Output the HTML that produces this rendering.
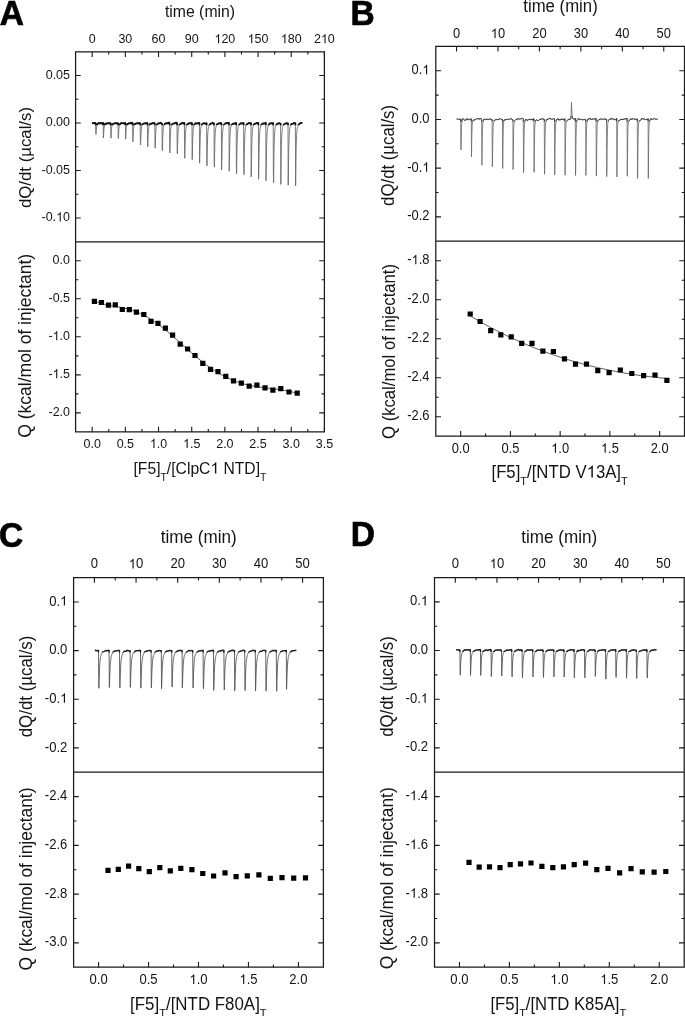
<!DOCTYPE html>
<html><head><meta charset="utf-8"><style>
html,body{margin:0;padding:0;background:#fff;}
svg{display:block;will-change:transform;}
text{font-family:"Liberation Sans", sans-serif;fill:#141414;font-kerning:none;}
</style></head><body>
<svg width="685" height="1016" viewBox="0 0 685 1016">
<rect width="685" height="1016" fill="#fff"/>
<path d="M92.19 51.80v5.20 M125.36 51.80v5.20 M158.53 51.80v5.20 M191.71 51.80v5.20 M224.88 51.80v5.20 M258.05 51.80v5.20 M291.23 51.80v5.20 M324.40 51.80v5.20 M108.77 51.80v2.80 M141.95 51.80v2.80 M175.12 51.80v2.80 M208.29 51.80v2.80 M241.47 51.80v2.80 M274.64 51.80v2.80 M307.81 51.80v2.80" stroke="#1a1a1a" stroke-width="1.1" fill="none"/>
<text transform="translate(92.19,43.20) scale(0.9346,1)" font-size="13.38" text-anchor="middle" style="" >0</text>
<text transform="translate(125.36,43.20) scale(0.9346,1)" font-size="13.38" text-anchor="middle" style="" >30</text>
<text transform="translate(158.53,43.20) scale(0.9346,1)" font-size="13.38" text-anchor="middle" style="" >60</text>
<text transform="translate(191.71,43.20) scale(0.9346,1)" font-size="13.38" text-anchor="middle" style="" >90</text>
<g transform="translate(224.88,43.20) scale(0.9346,1)"><text style="" ><tspan font-size="13.38" x="-11.16"> 20</tspan></text><polygon transform="translate(0,0.00)" points="-6.17,0.00 -7.35,0.00 -7.35,-7.20 -7.63,-6.95 -8.04,-6.65 -8.55,-6.34 -9.07,-6.07 -9.64,-5.81 -9.64,-6.90 -9.00,-7.21 -8.41,-7.57 -7.89,-7.98 -7.44,-8.41 -7.11,-8.82 -6.90,-9.20 -6.17,-9.20" style="fill:#141414"/></g>
<g transform="translate(258.05,43.20) scale(0.9346,1)"><text style="" ><tspan font-size="13.38" x="-11.16"> 50</tspan></text><polygon transform="translate(0,0.00)" points="-6.17,0.00 -7.35,0.00 -7.35,-7.20 -7.63,-6.95 -8.04,-6.65 -8.55,-6.34 -9.07,-6.07 -9.64,-5.81 -9.64,-6.90 -9.00,-7.21 -8.41,-7.57 -7.89,-7.98 -7.44,-8.41 -7.11,-8.82 -6.90,-9.20 -6.17,-9.20" style="fill:#141414"/></g>
<g transform="translate(291.23,43.20) scale(0.9346,1)"><text style="" ><tspan font-size="13.38" x="-11.16"> 80</tspan></text><polygon transform="translate(0,0.00)" points="-6.17,0.00 -7.35,0.00 -7.35,-7.20 -7.63,-6.95 -8.04,-6.65 -8.55,-6.34 -9.07,-6.07 -9.64,-5.81 -9.64,-6.90 -9.00,-7.21 -8.41,-7.57 -7.89,-7.98 -7.44,-8.41 -7.11,-8.82 -6.90,-9.20 -6.17,-9.20" style="fill:#141414"/></g>
<g transform="translate(324.40,43.20) scale(0.9346,1)"><text style="" ><tspan font-size="13.38" x="-11.16">2 0</tspan></text><polygon transform="translate(0,0.00)" points="1.26,0.00 0.09,0.00 0.09,-7.20 -0.19,-6.95 -0.60,-6.65 -1.11,-6.34 -1.63,-6.07 -2.20,-5.81 -2.20,-6.90 -1.56,-7.21 -0.98,-7.57 -0.45,-7.98 0.00,-8.41 0.33,-8.82 0.54,-9.20 1.26,-9.20" style="fill:#141414"/></g>
<path d="M75.60 218.01h5.20 M75.60 170.52h5.20 M75.60 123.03h5.20 M75.60 75.54h5.20 M75.60 194.26h2.80 M75.60 146.78h2.80 M75.60 99.29h2.80" stroke="#1a1a1a" stroke-width="1.1" fill="none"/>
<g transform="translate(70.00,221.41) scale(0.9346,1)"><text style="" ><tspan font-size="13.38" x="-30.49">-0. 0</tspan></text><polygon transform="translate(0,0.00)" points="-9.89,0.00 -11.07,0.00 -11.07,-7.20 -11.35,-6.95 -11.76,-6.65 -12.26,-6.34 -12.79,-6.07 -13.36,-5.81 -13.36,-6.90 -12.72,-7.21 -12.13,-7.57 -11.61,-7.98 -11.15,-8.41 -10.83,-8.82 -10.62,-9.20 -9.89,-9.20" style="fill:#141414"/></g>
<text transform="translate(70.00,173.92) scale(0.9346,1)" font-size="13.38" text-anchor="end" style="" >-0.05</text>
<text transform="translate(70.00,126.43) scale(0.9346,1)" font-size="13.38" text-anchor="end" style="" >0.00</text>
<text transform="translate(70.00,78.94) scale(0.9346,1)" font-size="13.38" text-anchor="end" style="" >0.05</text>
<path d="M324.40 218.01h-5.20 M324.40 170.52h-5.20 M324.40 123.03h-5.20 M324.40 75.54h-5.20 M324.40 194.26h-2.80 M324.40 146.78h-2.80 M324.40 99.29h-2.80" stroke="#1a1a1a" stroke-width="1.1" fill="none"/>
<path d="M75.60 412.88h5.20 M75.60 374.85h5.20 M75.60 336.82h5.20 M75.60 298.79h5.20 M75.60 260.76h5.20 M75.60 393.87h2.80 M75.60 355.84h2.80 M75.60 317.81h2.80 M75.60 279.78h2.80" stroke="#1a1a1a" stroke-width="1.1" fill="none"/>
<text transform="translate(70.00,416.28) scale(0.9346,1)" font-size="13.38" text-anchor="end" style="" >-2.0</text>
<g transform="translate(70.00,378.25) scale(0.9346,1)"><text style="" ><tspan font-size="13.38" x="-23.05">- .5</tspan></text><polygon transform="translate(0,0.00)" points="-13.61,0.00 -14.79,0.00 -14.79,-7.20 -15.07,-6.95 -15.47,-6.65 -15.98,-6.34 -16.50,-6.07 -17.07,-5.81 -17.07,-6.90 -16.44,-7.21 -15.85,-7.57 -15.33,-7.98 -14.87,-8.41 -14.54,-8.82 -14.34,-9.20 -13.61,-9.20" style="fill:#141414"/></g>
<g transform="translate(70.00,340.22) scale(0.9346,1)"><text style="" ><tspan font-size="13.38" x="-23.05">- .0</tspan></text><polygon transform="translate(0,0.00)" points="-13.61,0.00 -14.79,0.00 -14.79,-7.20 -15.07,-6.95 -15.47,-6.65 -15.98,-6.34 -16.50,-6.07 -17.07,-5.81 -17.07,-6.90 -16.44,-7.21 -15.85,-7.57 -15.33,-7.98 -14.87,-8.41 -14.54,-8.82 -14.34,-9.20 -13.61,-9.20" style="fill:#141414"/></g>
<text transform="translate(70.00,302.19) scale(0.9346,1)" font-size="13.38" text-anchor="end" style="" >-0.5</text>
<text transform="translate(70.00,264.16) scale(0.9346,1)" font-size="13.38" text-anchor="end" style="" >0.0</text>
<path d="M324.40 412.88h-5.20 M324.40 374.85h-5.20 M324.40 336.82h-5.20 M324.40 298.79h-5.20 M324.40 260.76h-5.20 M324.40 393.87h-2.80 M324.40 355.84h-2.80 M324.40 317.81h-2.80 M324.40 279.78h-2.80" stroke="#1a1a1a" stroke-width="1.1" fill="none"/>
<path d="M92.19 431.90v-5.20 M125.36 431.90v-5.20 M158.53 431.90v-5.20 M191.71 431.90v-5.20 M224.88 431.90v-5.20 M258.05 431.90v-5.20 M291.23 431.90v-5.20 M324.40 431.90v-5.20 M108.77 431.90v-2.80 M141.95 431.90v-2.80 M175.12 431.90v-2.80 M208.29 431.90v-2.80 M241.47 431.90v-2.80 M274.64 431.90v-2.80 M307.81 431.90v-2.80" stroke="#1a1a1a" stroke-width="1.1" fill="none"/>
<text transform="translate(92.19,447.90) scale(0.9346,1)" font-size="13.38" text-anchor="middle" style="" >0.0</text>
<text transform="translate(125.36,447.90) scale(0.9346,1)" font-size="13.38" text-anchor="middle" style="" >0.5</text>
<g transform="translate(158.53,447.90) scale(0.9346,1)"><text style="" ><tspan font-size="13.38" x="-9.30"> .0</tspan></text><polygon transform="translate(0,0.00)" points="-4.31,0.00 -5.49,0.00 -5.49,-7.20 -5.77,-6.95 -6.17,-6.65 -6.68,-6.34 -7.21,-6.07 -7.77,-5.81 -7.77,-6.90 -7.14,-7.21 -6.55,-7.57 -6.03,-7.98 -5.57,-8.41 -5.25,-8.82 -5.04,-9.20 -4.31,-9.20" style="fill:#141414"/></g>
<g transform="translate(191.71,447.90) scale(0.9346,1)"><text style="" ><tspan font-size="13.38" x="-9.30"> .5</tspan></text><polygon transform="translate(0,0.00)" points="-4.31,0.00 -5.49,0.00 -5.49,-7.20 -5.77,-6.95 -6.17,-6.65 -6.68,-6.34 -7.21,-6.07 -7.77,-5.81 -7.77,-6.90 -7.14,-7.21 -6.55,-7.57 -6.03,-7.98 -5.57,-8.41 -5.25,-8.82 -5.04,-9.20 -4.31,-9.20" style="fill:#141414"/></g>
<text transform="translate(224.88,447.90) scale(0.9346,1)" font-size="13.38" text-anchor="middle" style="" >2.0</text>
<text transform="translate(258.05,447.90) scale(0.9346,1)" font-size="13.38" text-anchor="middle" style="" >2.5</text>
<text transform="translate(291.23,447.90) scale(0.9346,1)" font-size="13.38" text-anchor="middle" style="" >3.0</text>
<text transform="translate(324.40,447.90) scale(0.9346,1)" font-size="13.38" text-anchor="middle" style="" >3.5</text>
<path d="M75.6 51.8H324.4V431.9H75.6Z M75.6 241.75H324.4" fill="none" stroke="#1a1a1a" stroke-width="1.25"/>
<g transform="translate(0,0.07)">
<clipPath id="cA"><rect x="0" y="120.03" width="685" height="5.2"/></clipPath>
<polyline points="92.00,123.14 92.20,123.18 92.40,123.11 92.60,122.96 92.80,123.00 93.00,122.84 93.20,122.89 93.40,123.02 93.60,122.96 93.80,122.95 94.00,123.15 94.20,123.04 94.40,122.96 94.60,122.89 94.80,122.95 95.00,122.92 95.20,122.96 95.40,122.85 95.60,123.13 95.80,133.09 96.00,134.45 96.20,131.51 96.40,129.04 96.60,126.99 96.80,125.79 97.00,124.86 97.20,124.26 97.40,123.88 97.60,123.69 97.80,123.65 98.00,123.57 98.20,123.42 98.40,123.19 98.60,123.13 98.80,122.87 99.00,123.11 99.20,123.18 99.40,123.31 99.60,123.41 99.80,123.48 100.00,123.38 100.20,123.14 100.40,123.00 100.60,122.75 100.80,122.79 101.00,122.94 101.20,123.02 101.40,123.12 101.60,123.45 101.80,123.43 102.00,123.24 102.20,123.23 102.40,123.26 102.60,123.06 102.80,122.91 103.00,122.94 103.20,122.91 103.40,137.93 103.60,135.20 103.80,131.46 104.00,128.74 104.20,127.14 104.40,125.85 104.60,125.04 104.80,124.58 105.00,124.14 105.20,123.70 105.40,123.43 105.60,123.50 105.80,123.47 106.00,123.49 106.20,123.57 106.40,123.75 106.60,123.55 106.80,123.56 107.00,123.58 107.20,123.40 107.40,123.08 107.60,123.14 107.80,123.17 108.00,123.13 108.20,123.05 108.40,123.18 108.60,123.06 108.80,122.94 109.00,123.01 109.20,123.23 109.40,123.30 109.60,123.40 109.80,123.48 110.00,123.36 110.20,123.21 110.40,123.09 110.60,123.03 110.80,136.24 111.00,138.15 111.20,134.08 111.40,130.69 111.60,128.31 111.80,126.63 112.00,125.59 112.20,124.83 112.40,124.46 112.60,124.16 112.80,124.02 113.00,123.82 113.20,123.97 113.40,123.78 113.60,123.72 113.80,123.55 114.00,123.57 114.20,123.42 114.40,123.31 114.60,123.31 114.80,123.26 115.00,123.10 115.20,122.97 115.40,123.22 115.60,123.15 115.80,123.06 116.00,123.15 116.20,123.21 116.40,123.03 116.60,123.13 116.80,123.25 117.00,123.21 117.20,123.29 117.40,123.31 117.60,123.18 117.80,123.11 118.00,123.02 118.20,136.55 118.40,138.33 118.60,134.01 118.80,130.51 119.00,128.03 119.20,126.26 119.40,125.36 119.60,124.77 119.80,124.33 120.00,124.07 120.20,123.90 120.40,123.57 120.60,123.45 120.80,123.27 121.00,123.15 121.20,123.15 121.40,123.06 121.60,123.06 121.80,122.88 122.00,122.90 122.20,122.96 122.40,123.17 122.60,123.30 122.80,123.30 123.00,123.37 123.20,123.40 123.40,123.38 123.60,123.13 123.80,123.30 124.00,123.39 124.20,123.14 124.40,123.09 124.60,123.27 124.80,123.17 125.00,123.05 125.20,123.09 125.40,122.97 125.60,139.09 125.80,136.20 126.00,132.09 126.20,129.35 126.40,127.41 126.60,126.22 126.80,125.45 127.00,124.94 127.20,124.34 127.40,124.20 127.60,123.96 127.80,123.75 128.00,123.60 128.20,123.73 128.40,123.60 128.60,123.41 128.80,123.20 129.00,123.19 129.20,123.02 129.40,123.08 129.60,123.24 129.80,123.28 130.00,123.29 130.20,123.22 130.40,122.92 130.60,123.07 130.80,122.95 131.00,122.90 131.20,123.05 131.40,123.24 131.60,122.90 131.80,123.16 132.00,122.97 132.20,122.76 132.40,122.71 132.60,122.93 132.80,141.76 133.00,138.51 133.20,133.90 133.40,130.54 133.60,128.13 133.80,126.61 134.00,125.62 134.20,124.98 134.40,124.58 134.60,124.30 134.80,124.03 135.00,123.80 135.20,123.67 135.40,123.56 135.60,123.54 135.80,123.67 136.00,123.58 136.20,123.53 136.40,123.33 136.60,123.28 136.80,123.15 137.00,123.08 137.20,123.07 137.40,123.21 137.60,123.18 137.80,123.06 138.00,123.20 138.20,123.20 138.40,123.16 138.60,123.27 138.80,123.41 139.00,123.29 139.20,123.23 139.40,123.21 139.60,123.09 139.80,122.81 140.00,122.96 140.20,123.00 140.40,142.25 140.60,144.85 140.80,139.19 141.00,134.01 141.20,130.61 141.40,128.20 141.60,126.83 141.80,125.71 142.00,125.08 142.20,124.65 142.40,124.44 142.60,124.28 142.80,124.06 143.00,123.83 143.20,123.66 143.40,123.61 143.60,123.55 143.80,123.59 144.00,123.46 144.20,123.45 144.40,123.48 144.60,123.34 144.80,123.18 145.00,123.34 145.20,123.24 145.40,123.15 145.60,123.12 145.80,123.28 146.00,123.29 146.20,123.26 146.40,123.24 146.60,123.32 146.80,123.14 147.00,123.05 147.20,122.90 147.40,122.93 147.60,143.84 147.80,146.64 148.00,140.00 148.20,134.70 148.40,130.97 148.60,128.58 148.80,127.21 149.00,126.20 149.20,125.37 149.40,124.86 149.60,124.53 149.80,124.20 150.00,124.20 150.20,124.06 150.40,123.80 150.60,123.74 150.80,123.81 151.00,123.62 151.20,123.79 151.40,123.72 151.60,123.60 151.80,123.38 152.00,123.21 152.20,123.05 152.40,123.16 152.60,123.10 152.80,123.09 153.00,123.34 153.20,123.19 153.40,122.96 153.60,122.90 153.80,122.79 154.00,122.78 154.20,122.92 154.40,122.97 154.60,122.97 154.80,123.33 155.00,145.17 155.20,148.15 155.40,141.44 155.60,135.81 155.80,131.68 156.00,129.11 156.20,127.40 156.40,126.31 156.60,125.48 156.80,124.76 157.00,124.56 157.20,124.43 157.40,124.13 157.60,123.93 157.80,123.95 158.00,123.67 158.20,123.38 158.40,123.35 158.60,123.17 158.80,123.13 159.00,123.01 159.20,123.08 159.40,123.00 159.60,123.26 159.80,123.10 160.00,123.08 160.20,123.01 160.40,122.91 160.60,122.68 160.80,122.80 161.00,122.99 161.20,123.19 161.40,123.21 161.60,123.50 161.80,123.63 162.00,123.54 162.20,147.30 162.40,150.74 162.60,143.04 162.80,136.36 163.00,132.12 163.20,129.53 163.40,127.63 163.60,126.45 163.80,125.90 164.00,125.26 164.20,124.86 164.40,124.55 164.60,124.17 164.80,123.89 165.00,123.82 165.20,123.62 165.40,123.37 165.60,123.40 165.80,123.18 166.00,123.08 166.20,123.23 166.40,123.39 166.60,123.19 166.80,123.16 167.00,123.23 167.20,123.04 167.40,123.07 167.60,123.24 167.80,123.36 168.00,123.21 168.20,123.11 168.40,122.78 168.60,122.55 168.80,122.54 169.00,122.55 169.20,122.66 169.40,122.92 169.60,123.07 169.80,152.95 170.00,147.44 170.20,139.99 170.40,134.51 170.60,131.07 170.80,128.69 171.00,127.29 171.20,126.42 171.40,125.94 171.60,125.33 171.80,125.01 172.00,124.55 172.20,124.22 172.40,123.96 172.60,123.67 172.80,123.60 173.00,123.57 173.20,123.50 173.40,123.38 173.60,123.56 173.80,123.50 174.00,123.45 174.20,123.21 174.40,123.21 174.60,123.17 174.80,122.99 175.00,122.99 175.20,123.15 175.40,122.90 175.60,122.75 175.80,122.65 176.00,122.72 176.20,122.61 176.40,122.75 176.60,122.77 176.80,122.76 177.00,122.73 177.20,149.92 177.40,153.79 177.60,145.34 177.80,138.46 178.00,133.65 178.20,130.62 178.40,128.63 178.60,127.24 178.80,126.25 179.00,125.62 179.20,125.12 179.40,124.67 179.60,124.42 179.80,124.22 180.00,124.20 180.20,123.95 180.40,123.92 180.60,123.82 180.80,123.73 181.00,123.51 181.20,123.61 181.40,123.26 181.60,123.20 181.80,123.00 182.00,122.92 182.20,122.73 182.40,122.90 182.60,122.99 182.80,123.24 183.00,122.98 183.20,123.00 183.40,123.08 183.60,123.01 183.80,122.80 184.00,122.92 184.20,122.86 184.40,122.89 184.60,153.95 184.80,158.32 185.00,148.78 185.20,140.80 185.40,135.24 185.60,131.62 185.80,129.27 186.00,127.71 186.20,126.63 186.40,125.78 186.60,125.25 186.80,124.93 187.00,124.56 187.20,124.32 187.40,124.14 187.60,123.99 187.80,123.83 188.00,123.80 188.20,123.75 188.40,123.72 188.60,123.50 188.80,123.31 189.00,123.26 189.20,123.10 189.40,123.12 189.60,123.09 189.80,123.18 190.00,123.26 190.20,123.23 190.40,123.07 190.60,123.17 190.80,123.19 191.00,123.08 191.20,123.00 191.40,123.14 191.60,123.21 191.80,122.93 192.00,122.98 192.20,159.56 192.40,152.80 192.60,143.65 192.80,137.17 193.00,132.83 193.20,130.16 193.40,128.38 193.60,126.99 193.80,126.06 194.00,125.28 194.20,124.53 194.40,124.30 194.60,124.08 194.80,123.93 195.00,123.75 195.20,123.67 195.40,123.37 195.60,123.17 195.80,123.33 196.00,123.31 196.20,123.27 196.40,123.28 196.60,123.48 196.80,123.40 197.00,123.39 197.20,123.46 197.40,123.42 197.60,123.32 197.80,123.20 198.00,123.15 198.20,123.00 198.40,122.99 198.60,122.82 198.80,122.92 199.00,123.00 199.20,123.01 199.40,122.96 199.60,163.12 199.80,155.67 200.00,145.80 200.20,138.57 200.40,133.70 200.60,130.67 200.80,128.61 201.00,127.15 201.20,126.35 201.40,125.80 201.60,125.33 201.80,124.87 202.00,124.56 202.20,124.20 202.40,123.92 202.60,123.74 202.80,123.74 203.00,123.44 203.20,123.32 203.40,123.37 203.60,123.34 203.80,123.17 204.00,123.28 204.20,123.21 204.40,123.37 204.60,123.29 204.80,123.40 205.00,123.45 205.20,123.64 205.40,123.45 205.60,123.37 205.80,123.34 206.00,123.28 206.20,123.30 206.40,123.17 206.60,123.15 206.80,160.50 207.00,165.84 207.20,154.17 207.40,144.42 207.60,137.86 207.80,133.44 208.00,130.65 208.20,128.82 208.40,127.69 208.60,126.80 208.80,126.13 209.00,125.56 209.20,125.24 209.40,124.87 209.60,124.59 209.80,124.54 210.00,124.23 210.20,124.01 210.40,123.78 210.60,123.60 210.80,123.46 211.00,123.46 211.20,123.50 211.40,123.48 211.60,123.53 211.80,123.34 212.00,123.11 212.20,122.75 212.40,122.79 212.60,122.66 212.80,122.85 213.00,123.13 213.20,123.25 213.40,123.35 213.60,123.46 213.80,123.45 214.00,123.30 214.20,161.83 214.40,166.97 214.60,155.11 214.80,144.95 215.00,138.17 215.20,133.70 215.40,130.88 215.60,128.86 215.80,127.62 216.00,126.76 216.20,125.88 216.40,125.40 216.60,125.07 216.80,124.62 217.00,124.33 217.20,124.13 217.40,124.03 217.60,123.81 217.80,123.75 218.00,123.72 218.20,123.74 218.40,123.59 218.60,123.45 218.80,123.36 219.00,123.08 219.20,123.03 219.40,123.04 219.60,123.12 219.80,123.23 220.00,123.24 220.20,123.16 220.40,123.01 220.60,123.03 220.80,122.97 221.00,123.05 221.20,123.18 221.40,123.20 221.60,169.94 221.80,161.49 222.00,149.82 222.20,141.39 222.40,136.02 222.60,132.41 222.80,129.96 223.00,128.33 223.20,127.36 223.40,126.20 223.60,125.48 223.80,124.87 224.00,124.71 224.20,124.28 224.40,124.23 224.60,124.03 224.80,124.00 225.00,123.73 225.20,123.53 225.40,123.32 225.60,123.26 225.80,123.17 226.00,123.13 226.20,123.15 226.40,123.23 226.60,123.13 226.80,123.09 227.00,122.94 227.20,122.91 227.40,122.95 227.60,123.03 227.80,122.92 228.00,123.09 228.20,123.11 228.40,123.00 228.60,122.78 228.80,122.86 229.00,122.82 229.20,171.09 229.40,162.29 229.60,150.54 229.80,141.87 230.00,136.19 230.20,132.26 230.40,129.84 230.60,128.14 230.80,127.03 231.00,125.98 231.20,125.50 231.40,125.00 231.60,124.69 231.80,124.43 232.00,124.43 232.20,124.05 232.40,124.02 232.60,123.96 232.80,123.77 233.00,123.69 233.20,123.78 233.40,123.74 233.60,123.57 233.80,123.47 234.00,123.41 234.20,123.55 234.40,123.46 234.60,123.56 234.80,123.57 235.00,123.32 235.20,123.09 235.40,123.15 235.60,122.89 235.80,122.88 236.00,122.82 236.20,122.84 236.40,167.34 236.60,173.63 236.80,159.84 237.00,148.51 237.20,140.62 237.40,135.28 237.60,131.89 237.80,129.48 238.00,127.87 238.20,126.71 238.40,126.11 238.60,125.71 238.80,125.37 239.00,124.88 239.20,124.73 239.40,124.40 239.60,124.15 239.80,123.90 240.00,123.88 240.20,123.62 240.40,123.30 240.60,123.13 240.80,123.25 241.00,123.29 241.20,123.28 241.40,123.32 241.60,123.53 241.80,123.47 242.00,123.23 242.20,123.14 242.40,123.15 242.60,123.08 242.80,123.02 243.00,122.98 243.20,123.02 243.40,123.25 243.60,123.05 243.80,168.21 244.00,174.59 244.20,160.70 244.40,148.72 244.60,140.87 244.80,135.75 245.00,132.29 245.20,129.89 245.40,128.28 245.60,127.12 245.80,126.14 246.00,125.53 246.20,125.14 246.40,124.76 246.60,124.51 246.80,124.32 247.00,124.12 247.20,123.97 247.40,124.04 247.60,123.86 247.80,123.66 248.00,123.68 248.20,123.55 248.40,123.34 248.60,123.14 248.80,123.17 249.00,122.93 249.20,122.89 249.40,122.97 249.60,123.08 249.80,123.15 250.00,123.26 250.20,123.25 250.40,123.17 250.60,123.11 250.80,123.06 251.00,123.03 251.20,176.82 251.40,167.11 251.60,153.81 251.80,144.07 252.00,137.58 252.20,133.49 252.40,130.68 252.60,128.81 252.80,127.50 253.00,126.63 253.20,125.88 253.40,125.35 253.60,124.93 253.80,124.63 254.00,124.40 254.20,124.23 254.40,124.05 254.60,123.84 254.80,123.79 255.00,123.80 255.20,123.75 255.40,123.63 255.60,123.62 255.80,123.39 256.00,123.33 256.20,123.03 256.40,122.97 256.60,122.92 256.80,123.08 257.00,122.99 257.20,123.07 257.40,122.96 257.60,122.91 257.80,122.83 258.00,122.83 258.20,122.89 258.40,122.95 258.60,179.09 258.80,168.93 259.00,154.90 259.20,144.87 259.40,138.45 259.60,134.18 259.80,131.18 260.00,129.38 260.20,127.95 260.40,126.84 260.60,126.20 260.80,125.87 261.00,125.23 261.20,125.02 261.40,124.92 261.60,124.50 261.80,124.17 262.00,124.30 262.20,124.05 262.40,123.81 262.60,123.75 262.80,123.47 263.00,123.30 263.20,123.27 263.40,123.26 263.60,123.41 263.80,123.61 264.00,123.51 264.20,123.54 264.40,123.45 264.60,123.33 264.80,123.12 265.00,123.04 265.20,122.80 265.40,122.83 265.60,122.72 265.80,122.79 266.00,180.72 266.20,170.29 266.40,155.78 266.60,145.38 266.80,138.55 267.00,134.26 267.20,131.37 267.40,129.37 267.60,127.95 267.80,127.09 268.00,126.26 268.20,125.70 268.40,125.39 268.60,125.24 268.80,124.74 269.00,124.39 269.20,124.02 269.40,123.83 269.60,123.52 269.80,123.45 270.00,123.35 270.20,123.48 270.40,123.35 270.60,123.27 270.80,123.40 271.00,123.32 271.20,123.11 271.40,123.32 271.60,123.31 271.80,123.12 272.00,123.13 272.20,123.21 272.40,123.03 272.60,123.12 272.80,123.21 273.00,123.24 273.20,123.11 273.40,175.34 273.60,182.72 273.80,166.59 274.00,152.96 274.20,143.93 274.40,137.83 274.60,133.72 274.80,130.85 275.00,129.01 275.20,127.66 275.40,126.73 275.60,126.10 275.80,125.84 276.00,125.56 276.20,125.18 276.40,124.84 276.60,124.48 276.80,124.03 277.00,123.75 277.20,123.67 277.40,123.64 277.60,123.61 277.80,123.63 278.00,123.54 278.20,123.38 278.40,123.46 278.60,123.49 278.80,123.36 279.00,123.25 279.20,123.24 279.40,123.06 279.60,123.06 279.80,123.21 280.00,123.38 280.20,123.51 280.40,123.60 280.60,123.54 280.80,184.28 281.00,173.08 281.20,157.74 281.40,146.73 281.60,139.64 281.80,134.85 282.00,131.69 282.20,129.82 282.40,128.37 282.60,127.11 282.80,126.51 283.00,126.03 283.20,125.55 283.40,125.12 283.60,124.91 283.80,124.55 284.00,124.36 284.20,124.23 284.40,124.23 284.60,124.08 284.80,124.00 285.00,123.74 285.20,123.62 285.40,123.52 285.60,123.41 285.80,123.23 286.00,123.29 286.20,123.08 286.40,123.02 286.60,123.06 286.80,123.02 287.00,123.01 287.20,123.20 287.40,123.25 287.60,123.30 287.80,123.37 288.00,123.32 288.20,185.08 288.40,173.75 288.60,158.50 288.80,147.56 289.00,140.41 289.20,135.78 289.40,132.41 289.60,130.03 289.80,128.36 290.00,127.26 290.20,126.49 290.40,125.98 290.60,125.53 290.80,125.24 291.00,124.78 291.20,124.32 291.40,124.11 291.60,124.01 291.80,123.73 292.00,123.75 292.20,123.71 292.40,123.75 292.60,123.73 292.80,123.68 293.00,123.45 293.20,123.43 293.40,123.23 293.60,122.99 293.80,123.01 294.00,123.07 294.20,122.90 294.40,122.94 294.60,123.04 294.80,123.16 295.00,122.95 295.20,123.17 295.40,123.28 295.60,185.92 295.80,174.21 296.00,158.84 296.20,147.43 296.40,139.94 296.60,135.26 296.80,132.14 297.00,129.93 297.20,128.49 297.40,127.47 297.60,126.74 297.80,126.32 298.00,125.85 298.20,125.40 298.40,125.22 298.60,124.87 298.80,124.54 299.00,124.25 299.20,124.19 299.40,123.78 299.60,123.57 299.80,123.32 300.00,123.29 300.20,123.16 300.40,123.04 300.60,122.95 300.80,123.02 301.00,122.92 301.20,122.77 301.40,122.80 301.60,122.74 301.80,122.78 302.00,122.79 302.20,122.88 302.40,122.95" fill="none" stroke="#666" stroke-width="0.85" stroke-linejoin="round"/>
<polyline clip-path="url(#cA)" points="92.00,123.14 92.20,123.18 92.40,123.11 92.60,122.96 92.80,123.00 93.00,122.84 93.20,122.89 93.40,123.02 93.60,122.96 93.80,122.95 94.00,123.15 94.20,123.04 94.40,122.96 94.60,122.89 94.80,122.95 95.00,122.92 95.20,122.96 95.40,122.85 95.60,123.13 95.80,133.09 96.00,134.45 96.20,131.51 96.40,129.04 96.60,126.99 96.80,125.79 97.00,124.86 97.20,124.26 97.40,123.88 97.60,123.69 97.80,123.65 98.00,123.57 98.20,123.42 98.40,123.19 98.60,123.13 98.80,122.87 99.00,123.11 99.20,123.18 99.40,123.31 99.60,123.41 99.80,123.48 100.00,123.38 100.20,123.14 100.40,123.00 100.60,122.75 100.80,122.79 101.00,122.94 101.20,123.02 101.40,123.12 101.60,123.45 101.80,123.43 102.00,123.24 102.20,123.23 102.40,123.26 102.60,123.06 102.80,122.91 103.00,122.94 103.20,122.91 103.40,137.93 103.60,135.20 103.80,131.46 104.00,128.74 104.20,127.14 104.40,125.85 104.60,125.04 104.80,124.58 105.00,124.14 105.20,123.70 105.40,123.43 105.60,123.50 105.80,123.47 106.00,123.49 106.20,123.57 106.40,123.75 106.60,123.55 106.80,123.56 107.00,123.58 107.20,123.40 107.40,123.08 107.60,123.14 107.80,123.17 108.00,123.13 108.20,123.05 108.40,123.18 108.60,123.06 108.80,122.94 109.00,123.01 109.20,123.23 109.40,123.30 109.60,123.40 109.80,123.48 110.00,123.36 110.20,123.21 110.40,123.09 110.60,123.03 110.80,136.24 111.00,138.15 111.20,134.08 111.40,130.69 111.60,128.31 111.80,126.63 112.00,125.59 112.20,124.83 112.40,124.46 112.60,124.16 112.80,124.02 113.00,123.82 113.20,123.97 113.40,123.78 113.60,123.72 113.80,123.55 114.00,123.57 114.20,123.42 114.40,123.31 114.60,123.31 114.80,123.26 115.00,123.10 115.20,122.97 115.40,123.22 115.60,123.15 115.80,123.06 116.00,123.15 116.20,123.21 116.40,123.03 116.60,123.13 116.80,123.25 117.00,123.21 117.20,123.29 117.40,123.31 117.60,123.18 117.80,123.11 118.00,123.02 118.20,136.55 118.40,138.33 118.60,134.01 118.80,130.51 119.00,128.03 119.20,126.26 119.40,125.36 119.60,124.77 119.80,124.33 120.00,124.07 120.20,123.90 120.40,123.57 120.60,123.45 120.80,123.27 121.00,123.15 121.20,123.15 121.40,123.06 121.60,123.06 121.80,122.88 122.00,122.90 122.20,122.96 122.40,123.17 122.60,123.30 122.80,123.30 123.00,123.37 123.20,123.40 123.40,123.38 123.60,123.13 123.80,123.30 124.00,123.39 124.20,123.14 124.40,123.09 124.60,123.27 124.80,123.17 125.00,123.05 125.20,123.09 125.40,122.97 125.60,139.09 125.80,136.20 126.00,132.09 126.20,129.35 126.40,127.41 126.60,126.22 126.80,125.45 127.00,124.94 127.20,124.34 127.40,124.20 127.60,123.96 127.80,123.75 128.00,123.60 128.20,123.73 128.40,123.60 128.60,123.41 128.80,123.20 129.00,123.19 129.20,123.02 129.40,123.08 129.60,123.24 129.80,123.28 130.00,123.29 130.20,123.22 130.40,122.92 130.60,123.07 130.80,122.95 131.00,122.90 131.20,123.05 131.40,123.24 131.60,122.90 131.80,123.16 132.00,122.97 132.20,122.76 132.40,122.71 132.60,122.93 132.80,141.76 133.00,138.51 133.20,133.90 133.40,130.54 133.60,128.13 133.80,126.61 134.00,125.62 134.20,124.98 134.40,124.58 134.60,124.30 134.80,124.03 135.00,123.80 135.20,123.67 135.40,123.56 135.60,123.54 135.80,123.67 136.00,123.58 136.20,123.53 136.40,123.33 136.60,123.28 136.80,123.15 137.00,123.08 137.20,123.07 137.40,123.21 137.60,123.18 137.80,123.06 138.00,123.20 138.20,123.20 138.40,123.16 138.60,123.27 138.80,123.41 139.00,123.29 139.20,123.23 139.40,123.21 139.60,123.09 139.80,122.81 140.00,122.96 140.20,123.00 140.40,142.25 140.60,144.85 140.80,139.19 141.00,134.01 141.20,130.61 141.40,128.20 141.60,126.83 141.80,125.71 142.00,125.08 142.20,124.65 142.40,124.44 142.60,124.28 142.80,124.06 143.00,123.83 143.20,123.66 143.40,123.61 143.60,123.55 143.80,123.59 144.00,123.46 144.20,123.45 144.40,123.48 144.60,123.34 144.80,123.18 145.00,123.34 145.20,123.24 145.40,123.15 145.60,123.12 145.80,123.28 146.00,123.29 146.20,123.26 146.40,123.24 146.60,123.32 146.80,123.14 147.00,123.05 147.20,122.90 147.40,122.93 147.60,143.84 147.80,146.64 148.00,140.00 148.20,134.70 148.40,130.97 148.60,128.58 148.80,127.21 149.00,126.20 149.20,125.37 149.40,124.86 149.60,124.53 149.80,124.20 150.00,124.20 150.20,124.06 150.40,123.80 150.60,123.74 150.80,123.81 151.00,123.62 151.20,123.79 151.40,123.72 151.60,123.60 151.80,123.38 152.00,123.21 152.20,123.05 152.40,123.16 152.60,123.10 152.80,123.09 153.00,123.34 153.20,123.19 153.40,122.96 153.60,122.90 153.80,122.79 154.00,122.78 154.20,122.92 154.40,122.97 154.60,122.97 154.80,123.33 155.00,145.17 155.20,148.15 155.40,141.44 155.60,135.81 155.80,131.68 156.00,129.11 156.20,127.40 156.40,126.31 156.60,125.48 156.80,124.76 157.00,124.56 157.20,124.43 157.40,124.13 157.60,123.93 157.80,123.95 158.00,123.67 158.20,123.38 158.40,123.35 158.60,123.17 158.80,123.13 159.00,123.01 159.20,123.08 159.40,123.00 159.60,123.26 159.80,123.10 160.00,123.08 160.20,123.01 160.40,122.91 160.60,122.68 160.80,122.80 161.00,122.99 161.20,123.19 161.40,123.21 161.60,123.50 161.80,123.63 162.00,123.54 162.20,147.30 162.40,150.74 162.60,143.04 162.80,136.36 163.00,132.12 163.20,129.53 163.40,127.63 163.60,126.45 163.80,125.90 164.00,125.26 164.20,124.86 164.40,124.55 164.60,124.17 164.80,123.89 165.00,123.82 165.20,123.62 165.40,123.37 165.60,123.40 165.80,123.18 166.00,123.08 166.20,123.23 166.40,123.39 166.60,123.19 166.80,123.16 167.00,123.23 167.20,123.04 167.40,123.07 167.60,123.24 167.80,123.36 168.00,123.21 168.20,123.11 168.40,122.78 168.60,122.55 168.80,122.54 169.00,122.55 169.20,122.66 169.40,122.92 169.60,123.07 169.80,152.95 170.00,147.44 170.20,139.99 170.40,134.51 170.60,131.07 170.80,128.69 171.00,127.29 171.20,126.42 171.40,125.94 171.60,125.33 171.80,125.01 172.00,124.55 172.20,124.22 172.40,123.96 172.60,123.67 172.80,123.60 173.00,123.57 173.20,123.50 173.40,123.38 173.60,123.56 173.80,123.50 174.00,123.45 174.20,123.21 174.40,123.21 174.60,123.17 174.80,122.99 175.00,122.99 175.20,123.15 175.40,122.90 175.60,122.75 175.80,122.65 176.00,122.72 176.20,122.61 176.40,122.75 176.60,122.77 176.80,122.76 177.00,122.73 177.20,149.92 177.40,153.79 177.60,145.34 177.80,138.46 178.00,133.65 178.20,130.62 178.40,128.63 178.60,127.24 178.80,126.25 179.00,125.62 179.20,125.12 179.40,124.67 179.60,124.42 179.80,124.22 180.00,124.20 180.20,123.95 180.40,123.92 180.60,123.82 180.80,123.73 181.00,123.51 181.20,123.61 181.40,123.26 181.60,123.20 181.80,123.00 182.00,122.92 182.20,122.73 182.40,122.90 182.60,122.99 182.80,123.24 183.00,122.98 183.20,123.00 183.40,123.08 183.60,123.01 183.80,122.80 184.00,122.92 184.20,122.86 184.40,122.89 184.60,153.95 184.80,158.32 185.00,148.78 185.20,140.80 185.40,135.24 185.60,131.62 185.80,129.27 186.00,127.71 186.20,126.63 186.40,125.78 186.60,125.25 186.80,124.93 187.00,124.56 187.20,124.32 187.40,124.14 187.60,123.99 187.80,123.83 188.00,123.80 188.20,123.75 188.40,123.72 188.60,123.50 188.80,123.31 189.00,123.26 189.20,123.10 189.40,123.12 189.60,123.09 189.80,123.18 190.00,123.26 190.20,123.23 190.40,123.07 190.60,123.17 190.80,123.19 191.00,123.08 191.20,123.00 191.40,123.14 191.60,123.21 191.80,122.93 192.00,122.98 192.20,159.56 192.40,152.80 192.60,143.65 192.80,137.17 193.00,132.83 193.20,130.16 193.40,128.38 193.60,126.99 193.80,126.06 194.00,125.28 194.20,124.53 194.40,124.30 194.60,124.08 194.80,123.93 195.00,123.75 195.20,123.67 195.40,123.37 195.60,123.17 195.80,123.33 196.00,123.31 196.20,123.27 196.40,123.28 196.60,123.48 196.80,123.40 197.00,123.39 197.20,123.46 197.40,123.42 197.60,123.32 197.80,123.20 198.00,123.15 198.20,123.00 198.40,122.99 198.60,122.82 198.80,122.92 199.00,123.00 199.20,123.01 199.40,122.96 199.60,163.12 199.80,155.67 200.00,145.80 200.20,138.57 200.40,133.70 200.60,130.67 200.80,128.61 201.00,127.15 201.20,126.35 201.40,125.80 201.60,125.33 201.80,124.87 202.00,124.56 202.20,124.20 202.40,123.92 202.60,123.74 202.80,123.74 203.00,123.44 203.20,123.32 203.40,123.37 203.60,123.34 203.80,123.17 204.00,123.28 204.20,123.21 204.40,123.37 204.60,123.29 204.80,123.40 205.00,123.45 205.20,123.64 205.40,123.45 205.60,123.37 205.80,123.34 206.00,123.28 206.20,123.30 206.40,123.17 206.60,123.15 206.80,160.50 207.00,165.84 207.20,154.17 207.40,144.42 207.60,137.86 207.80,133.44 208.00,130.65 208.20,128.82 208.40,127.69 208.60,126.80 208.80,126.13 209.00,125.56 209.20,125.24 209.40,124.87 209.60,124.59 209.80,124.54 210.00,124.23 210.20,124.01 210.40,123.78 210.60,123.60 210.80,123.46 211.00,123.46 211.20,123.50 211.40,123.48 211.60,123.53 211.80,123.34 212.00,123.11 212.20,122.75 212.40,122.79 212.60,122.66 212.80,122.85 213.00,123.13 213.20,123.25 213.40,123.35 213.60,123.46 213.80,123.45 214.00,123.30 214.20,161.83 214.40,166.97 214.60,155.11 214.80,144.95 215.00,138.17 215.20,133.70 215.40,130.88 215.60,128.86 215.80,127.62 216.00,126.76 216.20,125.88 216.40,125.40 216.60,125.07 216.80,124.62 217.00,124.33 217.20,124.13 217.40,124.03 217.60,123.81 217.80,123.75 218.00,123.72 218.20,123.74 218.40,123.59 218.60,123.45 218.80,123.36 219.00,123.08 219.20,123.03 219.40,123.04 219.60,123.12 219.80,123.23 220.00,123.24 220.20,123.16 220.40,123.01 220.60,123.03 220.80,122.97 221.00,123.05 221.20,123.18 221.40,123.20 221.60,169.94 221.80,161.49 222.00,149.82 222.20,141.39 222.40,136.02 222.60,132.41 222.80,129.96 223.00,128.33 223.20,127.36 223.40,126.20 223.60,125.48 223.80,124.87 224.00,124.71 224.20,124.28 224.40,124.23 224.60,124.03 224.80,124.00 225.00,123.73 225.20,123.53 225.40,123.32 225.60,123.26 225.80,123.17 226.00,123.13 226.20,123.15 226.40,123.23 226.60,123.13 226.80,123.09 227.00,122.94 227.20,122.91 227.40,122.95 227.60,123.03 227.80,122.92 228.00,123.09 228.20,123.11 228.40,123.00 228.60,122.78 228.80,122.86 229.00,122.82 229.20,171.09 229.40,162.29 229.60,150.54 229.80,141.87 230.00,136.19 230.20,132.26 230.40,129.84 230.60,128.14 230.80,127.03 231.00,125.98 231.20,125.50 231.40,125.00 231.60,124.69 231.80,124.43 232.00,124.43 232.20,124.05 232.40,124.02 232.60,123.96 232.80,123.77 233.00,123.69 233.20,123.78 233.40,123.74 233.60,123.57 233.80,123.47 234.00,123.41 234.20,123.55 234.40,123.46 234.60,123.56 234.80,123.57 235.00,123.32 235.20,123.09 235.40,123.15 235.60,122.89 235.80,122.88 236.00,122.82 236.20,122.84 236.40,167.34 236.60,173.63 236.80,159.84 237.00,148.51 237.20,140.62 237.40,135.28 237.60,131.89 237.80,129.48 238.00,127.87 238.20,126.71 238.40,126.11 238.60,125.71 238.80,125.37 239.00,124.88 239.20,124.73 239.40,124.40 239.60,124.15 239.80,123.90 240.00,123.88 240.20,123.62 240.40,123.30 240.60,123.13 240.80,123.25 241.00,123.29 241.20,123.28 241.40,123.32 241.60,123.53 241.80,123.47 242.00,123.23 242.20,123.14 242.40,123.15 242.60,123.08 242.80,123.02 243.00,122.98 243.20,123.02 243.40,123.25 243.60,123.05 243.80,168.21 244.00,174.59 244.20,160.70 244.40,148.72 244.60,140.87 244.80,135.75 245.00,132.29 245.20,129.89 245.40,128.28 245.60,127.12 245.80,126.14 246.00,125.53 246.20,125.14 246.40,124.76 246.60,124.51 246.80,124.32 247.00,124.12 247.20,123.97 247.40,124.04 247.60,123.86 247.80,123.66 248.00,123.68 248.20,123.55 248.40,123.34 248.60,123.14 248.80,123.17 249.00,122.93 249.20,122.89 249.40,122.97 249.60,123.08 249.80,123.15 250.00,123.26 250.20,123.25 250.40,123.17 250.60,123.11 250.80,123.06 251.00,123.03 251.20,176.82 251.40,167.11 251.60,153.81 251.80,144.07 252.00,137.58 252.20,133.49 252.40,130.68 252.60,128.81 252.80,127.50 253.00,126.63 253.20,125.88 253.40,125.35 253.60,124.93 253.80,124.63 254.00,124.40 254.20,124.23 254.40,124.05 254.60,123.84 254.80,123.79 255.00,123.80 255.20,123.75 255.40,123.63 255.60,123.62 255.80,123.39 256.00,123.33 256.20,123.03 256.40,122.97 256.60,122.92 256.80,123.08 257.00,122.99 257.20,123.07 257.40,122.96 257.60,122.91 257.80,122.83 258.00,122.83 258.20,122.89 258.40,122.95 258.60,179.09 258.80,168.93 259.00,154.90 259.20,144.87 259.40,138.45 259.60,134.18 259.80,131.18 260.00,129.38 260.20,127.95 260.40,126.84 260.60,126.20 260.80,125.87 261.00,125.23 261.20,125.02 261.40,124.92 261.60,124.50 261.80,124.17 262.00,124.30 262.20,124.05 262.40,123.81 262.60,123.75 262.80,123.47 263.00,123.30 263.20,123.27 263.40,123.26 263.60,123.41 263.80,123.61 264.00,123.51 264.20,123.54 264.40,123.45 264.60,123.33 264.80,123.12 265.00,123.04 265.20,122.80 265.40,122.83 265.60,122.72 265.80,122.79 266.00,180.72 266.20,170.29 266.40,155.78 266.60,145.38 266.80,138.55 267.00,134.26 267.20,131.37 267.40,129.37 267.60,127.95 267.80,127.09 268.00,126.26 268.20,125.70 268.40,125.39 268.60,125.24 268.80,124.74 269.00,124.39 269.20,124.02 269.40,123.83 269.60,123.52 269.80,123.45 270.00,123.35 270.20,123.48 270.40,123.35 270.60,123.27 270.80,123.40 271.00,123.32 271.20,123.11 271.40,123.32 271.60,123.31 271.80,123.12 272.00,123.13 272.20,123.21 272.40,123.03 272.60,123.12 272.80,123.21 273.00,123.24 273.20,123.11 273.40,175.34 273.60,182.72 273.80,166.59 274.00,152.96 274.20,143.93 274.40,137.83 274.60,133.72 274.80,130.85 275.00,129.01 275.20,127.66 275.40,126.73 275.60,126.10 275.80,125.84 276.00,125.56 276.20,125.18 276.40,124.84 276.60,124.48 276.80,124.03 277.00,123.75 277.20,123.67 277.40,123.64 277.60,123.61 277.80,123.63 278.00,123.54 278.20,123.38 278.40,123.46 278.60,123.49 278.80,123.36 279.00,123.25 279.20,123.24 279.40,123.06 279.60,123.06 279.80,123.21 280.00,123.38 280.20,123.51 280.40,123.60 280.60,123.54 280.80,184.28 281.00,173.08 281.20,157.74 281.40,146.73 281.60,139.64 281.80,134.85 282.00,131.69 282.20,129.82 282.40,128.37 282.60,127.11 282.80,126.51 283.00,126.03 283.20,125.55 283.40,125.12 283.60,124.91 283.80,124.55 284.00,124.36 284.20,124.23 284.40,124.23 284.60,124.08 284.80,124.00 285.00,123.74 285.20,123.62 285.40,123.52 285.60,123.41 285.80,123.23 286.00,123.29 286.20,123.08 286.40,123.02 286.60,123.06 286.80,123.02 287.00,123.01 287.20,123.20 287.40,123.25 287.60,123.30 287.80,123.37 288.00,123.32 288.20,185.08 288.40,173.75 288.60,158.50 288.80,147.56 289.00,140.41 289.20,135.78 289.40,132.41 289.60,130.03 289.80,128.36 290.00,127.26 290.20,126.49 290.40,125.98 290.60,125.53 290.80,125.24 291.00,124.78 291.20,124.32 291.40,124.11 291.60,124.01 291.80,123.73 292.00,123.75 292.20,123.71 292.40,123.75 292.60,123.73 292.80,123.68 293.00,123.45 293.20,123.43 293.40,123.23 293.60,122.99 293.80,123.01 294.00,123.07 294.20,122.90 294.40,122.94 294.60,123.04 294.80,123.16 295.00,122.95 295.20,123.17 295.40,123.28 295.60,185.92 295.80,174.21 296.00,158.84 296.20,147.43 296.40,139.94 296.60,135.26 296.80,132.14 297.00,129.93 297.20,128.49 297.40,127.47 297.60,126.74 297.80,126.32 298.00,125.85 298.20,125.40 298.40,125.22 298.60,124.87 298.80,124.54 299.00,124.25 299.20,124.19 299.40,123.78 299.60,123.57 299.80,123.32 300.00,123.29 300.20,123.16 300.40,123.04 300.60,122.95 300.80,123.02 301.00,122.92 301.20,122.77 301.40,122.80 301.60,122.74 301.80,122.78 302.00,122.79 302.20,122.88 302.40,122.95" fill="none" stroke="#111" stroke-width="1.8" stroke-linejoin="round"/>
</g>
<polyline points="94.40,300.65 96.10,301.50 97.81,302.24 99.51,302.89 101.22,303.45 102.92,303.94 104.63,304.37 106.33,304.76 108.03,305.10 109.74,305.42 111.44,305.71 113.15,306.00 114.85,306.28 116.55,306.57 118.26,306.86 119.96,307.18 121.67,307.51 123.37,307.87 125.08,308.26 126.78,308.68 128.48,309.14 130.19,309.63 131.89,310.17 133.60,310.76 135.30,311.39 137.01,312.06 138.71,312.79 140.41,313.56 142.12,314.38 143.82,315.25 145.53,316.17 147.23,317.13 148.93,318.14 150.64,319.20 152.34,320.30 154.05,321.44 155.75,322.62 157.46,323.84 159.16,325.10 160.86,326.40 162.57,327.72 164.27,329.08 165.98,330.47 167.68,331.88 169.38,333.31 171.09,334.76 172.79,336.23 174.50,337.72 176.20,339.22 177.91,340.73 179.61,342.24 181.31,343.76 183.02,345.28 184.72,346.80 186.43,348.31 188.13,349.82 189.84,351.31 191.54,352.80 193.24,354.27 194.95,355.72 196.65,357.16 198.36,358.57 200.06,359.97 201.76,361.33 203.47,362.67 205.17,363.98 206.88,365.26 208.58,366.51 210.29,367.73 211.99,368.91 213.69,370.05 215.40,371.16 217.10,372.23 218.81,373.27 220.51,374.26 222.22,375.22 223.92,376.13 225.62,377.01 227.33,377.84 229.03,378.64 230.74,379.39 232.44,380.11 234.14,380.79 235.85,381.43 237.55,382.03 239.26,382.60 240.96,383.13 242.67,383.63 244.37,384.09 246.07,384.53 247.78,384.93 249.48,385.31 251.19,385.66 252.89,385.99 254.59,386.29 256.30,386.57 258.00,386.84 259.71,387.09 261.41,387.32 263.12,387.55 264.82,387.76 266.52,387.97 268.23,388.18 269.93,388.38 271.64,388.58 273.34,388.79 275.05,389.00 276.75,389.22 278.45,389.46 280.16,389.70 281.86,389.96 283.57,390.24 285.27,390.54 286.97,390.87 288.68,391.21 290.38,391.59 292.09,391.99 293.79,392.42 295.50,392.89 297.20,393.39" fill="none" stroke="#444" stroke-width="0.9"/>
<path d="M91.80 298.80h5.2v5.2h-5.2z M98.80 299.90h5.2v5.2h-5.2z M105.90 302.60h5.2v5.2h-5.2z M112.70 302.20h5.2v5.2h-5.2z M119.70 306.90h5.2v5.2h-5.2z M126.70 307.10h5.2v5.2h-5.2z M133.80 309.60h5.2v5.2h-5.2z M141.20 311.90h5.2v5.2h-5.2z M148.40 318.70h5.2v5.2h-5.2z M155.40 320.80h5.2v5.2h-5.2z M162.80 325.50h5.2v5.2h-5.2z M170.00 332.60h5.2v5.2h-5.2z M177.60 341.50h5.2v5.2h-5.2z M185.00 346.40h5.2v5.2h-5.2z M192.40 352.90h5.2v5.2h-5.2z M200.20 360.75h5.2v5.2h-5.2z M207.90 366.70h5.2v5.2h-5.2z M215.40 369.10h5.2v5.2h-5.2z M223.20 373.70h5.2v5.2h-5.2z M230.90 378.20h5.2v5.2h-5.2z M238.70 380.50h5.2v5.2h-5.2z M246.60 383.50h5.2v5.2h-5.2z M254.30 382.60h5.2v5.2h-5.2z M262.40 385.20h5.2v5.2h-5.2z M270.30 387.50h5.2v5.2h-5.2z M278.20 386.10h5.2v5.2h-5.2z M286.40 389.40h5.2v5.2h-5.2z M294.60 390.50h5.2v5.2h-5.2z" fill="#000"/>
<text transform="translate(200.00,17.20) scale(0.9346,1)" font-size="16.91" text-anchor="middle">time (min)</text>
<g transform="translate(133.50,473.60) scale(0.9458,1)"><text style="" ><tspan font-size="16.59" x="0.00">[F5]</tspan><tspan font-size="11.02" dy="7.60">T</tspan><tspan font-size="16.59" dy="-7.60">/[ClpC  NTD]</tspan><tspan font-size="11.02" dy="7.60">T</tspan></text><polygon transform="translate(0,0.00)" points="87.56,0.00 86.10,0.00 86.10,-8.93 85.75,-8.62 85.25,-8.24 84.62,-7.86 83.97,-7.53 83.27,-7.20 83.27,-8.55 84.05,-8.94 84.78,-9.39 85.43,-9.90 86.00,-10.43 86.40,-10.94 86.66,-11.41 87.56,-11.41" style="fill:#141414"/></g>
<text transform="translate(31.00,157.50) rotate(-90)" x="0" y="0" font-size="17.4" text-anchor="middle" textLength="101" lengthAdjust="spacingAndGlyphs">dQ/dt (µcal/s)</text>
<text transform="translate(31.00,345.80) rotate(-90)" x="0" y="0" font-size="17.9" text-anchor="middle" textLength="184" lengthAdjust="spacingAndGlyphs">Q (kcal/mol of injectant)</text>
<text transform="translate(-0.30,24.90) scale(0.9709,1)" font-size="34.51" text-anchor="start" style="font-weight:bold;fill:#000;" stroke="#000" stroke-width="0.7">A</text>
<path d="M456.53 46.40v5.20 M497.98 46.40v5.20 M539.42 46.40v5.20 M580.88 46.40v5.20 M622.33 46.40v5.20 M663.77 46.40v5.20 M477.25 46.40v2.80 M518.70 46.40v2.80 M560.15 46.40v2.80 M601.60 46.40v2.80 M643.05 46.40v2.80" stroke="#1a1a1a" stroke-width="1.1" fill="none"/>
<text transform="translate(456.53,37.90) scale(0.9346,1)" font-size="13.80" text-anchor="middle" style="" >0</text>
<g transform="translate(497.98,37.90) scale(0.9346,1)"><text style="" ><tspan font-size="13.80" x="-7.68"> 0</tspan></text><polygon transform="translate(0,0.00)" points="-2.53,0.00 -3.75,0.00 -3.75,-7.43 -4.04,-7.17 -4.45,-6.86 -4.98,-6.54 -5.52,-6.26 -6.11,-5.99 -6.11,-7.12 -5.45,-7.44 -4.85,-7.81 -4.31,-8.24 -3.83,-8.68 -3.50,-9.10 -3.28,-9.50 -2.53,-9.50" style="fill:#141414"/></g>
<text transform="translate(539.42,37.90) scale(0.9346,1)" font-size="13.80" text-anchor="middle" style="" >20</text>
<text transform="translate(580.88,37.90) scale(0.9346,1)" font-size="13.80" text-anchor="middle" style="" >30</text>
<text transform="translate(622.33,37.90) scale(0.9346,1)" font-size="13.80" text-anchor="middle" style="" >40</text>
<text transform="translate(663.77,37.90) scale(0.9346,1)" font-size="13.80" text-anchor="middle" style="" >50</text>
<path d="M435.80 216.85h5.20 M435.80 168.15h5.20 M435.80 119.45h5.20 M435.80 70.75h5.20 M435.80 192.50h2.80 M435.80 143.80h2.80 M435.80 95.10h2.80" stroke="#1a1a1a" stroke-width="1.1" fill="none"/>
<text transform="translate(429.50,220.40) scale(0.9346,1)" font-size="13.80" text-anchor="end" style="" >-0.2</text>
<g transform="translate(429.50,171.70) scale(0.9346,1)"><text style="" ><tspan font-size="13.80" x="-23.78">-0. </tspan></text><polygon transform="translate(0,0.00)" points="-2.53,0.00 -3.75,0.00 -3.75,-7.43 -4.04,-7.17 -4.45,-6.86 -4.98,-6.54 -5.52,-6.26 -6.11,-5.99 -6.11,-7.12 -5.45,-7.44 -4.85,-7.81 -4.31,-8.24 -3.83,-8.68 -3.50,-9.10 -3.28,-9.50 -2.53,-9.50" style="fill:#141414"/></g>
<text transform="translate(429.50,123.00) scale(0.9346,1)" font-size="13.80" text-anchor="end" style="" >0.0</text>
<g transform="translate(429.50,74.30) scale(0.9346,1)"><text style="" ><tspan font-size="13.80" x="-19.19">0. </tspan></text><polygon transform="translate(0,0.00)" points="-2.53,0.00 -3.75,0.00 -3.75,-7.43 -4.04,-7.17 -4.45,-6.86 -4.98,-6.54 -5.52,-6.26 -6.11,-5.99 -6.11,-7.12 -5.45,-7.44 -4.85,-7.81 -4.31,-8.24 -3.83,-8.68 -3.50,-9.10 -3.28,-9.50 -2.53,-9.50" style="fill:#141414"/></g>
<path d="M684.50 216.85h-5.20 M684.50 168.15h-5.20 M684.50 119.45h-5.20 M684.50 70.75h-5.20 M684.50 192.50h-2.80 M684.50 143.80h-2.80 M684.50 95.10h-2.80" stroke="#1a1a1a" stroke-width="1.1" fill="none"/>
<path d="M435.80 416.70h5.20 M435.80 377.70h5.20 M435.80 338.70h5.20 M435.80 299.70h5.20 M435.80 260.70h5.20 M435.80 397.20h2.80 M435.80 358.20h2.80 M435.80 319.20h2.80 M435.80 280.20h2.80" stroke="#1a1a1a" stroke-width="1.1" fill="none"/>
<text transform="translate(429.50,420.25) scale(0.9346,1)" font-size="13.80" text-anchor="end" style="" >-2.6</text>
<text transform="translate(429.50,381.25) scale(0.9346,1)" font-size="13.80" text-anchor="end" style="" >-2.4</text>
<text transform="translate(429.50,342.25) scale(0.9346,1)" font-size="13.80" text-anchor="end" style="" >-2.2</text>
<text transform="translate(429.50,303.25) scale(0.9346,1)" font-size="13.80" text-anchor="end" style="" >-2.0</text>
<g transform="translate(429.50,264.25) scale(0.9346,1)"><text style="" ><tspan font-size="13.80" x="-23.78">- .8</tspan></text><polygon transform="translate(0,0.00)" points="-14.05,0.00 -15.26,0.00 -15.26,-7.43 -15.55,-7.17 -15.97,-6.86 -16.49,-6.54 -17.03,-6.26 -17.62,-5.99 -17.62,-7.12 -16.96,-7.44 -16.36,-7.81 -15.82,-8.24 -15.35,-8.68 -15.01,-9.10 -14.79,-9.50 -14.05,-9.50" style="fill:#141414"/></g>
<path d="M684.50 416.70h-5.20 M684.50 377.70h-5.20 M684.50 338.70h-5.20 M684.50 299.70h-5.20 M684.50 260.70h-5.20 M684.50 397.20h-2.80 M684.50 358.20h-2.80 M684.50 319.20h-2.80 M684.50 280.20h-2.80" stroke="#1a1a1a" stroke-width="1.1" fill="none"/>
<path d="M460.67 436.20v-5.20 M510.41 436.20v-5.20 M560.15 436.20v-5.20 M609.89 436.20v-5.20 M659.63 436.20v-5.20 M485.54 436.20v-2.80 M535.28 436.20v-2.80 M585.02 436.20v-2.80 M634.76 436.20v-2.80" stroke="#1a1a1a" stroke-width="1.1" fill="none"/>
<text transform="translate(460.67,452.80) scale(0.9346,1)" font-size="13.80" text-anchor="middle" style="" >0.0</text>
<text transform="translate(510.41,452.80) scale(0.9346,1)" font-size="13.80" text-anchor="middle" style="" >0.5</text>
<g transform="translate(560.15,452.80) scale(0.9346,1)"><text style="" ><tspan font-size="13.80" x="-9.59"> .0</tspan></text><polygon transform="translate(0,0.00)" points="-4.45,0.00 -5.66,0.00 -5.66,-7.43 -5.95,-7.17 -6.37,-6.86 -6.90,-6.54 -7.44,-6.26 -8.02,-5.99 -8.02,-7.12 -7.37,-7.44 -6.76,-7.81 -6.22,-8.24 -5.75,-8.68 -5.42,-9.10 -5.20,-9.50 -4.45,-9.50" style="fill:#141414"/></g>
<g transform="translate(609.89,452.80) scale(0.9346,1)"><text style="" ><tspan font-size="13.80" x="-9.59"> .5</tspan></text><polygon transform="translate(0,0.00)" points="-4.45,0.00 -5.66,0.00 -5.66,-7.43 -5.95,-7.17 -6.37,-6.86 -6.90,-6.54 -7.44,-6.26 -8.02,-5.99 -8.02,-7.12 -7.37,-7.44 -6.76,-7.81 -6.22,-8.24 -5.75,-8.68 -5.42,-9.10 -5.20,-9.50 -4.45,-9.50" style="fill:#141414"/></g>
<text transform="translate(659.63,452.80) scale(0.9346,1)" font-size="13.80" text-anchor="middle" style="" >2.0</text>
<path d="M435.8 46.4H684.5V436.2H435.8Z M435.8 241.2H684.5" fill="none" stroke="#1a1a1a" stroke-width="1.25"/>
<g transform="translate(0,-0.25)">
<clipPath id="cB"><rect x="0" y="116.45" width="685" height="5.2"/></clipPath>
<polyline points="456.70,119.46 456.90,119.30 457.10,119.25 457.30,119.21 457.50,119.31 457.70,119.35 457.90,119.06 458.10,119.17 458.30,119.24 458.50,119.48 458.70,119.29 458.90,119.53 459.10,119.54 459.30,119.66 459.50,119.45 459.70,119.49 459.90,119.55 460.10,119.64 460.30,119.48 460.50,119.49 460.70,119.40 460.90,150.20 461.10,147.63 461.30,135.72 461.50,128.00 461.70,123.66 461.90,121.15 462.10,119.87 462.30,119.56 462.50,119.05 462.70,118.85 462.90,118.83 463.10,119.04 463.30,119.37 463.50,119.52 463.70,119.71 463.90,119.90 464.10,120.07 464.30,120.34 464.50,120.48 464.70,120.45 464.90,120.51 465.10,120.58 465.30,120.77 465.50,120.33 465.70,120.16 465.90,119.49 466.10,119.34 466.30,119.39 466.50,119.43 466.70,119.19 466.90,119.15 467.10,118.88 467.30,119.37 467.50,119.48 467.70,120.00 467.90,119.95 468.10,119.96 468.30,119.79 468.50,119.92 468.70,119.83 468.90,119.85 469.10,119.80 469.30,119.85 469.50,119.62 469.70,119.53 469.90,119.45 470.10,119.47 470.30,119.42 470.50,119.19 470.70,119.15 470.90,119.08 471.10,119.00 471.30,119.23 471.50,157.07 471.70,144.47 471.90,133.75 472.10,127.28 472.30,124.12 472.50,122.56 472.70,121.74 472.90,121.06 473.10,120.67 473.30,120.34 473.50,120.27 473.70,120.29 473.90,120.26 474.10,120.34 474.30,120.28 474.50,120.13 474.70,120.08 474.90,120.07 475.10,119.89 475.30,119.92 475.50,119.75 475.70,119.84 475.90,119.66 476.10,119.70 476.30,119.33 476.50,119.24 476.70,119.03 476.90,118.91 477.10,118.61 477.30,118.70 477.50,118.74 477.70,118.67 477.90,118.37 478.10,118.68 478.30,118.90 478.50,119.17 478.70,119.16 478.90,119.51 479.10,119.21 479.30,119.38 479.50,118.97 479.70,118.98 479.90,118.78 480.10,118.87 480.30,118.61 480.50,118.98 480.70,118.66 480.90,119.16 481.10,119.05 481.30,119.49 481.50,119.64 481.70,120.13 481.90,165.55 482.10,150.19 482.30,136.92 482.50,129.61 482.70,125.03 482.90,122.91 483.10,121.57 483.30,120.88 483.50,120.23 483.70,119.77 483.90,120.04 484.10,119.61 484.30,119.53 484.50,119.62 484.70,119.44 484.90,119.85 485.10,119.80 485.30,119.58 485.50,119.63 485.70,119.40 485.90,119.53 486.10,119.51 486.30,119.58 486.50,119.61 486.70,119.24 486.90,119.28 487.10,119.58 487.30,119.50 487.50,119.59 487.70,119.59 487.90,119.74 488.10,119.88 488.30,119.76 488.50,119.85 488.70,119.56 488.90,119.27 489.10,119.36 489.30,119.45 489.50,119.58 489.70,119.35 489.90,119.00 490.10,119.16 490.30,119.13 490.50,119.40 490.70,119.56 490.90,119.66 491.10,119.67 491.30,119.65 491.50,119.63 491.70,119.97 491.90,119.84 492.10,119.87 492.30,166.88 492.50,163.59 492.70,145.49 492.90,134.17 493.10,127.93 493.30,124.83 493.50,122.93 493.70,122.08 493.90,121.48 494.10,120.79 494.30,120.75 494.50,120.72 494.70,120.34 494.90,120.05 495.10,120.09 495.30,120.14 495.50,119.99 495.70,119.98 495.90,120.12 496.10,120.00 496.30,119.79 496.50,119.97 496.70,119.99 496.90,119.60 497.10,119.40 497.30,119.56 497.50,119.81 497.70,119.75 497.90,119.69 498.10,119.80 498.30,119.73 498.50,119.88 498.70,119.76 498.90,119.73 499.10,119.73 499.30,119.22 499.50,119.14 499.70,119.14 499.90,119.02 500.10,118.89 500.30,118.77 500.50,119.11 500.70,119.00 500.90,119.05 501.10,119.34 501.30,119.57 501.50,119.65 501.70,119.94 501.90,120.07 502.10,119.81 502.30,119.49 502.50,119.53 502.70,168.72 502.90,152.21 503.10,137.45 503.30,129.00 503.50,124.34 503.70,121.69 503.90,120.89 504.10,120.39 504.30,120.37 504.50,120.34 504.70,119.91 504.90,119.78 505.10,120.04 505.30,120.11 505.50,120.11 505.70,119.95 505.90,119.92 506.10,119.55 506.30,119.30 506.50,119.43 506.70,119.69 506.90,119.48 507.10,119.47 507.30,119.57 507.50,119.54 507.70,119.56 507.90,119.80 508.10,119.81 508.30,119.76 508.50,119.58 508.70,119.68 508.90,119.52 509.10,119.60 509.30,119.38 509.50,119.38 509.70,119.33 509.90,119.12 510.10,119.10 510.30,119.02 510.50,119.00 510.70,119.14 510.90,118.88 511.10,118.90 511.30,119.04 511.50,119.15 511.70,119.57 511.90,119.49 512.10,119.72 512.30,119.75 512.50,119.71 512.70,119.89 512.90,119.85 513.10,169.79 513.30,152.86 513.50,138.17 513.70,129.96 513.90,125.57 514.10,123.09 514.30,122.12 514.50,121.45 514.70,121.12 514.90,120.89 515.10,120.70 515.30,120.42 515.50,120.05 515.70,119.86 515.90,119.66 516.10,119.52 516.30,119.62 516.50,119.53 516.70,119.53 516.90,119.30 517.10,119.18 517.30,119.36 517.50,119.45 517.70,119.44 517.90,119.07 518.10,118.74 518.30,119.02 518.50,118.98 518.70,119.13 518.90,119.39 519.10,119.35 519.30,119.13 519.50,119.15 519.70,119.26 519.90,119.40 520.10,119.22 520.30,119.27 520.50,119.12 520.70,118.99 520.90,118.85 521.10,118.97 521.30,118.84 521.50,118.71 521.70,118.68 521.90,118.62 522.10,118.64 522.30,118.37 522.50,118.53 522.70,118.81 522.90,118.93 523.10,119.07 523.30,119.15 523.50,173.01 523.70,169.10 523.90,149.02 524.10,136.09 524.30,128.87 524.50,124.72 524.70,122.40 524.90,121.16 525.10,120.81 525.30,120.49 525.50,120.43 525.70,119.69 525.90,119.81 526.10,119.49 526.30,119.87 526.50,120.25 526.70,120.40 526.90,120.40 527.10,120.10 527.30,120.40 527.50,120.67 527.70,120.62 527.90,120.61 528.10,120.35 528.30,119.89 528.50,119.72 528.70,119.57 528.90,119.78 529.10,119.60 529.30,119.63 529.50,119.51 529.70,119.63 529.90,119.93 530.10,120.01 530.30,120.21 530.50,119.92 530.70,119.75 530.90,119.61 531.10,119.51 531.30,119.91 531.50,120.28 531.70,119.76 531.90,119.69 532.10,119.50 532.30,120.03 532.50,120.32 532.70,120.31 532.90,120.13 533.10,119.57 533.30,118.81 533.50,118.81 533.70,119.02 533.90,119.16 534.10,172.52 534.30,154.30 534.50,138.87 534.70,130.13 534.90,125.40 535.10,123.32 535.30,122.23 535.50,121.42 535.70,120.78 535.90,120.64 536.10,120.46 536.30,120.02 536.50,120.10 536.70,120.20 536.90,120.20 537.10,120.37 537.30,120.54 537.50,120.79 537.70,120.87 537.90,120.80 538.10,121.19 538.30,120.88 538.50,120.64 538.70,120.34 538.90,120.07 539.10,119.89 539.30,119.82 539.50,119.72 539.70,119.49 539.90,119.20 540.10,119.43 540.30,119.52 540.50,119.62 540.70,119.67 540.90,119.81 541.10,119.65 541.30,119.47 541.50,119.64 541.70,119.56 541.90,119.16 542.10,119.27 542.30,119.17 542.50,119.16 542.70,118.98 542.90,118.95 543.10,119.39 543.30,119.39 543.50,119.31 543.70,119.61 543.90,119.62 544.10,119.73 544.30,119.52 544.50,174.59 544.70,170.82 544.90,149.94 545.10,136.54 545.30,129.31 545.50,125.27 545.70,122.83 545.90,121.70 546.10,121.32 546.30,120.68 546.50,120.26 546.70,119.62 546.90,119.73 547.10,119.51 547.30,119.61 547.50,119.63 547.70,119.58 547.90,119.32 548.10,119.09 548.30,119.17 548.50,119.38 548.70,118.86 548.90,118.91 549.10,118.74 549.30,118.69 549.50,118.63 549.70,118.43 549.90,118.79 550.10,118.94 550.30,118.68 550.50,118.96 550.70,119.18 550.90,119.26 551.10,119.33 551.30,119.23 551.50,119.54 551.70,119.48 551.90,119.39 552.10,119.35 552.30,119.52 552.50,119.25 552.70,119.32 552.90,119.29 553.10,119.24 553.30,119.13 553.50,119.01 553.70,118.86 553.90,119.17 554.10,119.17 554.30,119.26 554.50,119.09 554.70,175.23 554.90,161.40 555.10,143.73 555.30,133.06 555.50,127.28 555.70,123.99 555.90,122.20 556.10,121.39 556.30,120.53 556.50,120.32 556.70,119.95 556.90,119.31 557.10,119.30 557.30,119.22 557.50,119.32 557.70,119.04 557.90,119.16 558.10,119.56 558.30,119.44 558.50,119.71 558.70,120.11 558.90,120.16 559.10,120.32 559.30,119.95 559.50,120.38 559.70,120.00 559.90,120.02 560.10,120.19 560.30,119.86 560.50,119.80 560.70,119.79 560.90,119.61 561.10,119.97 561.30,119.49 561.50,119.37 561.70,119.16 561.90,119.07 562.10,119.71 562.30,119.70 562.50,119.57 562.70,119.57 562.90,119.63 563.10,119.97 563.30,119.97 563.50,120.29 563.70,120.23 563.90,119.80 564.10,119.48 564.30,119.27 564.50,119.37 564.70,118.97 564.90,118.92 565.10,175.53 565.30,156.46 565.50,140.15 565.70,130.67 565.90,125.98 566.10,123.46 566.30,121.92 566.50,121.80 566.70,121.44 566.90,121.20 567.10,121.05 567.30,120.76 567.50,120.66 567.70,120.48 567.90,120.61 568.10,120.43 568.30,119.62 568.50,119.34 568.70,119.32 568.90,119.58 569.10,119.81 569.30,119.62 569.50,119.60 569.70,119.31 569.90,119.40 570.10,119.60 570.30,119.43 570.50,119.38 570.70,118.96 570.90,117.97 571.10,114.45 571.30,107.11 571.50,102.52 571.70,108.59 571.90,112.75 572.10,115.25 572.30,116.90 572.50,117.79 572.70,118.36 572.90,118.75 573.10,118.96 573.30,119.01 573.50,119.31 573.70,119.31 573.90,119.40 574.10,119.45 574.30,119.46 574.50,119.37 574.70,119.25 574.90,118.91 575.10,119.11 575.30,118.86 575.50,175.73 575.70,171.94 575.90,150.11 576.10,136.25 576.30,128.90 576.50,124.69 576.70,122.32 576.90,120.92 577.10,120.45 577.30,119.86 577.50,119.59 577.70,119.49 577.90,119.17 578.10,119.00 578.30,118.96 578.50,119.33 578.70,119.40 578.90,119.25 579.10,119.24 579.30,119.25 579.50,119.29 579.70,119.63 579.90,119.56 580.10,119.61 580.30,119.52 580.50,119.71 580.70,119.86 580.90,119.76 581.10,119.79 581.30,119.68 581.50,119.68 581.70,119.67 581.90,119.88 582.10,120.11 582.30,120.01 582.50,120.08 582.70,119.99 582.90,119.80 583.10,119.86 583.30,119.88 583.50,119.94 583.70,120.06 583.90,119.69 584.10,119.77 584.30,119.70 584.50,119.64 584.70,119.83 584.90,119.80 585.10,119.87 585.30,119.82 585.50,119.72 585.70,119.87 585.90,175.68 586.10,156.32 586.30,140.13 586.50,130.63 586.70,125.77 586.90,122.97 587.10,121.41 587.30,120.61 587.50,119.96 587.70,120.04 587.90,120.05 588.10,119.95 588.30,119.67 588.50,119.28 588.70,118.87 588.90,119.31 589.10,119.07 589.30,119.01 589.50,118.85 589.70,118.80 589.90,118.66 590.10,118.93 590.30,119.10 590.50,119.45 590.70,119.04 590.90,119.16 591.10,119.45 591.30,119.60 591.50,119.73 591.70,119.49 591.90,119.47 592.10,119.48 592.30,119.61 592.50,119.29 592.70,119.30 592.90,119.11 593.10,119.12 593.30,118.98 593.50,119.30 593.70,119.32 593.90,119.29 594.10,119.05 594.30,119.42 594.50,119.35 594.70,119.38 594.90,119.26 595.10,119.06 595.30,119.22 595.50,118.87 595.70,118.84 595.90,118.69 596.10,118.68 596.30,176.39 596.50,172.28 596.70,150.25 596.90,136.22 597.10,128.33 597.30,124.66 597.50,122.52 597.70,121.52 597.90,120.73 598.10,120.45 598.30,120.26 598.50,120.12 598.70,120.31 598.90,120.16 599.10,119.94 599.30,119.75 599.50,119.61 599.70,119.75 599.90,119.77 600.10,119.72 600.30,119.64 600.50,119.37 600.70,119.35 600.90,119.01 601.10,119.21 601.30,119.31 601.50,119.27 601.70,119.10 601.90,119.16 602.10,119.26 602.30,119.63 602.50,119.68 602.70,119.72 602.90,119.67 603.10,119.55 603.30,119.46 603.50,119.52 603.70,119.38 603.90,119.46 604.10,119.29 604.30,119.29 604.50,119.40 604.70,119.10 604.90,119.06 605.10,119.18 605.30,119.34 605.50,119.62 605.70,119.39 605.90,119.29 606.10,119.19 606.30,119.23 606.50,119.45 606.70,176.83 606.90,172.67 607.10,150.63 607.30,136.42 607.50,129.10 607.70,125.24 607.90,123.01 608.10,121.72 608.30,120.99 608.50,120.51 608.70,120.44 608.90,120.24 609.10,120.07 609.30,119.63 609.50,119.27 609.70,119.31 609.90,119.62 610.10,119.52 610.30,119.65 610.50,119.17 610.70,119.08 610.90,118.92 611.10,119.02 611.30,119.11 611.50,119.16 611.70,118.69 611.90,118.85 612.10,118.63 612.30,119.18 612.50,119.39 612.70,119.52 612.90,119.56 613.10,119.49 613.30,119.39 613.50,119.52 613.70,119.55 613.90,119.74 614.10,119.58 614.30,119.53 614.50,119.60 614.70,119.51 614.90,120.03 615.10,119.93 615.30,119.96 615.50,119.99 615.70,120.13 615.90,119.90 616.10,119.67 616.30,119.37 616.50,119.34 616.70,118.71 616.90,177.29 617.10,157.85 617.30,140.89 617.50,130.87 617.70,125.83 617.90,123.42 618.10,122.32 618.30,121.60 618.50,121.13 618.70,120.96 618.90,120.84 619.10,120.47 619.30,120.74 619.50,120.83 619.70,120.60 619.90,120.12 620.10,120.01 620.30,120.02 620.50,119.95 620.70,119.46 620.90,119.86 621.10,119.90 621.30,119.52 621.50,119.27 621.70,119.46 621.90,119.59 622.10,119.83 622.30,119.84 622.50,120.05 622.70,119.40 622.90,119.13 623.10,119.35 623.30,119.57 623.50,119.63 623.70,119.59 623.90,119.36 624.10,119.09 624.30,119.16 624.50,119.24 624.70,119.36 624.90,119.11 625.10,119.22 625.30,119.08 625.50,119.10 625.70,119.10 625.90,119.35 626.10,119.18 626.30,119.15 626.50,118.91 626.70,118.99 626.90,118.70 627.10,118.70 627.30,176.50 627.50,157.04 627.70,140.04 627.90,130.47 628.10,125.89 628.30,123.19 628.50,121.80 628.70,121.28 628.90,120.88 629.10,120.74 629.30,120.66 629.50,120.73 629.70,120.21 629.90,119.73 630.10,119.59 630.30,119.40 630.50,119.44 630.70,119.35 630.90,119.52 631.10,119.28 631.30,119.05 631.50,119.55 631.70,119.45 631.90,119.46 632.10,119.36 632.30,119.04 632.50,119.21 632.70,119.16 632.90,119.07 633.10,118.95 633.30,119.20 633.50,119.21 633.70,119.10 633.90,119.33 634.10,119.34 634.30,119.18 634.50,119.22 634.70,119.53 634.90,119.67 635.10,119.49 635.30,119.56 635.50,119.65 635.70,119.57 635.90,119.64 636.10,119.77 636.30,119.68 636.50,119.42 636.70,119.48 636.90,119.20 637.10,119.14 637.30,119.15 637.50,178.80 637.70,174.66 637.90,152.11 638.10,137.75 638.30,129.90 638.50,125.54 638.70,123.24 638.90,122.12 639.10,121.57 639.30,121.23 639.50,120.74 639.70,120.51 639.90,120.31 640.10,120.57 640.30,120.61 640.50,120.65 640.70,120.33 640.90,120.05 641.10,119.62 641.30,119.63 641.50,119.33 641.70,118.93 641.90,118.54 642.10,118.55 642.30,118.65 642.50,118.84 642.70,119.09 642.90,119.39 643.10,119.31 643.30,119.39 643.50,119.42 643.70,119.29 643.90,119.25 644.10,119.12 644.30,119.34 644.50,119.48 644.70,119.38 644.90,119.57 645.10,119.59 645.30,119.77 645.50,119.99 645.70,119.85 645.90,119.96 646.10,119.71 646.30,119.57 646.50,119.70 646.70,119.98 646.90,119.98 647.10,119.78 647.30,119.46 647.50,119.52 647.70,119.23 647.90,119.03 648.10,118.83 648.30,178.69 648.50,158.32 648.70,141.15 648.90,131.28 649.10,126.19 649.30,123.14 649.50,121.82 649.70,121.10 649.90,120.50 650.10,120.07 650.30,120.00 650.50,119.35 650.70,119.10 650.90,118.98 651.10,119.18 651.30,119.14 651.50,119.21 651.70,119.20 651.90,119.54 652.10,119.31 652.30,119.31 652.50,119.69 652.70,119.62 652.90,119.70 653.10,119.43 653.30,119.23 653.50,119.26 653.70,119.04 653.90,119.15 654.10,119.12 654.30,118.91 654.50,118.80 654.70,118.74 654.90,118.97 655.10,119.06 655.30,119.46 655.50,119.55 655.70,119.56 655.90,119.60 656.10,119.56 656.30,119.72 656.50,119.66 656.70,119.58 656.90,119.54 657.10,119.22 657.30,119.23 657.50,119.08 657.70,119.28" fill="none" stroke="#666" stroke-width="0.8" stroke-linejoin="round"/>
<polyline clip-path="url(#cB)" points="456.70,119.46 456.90,119.30 457.10,119.25 457.30,119.21 457.50,119.31 457.70,119.35 457.90,119.06 458.10,119.17 458.30,119.24 458.50,119.48 458.70,119.29 458.90,119.53 459.10,119.54 459.30,119.66 459.50,119.45 459.70,119.49 459.90,119.55 460.10,119.64 460.30,119.48 460.50,119.49 460.70,119.40 460.90,150.20 461.10,147.63 461.30,135.72 461.50,128.00 461.70,123.66 461.90,121.15 462.10,119.87 462.30,119.56 462.50,119.05 462.70,118.85 462.90,118.83 463.10,119.04 463.30,119.37 463.50,119.52 463.70,119.71 463.90,119.90 464.10,120.07 464.30,120.34 464.50,120.48 464.70,120.45 464.90,120.51 465.10,120.58 465.30,120.77 465.50,120.33 465.70,120.16 465.90,119.49 466.10,119.34 466.30,119.39 466.50,119.43 466.70,119.19 466.90,119.15 467.10,118.88 467.30,119.37 467.50,119.48 467.70,120.00 467.90,119.95 468.10,119.96 468.30,119.79 468.50,119.92 468.70,119.83 468.90,119.85 469.10,119.80 469.30,119.85 469.50,119.62 469.70,119.53 469.90,119.45 470.10,119.47 470.30,119.42 470.50,119.19 470.70,119.15 470.90,119.08 471.10,119.00 471.30,119.23 471.50,157.07 471.70,144.47 471.90,133.75 472.10,127.28 472.30,124.12 472.50,122.56 472.70,121.74 472.90,121.06 473.10,120.67 473.30,120.34 473.50,120.27 473.70,120.29 473.90,120.26 474.10,120.34 474.30,120.28 474.50,120.13 474.70,120.08 474.90,120.07 475.10,119.89 475.30,119.92 475.50,119.75 475.70,119.84 475.90,119.66 476.10,119.70 476.30,119.33 476.50,119.24 476.70,119.03 476.90,118.91 477.10,118.61 477.30,118.70 477.50,118.74 477.70,118.67 477.90,118.37 478.10,118.68 478.30,118.90 478.50,119.17 478.70,119.16 478.90,119.51 479.10,119.21 479.30,119.38 479.50,118.97 479.70,118.98 479.90,118.78 480.10,118.87 480.30,118.61 480.50,118.98 480.70,118.66 480.90,119.16 481.10,119.05 481.30,119.49 481.50,119.64 481.70,120.13 481.90,165.55 482.10,150.19 482.30,136.92 482.50,129.61 482.70,125.03 482.90,122.91 483.10,121.57 483.30,120.88 483.50,120.23 483.70,119.77 483.90,120.04 484.10,119.61 484.30,119.53 484.50,119.62 484.70,119.44 484.90,119.85 485.10,119.80 485.30,119.58 485.50,119.63 485.70,119.40 485.90,119.53 486.10,119.51 486.30,119.58 486.50,119.61 486.70,119.24 486.90,119.28 487.10,119.58 487.30,119.50 487.50,119.59 487.70,119.59 487.90,119.74 488.10,119.88 488.30,119.76 488.50,119.85 488.70,119.56 488.90,119.27 489.10,119.36 489.30,119.45 489.50,119.58 489.70,119.35 489.90,119.00 490.10,119.16 490.30,119.13 490.50,119.40 490.70,119.56 490.90,119.66 491.10,119.67 491.30,119.65 491.50,119.63 491.70,119.97 491.90,119.84 492.10,119.87 492.30,166.88 492.50,163.59 492.70,145.49 492.90,134.17 493.10,127.93 493.30,124.83 493.50,122.93 493.70,122.08 493.90,121.48 494.10,120.79 494.30,120.75 494.50,120.72 494.70,120.34 494.90,120.05 495.10,120.09 495.30,120.14 495.50,119.99 495.70,119.98 495.90,120.12 496.10,120.00 496.30,119.79 496.50,119.97 496.70,119.99 496.90,119.60 497.10,119.40 497.30,119.56 497.50,119.81 497.70,119.75 497.90,119.69 498.10,119.80 498.30,119.73 498.50,119.88 498.70,119.76 498.90,119.73 499.10,119.73 499.30,119.22 499.50,119.14 499.70,119.14 499.90,119.02 500.10,118.89 500.30,118.77 500.50,119.11 500.70,119.00 500.90,119.05 501.10,119.34 501.30,119.57 501.50,119.65 501.70,119.94 501.90,120.07 502.10,119.81 502.30,119.49 502.50,119.53 502.70,168.72 502.90,152.21 503.10,137.45 503.30,129.00 503.50,124.34 503.70,121.69 503.90,120.89 504.10,120.39 504.30,120.37 504.50,120.34 504.70,119.91 504.90,119.78 505.10,120.04 505.30,120.11 505.50,120.11 505.70,119.95 505.90,119.92 506.10,119.55 506.30,119.30 506.50,119.43 506.70,119.69 506.90,119.48 507.10,119.47 507.30,119.57 507.50,119.54 507.70,119.56 507.90,119.80 508.10,119.81 508.30,119.76 508.50,119.58 508.70,119.68 508.90,119.52 509.10,119.60 509.30,119.38 509.50,119.38 509.70,119.33 509.90,119.12 510.10,119.10 510.30,119.02 510.50,119.00 510.70,119.14 510.90,118.88 511.10,118.90 511.30,119.04 511.50,119.15 511.70,119.57 511.90,119.49 512.10,119.72 512.30,119.75 512.50,119.71 512.70,119.89 512.90,119.85 513.10,169.79 513.30,152.86 513.50,138.17 513.70,129.96 513.90,125.57 514.10,123.09 514.30,122.12 514.50,121.45 514.70,121.12 514.90,120.89 515.10,120.70 515.30,120.42 515.50,120.05 515.70,119.86 515.90,119.66 516.10,119.52 516.30,119.62 516.50,119.53 516.70,119.53 516.90,119.30 517.10,119.18 517.30,119.36 517.50,119.45 517.70,119.44 517.90,119.07 518.10,118.74 518.30,119.02 518.50,118.98 518.70,119.13 518.90,119.39 519.10,119.35 519.30,119.13 519.50,119.15 519.70,119.26 519.90,119.40 520.10,119.22 520.30,119.27 520.50,119.12 520.70,118.99 520.90,118.85 521.10,118.97 521.30,118.84 521.50,118.71 521.70,118.68 521.90,118.62 522.10,118.64 522.30,118.37 522.50,118.53 522.70,118.81 522.90,118.93 523.10,119.07 523.30,119.15 523.50,173.01 523.70,169.10 523.90,149.02 524.10,136.09 524.30,128.87 524.50,124.72 524.70,122.40 524.90,121.16 525.10,120.81 525.30,120.49 525.50,120.43 525.70,119.69 525.90,119.81 526.10,119.49 526.30,119.87 526.50,120.25 526.70,120.40 526.90,120.40 527.10,120.10 527.30,120.40 527.50,120.67 527.70,120.62 527.90,120.61 528.10,120.35 528.30,119.89 528.50,119.72 528.70,119.57 528.90,119.78 529.10,119.60 529.30,119.63 529.50,119.51 529.70,119.63 529.90,119.93 530.10,120.01 530.30,120.21 530.50,119.92 530.70,119.75 530.90,119.61 531.10,119.51 531.30,119.91 531.50,120.28 531.70,119.76 531.90,119.69 532.10,119.50 532.30,120.03 532.50,120.32 532.70,120.31 532.90,120.13 533.10,119.57 533.30,118.81 533.50,118.81 533.70,119.02 533.90,119.16 534.10,172.52 534.30,154.30 534.50,138.87 534.70,130.13 534.90,125.40 535.10,123.32 535.30,122.23 535.50,121.42 535.70,120.78 535.90,120.64 536.10,120.46 536.30,120.02 536.50,120.10 536.70,120.20 536.90,120.20 537.10,120.37 537.30,120.54 537.50,120.79 537.70,120.87 537.90,120.80 538.10,121.19 538.30,120.88 538.50,120.64 538.70,120.34 538.90,120.07 539.10,119.89 539.30,119.82 539.50,119.72 539.70,119.49 539.90,119.20 540.10,119.43 540.30,119.52 540.50,119.62 540.70,119.67 540.90,119.81 541.10,119.65 541.30,119.47 541.50,119.64 541.70,119.56 541.90,119.16 542.10,119.27 542.30,119.17 542.50,119.16 542.70,118.98 542.90,118.95 543.10,119.39 543.30,119.39 543.50,119.31 543.70,119.61 543.90,119.62 544.10,119.73 544.30,119.52 544.50,174.59 544.70,170.82 544.90,149.94 545.10,136.54 545.30,129.31 545.50,125.27 545.70,122.83 545.90,121.70 546.10,121.32 546.30,120.68 546.50,120.26 546.70,119.62 546.90,119.73 547.10,119.51 547.30,119.61 547.50,119.63 547.70,119.58 547.90,119.32 548.10,119.09 548.30,119.17 548.50,119.38 548.70,118.86 548.90,118.91 549.10,118.74 549.30,118.69 549.50,118.63 549.70,118.43 549.90,118.79 550.10,118.94 550.30,118.68 550.50,118.96 550.70,119.18 550.90,119.26 551.10,119.33 551.30,119.23 551.50,119.54 551.70,119.48 551.90,119.39 552.10,119.35 552.30,119.52 552.50,119.25 552.70,119.32 552.90,119.29 553.10,119.24 553.30,119.13 553.50,119.01 553.70,118.86 553.90,119.17 554.10,119.17 554.30,119.26 554.50,119.09 554.70,175.23 554.90,161.40 555.10,143.73 555.30,133.06 555.50,127.28 555.70,123.99 555.90,122.20 556.10,121.39 556.30,120.53 556.50,120.32 556.70,119.95 556.90,119.31 557.10,119.30 557.30,119.22 557.50,119.32 557.70,119.04 557.90,119.16 558.10,119.56 558.30,119.44 558.50,119.71 558.70,120.11 558.90,120.16 559.10,120.32 559.30,119.95 559.50,120.38 559.70,120.00 559.90,120.02 560.10,120.19 560.30,119.86 560.50,119.80 560.70,119.79 560.90,119.61 561.10,119.97 561.30,119.49 561.50,119.37 561.70,119.16 561.90,119.07 562.10,119.71 562.30,119.70 562.50,119.57 562.70,119.57 562.90,119.63 563.10,119.97 563.30,119.97 563.50,120.29 563.70,120.23 563.90,119.80 564.10,119.48 564.30,119.27 564.50,119.37 564.70,118.97 564.90,118.92 565.10,175.53 565.30,156.46 565.50,140.15 565.70,130.67 565.90,125.98 566.10,123.46 566.30,121.92 566.50,121.80 566.70,121.44 566.90,121.20 567.10,121.05 567.30,120.76 567.50,120.66 567.70,120.48 567.90,120.61 568.10,120.43 568.30,119.62 568.50,119.34 568.70,119.32 568.90,119.58 569.10,119.81 569.30,119.62 569.50,119.60 569.70,119.31 569.90,119.40 570.10,119.60 570.30,119.43 570.50,119.38 570.70,118.96 570.90,117.97 571.10,114.45 571.30,107.11 571.50,102.52 571.70,108.59 571.90,112.75 572.10,115.25 572.30,116.90 572.50,117.79 572.70,118.36 572.90,118.75 573.10,118.96 573.30,119.01 573.50,119.31 573.70,119.31 573.90,119.40 574.10,119.45 574.30,119.46 574.50,119.37 574.70,119.25 574.90,118.91 575.10,119.11 575.30,118.86 575.50,175.73 575.70,171.94 575.90,150.11 576.10,136.25 576.30,128.90 576.50,124.69 576.70,122.32 576.90,120.92 577.10,120.45 577.30,119.86 577.50,119.59 577.70,119.49 577.90,119.17 578.10,119.00 578.30,118.96 578.50,119.33 578.70,119.40 578.90,119.25 579.10,119.24 579.30,119.25 579.50,119.29 579.70,119.63 579.90,119.56 580.10,119.61 580.30,119.52 580.50,119.71 580.70,119.86 580.90,119.76 581.10,119.79 581.30,119.68 581.50,119.68 581.70,119.67 581.90,119.88 582.10,120.11 582.30,120.01 582.50,120.08 582.70,119.99 582.90,119.80 583.10,119.86 583.30,119.88 583.50,119.94 583.70,120.06 583.90,119.69 584.10,119.77 584.30,119.70 584.50,119.64 584.70,119.83 584.90,119.80 585.10,119.87 585.30,119.82 585.50,119.72 585.70,119.87 585.90,175.68 586.10,156.32 586.30,140.13 586.50,130.63 586.70,125.77 586.90,122.97 587.10,121.41 587.30,120.61 587.50,119.96 587.70,120.04 587.90,120.05 588.10,119.95 588.30,119.67 588.50,119.28 588.70,118.87 588.90,119.31 589.10,119.07 589.30,119.01 589.50,118.85 589.70,118.80 589.90,118.66 590.10,118.93 590.30,119.10 590.50,119.45 590.70,119.04 590.90,119.16 591.10,119.45 591.30,119.60 591.50,119.73 591.70,119.49 591.90,119.47 592.10,119.48 592.30,119.61 592.50,119.29 592.70,119.30 592.90,119.11 593.10,119.12 593.30,118.98 593.50,119.30 593.70,119.32 593.90,119.29 594.10,119.05 594.30,119.42 594.50,119.35 594.70,119.38 594.90,119.26 595.10,119.06 595.30,119.22 595.50,118.87 595.70,118.84 595.90,118.69 596.10,118.68 596.30,176.39 596.50,172.28 596.70,150.25 596.90,136.22 597.10,128.33 597.30,124.66 597.50,122.52 597.70,121.52 597.90,120.73 598.10,120.45 598.30,120.26 598.50,120.12 598.70,120.31 598.90,120.16 599.10,119.94 599.30,119.75 599.50,119.61 599.70,119.75 599.90,119.77 600.10,119.72 600.30,119.64 600.50,119.37 600.70,119.35 600.90,119.01 601.10,119.21 601.30,119.31 601.50,119.27 601.70,119.10 601.90,119.16 602.10,119.26 602.30,119.63 602.50,119.68 602.70,119.72 602.90,119.67 603.10,119.55 603.30,119.46 603.50,119.52 603.70,119.38 603.90,119.46 604.10,119.29 604.30,119.29 604.50,119.40 604.70,119.10 604.90,119.06 605.10,119.18 605.30,119.34 605.50,119.62 605.70,119.39 605.90,119.29 606.10,119.19 606.30,119.23 606.50,119.45 606.70,176.83 606.90,172.67 607.10,150.63 607.30,136.42 607.50,129.10 607.70,125.24 607.90,123.01 608.10,121.72 608.30,120.99 608.50,120.51 608.70,120.44 608.90,120.24 609.10,120.07 609.30,119.63 609.50,119.27 609.70,119.31 609.90,119.62 610.10,119.52 610.30,119.65 610.50,119.17 610.70,119.08 610.90,118.92 611.10,119.02 611.30,119.11 611.50,119.16 611.70,118.69 611.90,118.85 612.10,118.63 612.30,119.18 612.50,119.39 612.70,119.52 612.90,119.56 613.10,119.49 613.30,119.39 613.50,119.52 613.70,119.55 613.90,119.74 614.10,119.58 614.30,119.53 614.50,119.60 614.70,119.51 614.90,120.03 615.10,119.93 615.30,119.96 615.50,119.99 615.70,120.13 615.90,119.90 616.10,119.67 616.30,119.37 616.50,119.34 616.70,118.71 616.90,177.29 617.10,157.85 617.30,140.89 617.50,130.87 617.70,125.83 617.90,123.42 618.10,122.32 618.30,121.60 618.50,121.13 618.70,120.96 618.90,120.84 619.10,120.47 619.30,120.74 619.50,120.83 619.70,120.60 619.90,120.12 620.10,120.01 620.30,120.02 620.50,119.95 620.70,119.46 620.90,119.86 621.10,119.90 621.30,119.52 621.50,119.27 621.70,119.46 621.90,119.59 622.10,119.83 622.30,119.84 622.50,120.05 622.70,119.40 622.90,119.13 623.10,119.35 623.30,119.57 623.50,119.63 623.70,119.59 623.90,119.36 624.10,119.09 624.30,119.16 624.50,119.24 624.70,119.36 624.90,119.11 625.10,119.22 625.30,119.08 625.50,119.10 625.70,119.10 625.90,119.35 626.10,119.18 626.30,119.15 626.50,118.91 626.70,118.99 626.90,118.70 627.10,118.70 627.30,176.50 627.50,157.04 627.70,140.04 627.90,130.47 628.10,125.89 628.30,123.19 628.50,121.80 628.70,121.28 628.90,120.88 629.10,120.74 629.30,120.66 629.50,120.73 629.70,120.21 629.90,119.73 630.10,119.59 630.30,119.40 630.50,119.44 630.70,119.35 630.90,119.52 631.10,119.28 631.30,119.05 631.50,119.55 631.70,119.45 631.90,119.46 632.10,119.36 632.30,119.04 632.50,119.21 632.70,119.16 632.90,119.07 633.10,118.95 633.30,119.20 633.50,119.21 633.70,119.10 633.90,119.33 634.10,119.34 634.30,119.18 634.50,119.22 634.70,119.53 634.90,119.67 635.10,119.49 635.30,119.56 635.50,119.65 635.70,119.57 635.90,119.64 636.10,119.77 636.30,119.68 636.50,119.42 636.70,119.48 636.90,119.20 637.10,119.14 637.30,119.15 637.50,178.80 637.70,174.66 637.90,152.11 638.10,137.75 638.30,129.90 638.50,125.54 638.70,123.24 638.90,122.12 639.10,121.57 639.30,121.23 639.50,120.74 639.70,120.51 639.90,120.31 640.10,120.57 640.30,120.61 640.50,120.65 640.70,120.33 640.90,120.05 641.10,119.62 641.30,119.63 641.50,119.33 641.70,118.93 641.90,118.54 642.10,118.55 642.30,118.65 642.50,118.84 642.70,119.09 642.90,119.39 643.10,119.31 643.30,119.39 643.50,119.42 643.70,119.29 643.90,119.25 644.10,119.12 644.30,119.34 644.50,119.48 644.70,119.38 644.90,119.57 645.10,119.59 645.30,119.77 645.50,119.99 645.70,119.85 645.90,119.96 646.10,119.71 646.30,119.57 646.50,119.70 646.70,119.98 646.90,119.98 647.10,119.78 647.30,119.46 647.50,119.52 647.70,119.23 647.90,119.03 648.10,118.83 648.30,178.69 648.50,158.32 648.70,141.15 648.90,131.28 649.10,126.19 649.30,123.14 649.50,121.82 649.70,121.10 649.90,120.50 650.10,120.07 650.30,120.00 650.50,119.35 650.70,119.10 650.90,118.98 651.10,119.18 651.30,119.14 651.50,119.21 651.70,119.20 651.90,119.54 652.10,119.31 652.30,119.31 652.50,119.69 652.70,119.62 652.90,119.70 653.10,119.43 653.30,119.23 653.50,119.26 653.70,119.04 653.90,119.15 654.10,119.12 654.30,118.91 654.50,118.80 654.70,118.74 654.90,118.97 655.10,119.06 655.30,119.46 655.50,119.55 655.70,119.56 655.90,119.60 656.10,119.56 656.30,119.72 656.50,119.66 656.70,119.58 656.90,119.54 657.10,119.22 657.30,119.23 657.50,119.08 657.70,119.28" fill="none" stroke="#333" stroke-width="1.0" stroke-linejoin="round"/>
</g>
<polyline points="470.20,315.90 471.85,316.89 473.51,317.87 475.16,318.84 476.81,319.80 478.46,320.76 480.12,321.70 481.77,322.63 483.42,323.56 485.08,324.47 486.73,325.38 488.38,326.28 490.04,327.17 491.69,328.05 493.34,328.92 494.99,329.78 496.65,330.64 498.30,331.48 499.95,332.32 501.61,333.14 503.26,333.96 504.91,334.77 506.56,335.58 508.22,336.37 509.87,337.15 511.52,337.93 513.18,338.70 514.83,339.46 516.48,340.21 518.14,340.95 519.79,341.69 521.44,342.41 523.09,343.13 524.75,343.84 526.40,344.55 528.05,345.24 529.71,345.93 531.36,346.60 533.01,347.27 534.66,347.94 536.32,348.59 537.97,349.24 539.62,349.88 541.28,350.51 542.93,351.13 544.58,351.75 546.24,352.35 547.89,352.95 549.54,353.55 551.19,354.13 552.85,354.71 554.50,355.28 556.15,355.84 557.81,356.40 559.46,356.94 561.11,357.48 562.76,358.02 564.42,358.54 566.07,359.06 567.72,359.57 569.38,360.08 571.03,360.57 572.68,361.06 574.34,361.55 575.99,362.02 577.64,362.49 579.29,362.95 580.95,363.41 582.60,363.86 584.25,364.30 585.91,364.73 587.56,365.16 589.21,365.58 590.86,365.99 592.52,366.40 594.17,366.80 595.82,367.20 597.48,367.58 599.13,367.97 600.78,368.34 602.44,368.71 604.09,369.07 605.74,369.43 607.39,369.78 609.05,370.12 610.70,370.46 612.35,370.79 614.01,371.11 615.66,371.43 617.31,371.74 618.96,372.05 620.62,372.35 622.27,372.64 623.92,372.93 625.58,373.21 627.23,373.49 628.88,373.76 630.54,374.02 632.19,374.28 633.84,374.53 635.49,374.78 637.15,375.02 638.80,375.26 640.45,375.49 642.11,375.71 643.76,375.93 645.41,376.14 647.06,376.35 648.72,376.55 650.37,376.75 652.02,376.94 653.68,377.13 655.33,377.31 656.98,377.49 658.64,377.66 660.29,377.82 661.94,377.98 663.59,378.14 665.25,378.29 666.90,378.44" fill="none" stroke="#444" stroke-width="0.9"/>
<path d="M467.60 311.40h5.2v5.2h-5.2z M477.50 318.90h5.2v5.2h-5.2z M488.10 328.10h5.2v5.2h-5.2z M498.20 332.30h5.2v5.2h-5.2z M508.60 334.20h5.2v5.2h-5.2z M519.10 340.80h5.2v5.2h-5.2z M529.40 340.80h5.2v5.2h-5.2z M540.30 348.60h5.2v5.2h-5.2z M550.80 348.90h5.2v5.2h-5.2z M561.90 356.20h5.2v5.2h-5.2z M572.90 361.50h5.2v5.2h-5.2z M583.90 361.60h5.2v5.2h-5.2z M595.20 368.10h5.2v5.2h-5.2z M606.50 370.00h5.2v5.2h-5.2z M617.70 367.40h5.2v5.2h-5.2z M629.20 370.90h5.2v5.2h-5.2z M641.00 373.10h5.2v5.2h-5.2z M652.40 372.40h5.2v5.2h-5.2z M664.30 377.70h5.2v5.2h-5.2z" fill="#000"/>
<text transform="translate(560.50,11.90) scale(0.9439,1)" font-size="17.76" text-anchor="middle">time (min)</text>
<g transform="translate(491.50,477.50) scale(0.9542,1)"><text style="" ><tspan font-size="17.55" x="0.00">[F5]</tspan><tspan font-size="11.56" dy="7.00">T</tspan><tspan font-size="17.55" dy="-7.00">/[NTD V 3A]</tspan><tspan font-size="11.56" dy="7.00">T</tspan></text><polygon transform="translate(0,0.00)" points="106.22,0.00 104.68,0.00 104.68,-9.45 104.31,-9.12 103.78,-8.72 103.11,-8.32 102.42,-7.96 101.68,-7.62 101.68,-9.05 102.51,-9.45 103.28,-9.93 103.97,-10.48 104.57,-11.04 105.00,-11.57 105.27,-12.07 106.22,-12.07" style="fill:#141414"/></g>
<text transform="translate(394.00,155.40) rotate(-90)" x="0" y="0" font-size="18.0" text-anchor="middle" textLength="101" lengthAdjust="spacingAndGlyphs">dQ/dt (µcal/s)</text>
<text transform="translate(394.80,351.50) rotate(-90)" x="0" y="0" font-size="18.4" text-anchor="middle" textLength="174.9" lengthAdjust="spacingAndGlyphs">Q (kcal/mol of injectant)</text>
<text transform="translate(350.50,24.70) scale(0.9709,1)" font-size="34.51" text-anchor="start" style="font-weight:bold;fill:#000;" stroke="#000" stroke-width="0.7">B</text>
<path d="M94.42 577.60v5.20 M136.05 577.60v5.20 M177.68 577.60v5.20 M219.32 577.60v5.20 M260.95 577.60v5.20 M302.58 577.60v5.20 M115.23 577.60v2.80 M156.87 577.60v2.80 M198.50 577.60v2.80 M240.13 577.60v2.80 M281.77 577.60v2.80" stroke="#1a1a1a" stroke-width="1.1" fill="none"/>
<text transform="translate(94.42,568.40) scale(0.9346,1)" font-size="14.02" text-anchor="middle" style="" >0</text>
<g transform="translate(136.05,568.40) scale(0.9346,1)"><text style="" ><tspan font-size="14.02" x="-7.80"> 0</tspan></text><polygon transform="translate(0,0.00)" points="-2.57,0.00 -3.81,0.00 -3.81,-7.55 -4.10,-7.28 -4.52,-6.97 -5.06,-6.64 -5.61,-6.36 -6.20,-6.08 -6.20,-7.23 -5.54,-7.55 -4.92,-7.93 -4.37,-8.37 -3.89,-8.81 -3.55,-9.24 -3.33,-9.64 -2.57,-9.64" style="fill:#141414"/></g>
<text transform="translate(177.68,568.40) scale(0.9346,1)" font-size="14.02" text-anchor="middle" style="" >20</text>
<text transform="translate(219.32,568.40) scale(0.9346,1)" font-size="14.02" text-anchor="middle" style="" >30</text>
<text transform="translate(260.95,568.40) scale(0.9346,1)" font-size="14.02" text-anchor="middle" style="" >40</text>
<text transform="translate(302.58,568.40) scale(0.9346,1)" font-size="14.02" text-anchor="middle" style="" >50</text>
<path d="M73.60 747.88h5.20 M73.60 699.23h5.20 M73.60 650.58h5.20 M73.60 601.93h5.20 M73.60 723.55h2.80 M73.60 674.90h2.80 M73.60 626.25h2.80" stroke="#1a1a1a" stroke-width="1.1" fill="none"/>
<text transform="translate(67.40,751.50) scale(0.9346,1)" font-size="14.02" text-anchor="end" style="" >-0.2</text>
<g transform="translate(67.40,702.85) scale(0.9346,1)"><text style="" ><tspan font-size="14.02" x="-24.15">-0. </tspan></text><polygon transform="translate(0,0.00)" points="-2.57,0.00 -3.81,0.00 -3.81,-7.55 -4.10,-7.28 -4.52,-6.97 -5.06,-6.64 -5.61,-6.36 -6.20,-6.08 -6.20,-7.23 -5.54,-7.55 -4.92,-7.93 -4.37,-8.37 -3.89,-8.81 -3.55,-9.24 -3.33,-9.64 -2.57,-9.64" style="fill:#141414"/></g>
<text transform="translate(67.40,654.20) scale(0.9346,1)" font-size="14.02" text-anchor="end" style="" >0.0</text>
<g transform="translate(67.40,605.55) scale(0.9346,1)"><text style="" ><tspan font-size="14.02" x="-19.49">0. </tspan></text><polygon transform="translate(0,0.00)" points="-2.57,0.00 -3.81,0.00 -3.81,-7.55 -4.10,-7.28 -4.52,-6.97 -5.06,-6.64 -5.61,-6.36 -6.20,-6.08 -6.20,-7.23 -5.54,-7.55 -4.92,-7.93 -4.37,-8.37 -3.89,-8.81 -3.55,-9.24 -3.33,-9.64 -2.57,-9.64" style="fill:#141414"/></g>
<path d="M323.40 747.88h-5.20 M323.40 699.23h-5.20 M323.40 650.58h-5.20 M323.40 601.93h-5.20 M323.40 723.55h-2.80 M323.40 674.90h-2.80 M323.40 626.25h-2.80" stroke="#1a1a1a" stroke-width="1.1" fill="none"/>
<path d="M73.60 942.83h5.20 M73.60 894.08h5.20 M73.60 845.33h5.20 M73.60 796.58h5.20 M73.60 918.45h2.80 M73.60 869.70h2.80 M73.60 820.95h2.80" stroke="#1a1a1a" stroke-width="1.1" fill="none"/>
<text transform="translate(67.40,946.45) scale(0.9346,1)" font-size="14.02" text-anchor="end" style="" >-3.0</text>
<text transform="translate(67.40,897.70) scale(0.9346,1)" font-size="14.02" text-anchor="end" style="" >-2.8</text>
<text transform="translate(67.40,848.95) scale(0.9346,1)" font-size="14.02" text-anchor="end" style="" >-2.6</text>
<text transform="translate(67.40,800.20) scale(0.9346,1)" font-size="14.02" text-anchor="end" style="" >-2.4</text>
<path d="M323.40 942.83h-5.20 M323.40 894.08h-5.20 M323.40 845.33h-5.20 M323.40 796.58h-5.20 M323.40 918.45h-2.80 M323.40 869.70h-2.80 M323.40 820.95h-2.80" stroke="#1a1a1a" stroke-width="1.1" fill="none"/>
<path d="M98.58 967.20v-5.20 M148.54 967.20v-5.20 M198.50 967.20v-5.20 M248.46 967.20v-5.20 M298.42 967.20v-5.20 M123.56 967.20v-2.80 M173.52 967.20v-2.80 M223.48 967.20v-2.80 M273.44 967.20v-2.80" stroke="#1a1a1a" stroke-width="1.1" fill="none"/>
<text transform="translate(98.58,983.90) scale(0.9346,1)" font-size="14.02" text-anchor="middle" style="" >0.0</text>
<text transform="translate(148.54,983.90) scale(0.9346,1)" font-size="14.02" text-anchor="middle" style="" >0.5</text>
<g transform="translate(198.50,983.90) scale(0.9346,1)"><text style="" ><tspan font-size="14.02" x="-9.74"> .0</tspan></text><polygon transform="translate(0,0.00)" points="-4.52,0.00 -5.75,0.00 -5.75,-7.55 -6.05,-7.28 -6.47,-6.97 -7.01,-6.64 -7.55,-6.36 -8.15,-6.08 -8.15,-7.23 -7.48,-7.55 -6.87,-7.93 -6.32,-8.37 -5.84,-8.81 -5.50,-9.24 -5.28,-9.64 -4.52,-9.64" style="fill:#141414"/></g>
<g transform="translate(248.46,983.90) scale(0.9346,1)"><text style="" ><tspan font-size="14.02" x="-9.74"> .5</tspan></text><polygon transform="translate(0,0.00)" points="-4.52,0.00 -5.75,0.00 -5.75,-7.55 -6.05,-7.28 -6.47,-6.97 -7.01,-6.64 -7.55,-6.36 -8.15,-6.08 -8.15,-7.23 -7.48,-7.55 -6.87,-7.93 -6.32,-8.37 -5.84,-8.81 -5.50,-9.24 -5.28,-9.64 -4.52,-9.64" style="fill:#141414"/></g>
<text transform="translate(298.42,983.90) scale(0.9346,1)" font-size="14.02" text-anchor="middle" style="" >2.0</text>
<path d="M73.6 577.6H323.4V967.2H73.6Z M73.6 772.2H323.4" fill="none" stroke="#1a1a1a" stroke-width="1.25"/>
<g transform="translate(0,-0.18)">
<clipPath id="cC"><rect x="0" y="647.58" width="685" height="5.2"/></clipPath>
<polyline points="94.90,650.25 95.10,650.23 95.30,650.29 95.50,650.66 95.70,650.73 95.90,650.87 96.10,650.93 96.30,650.92 96.50,650.81 96.70,650.75 96.90,650.66 97.10,650.64 97.30,650.72 97.50,650.73 97.70,650.86 97.90,650.79 98.10,650.79 98.30,650.69 98.50,650.67 98.70,679.65 98.90,688.43 99.10,681.90 99.30,674.96 99.50,669.72 99.70,665.86 99.90,662.98 100.10,660.96 100.30,659.29 100.50,657.83 100.70,656.75 100.90,655.91 101.10,655.16 101.30,654.65 101.50,654.16 101.70,653.86 101.90,653.51 102.10,653.30 102.30,652.97 102.50,652.72 102.70,652.50 102.90,652.37 103.10,652.14 103.30,652.03 103.50,651.93 103.70,651.77 103.90,651.76 104.10,651.69 104.30,651.52 104.50,651.57 104.70,651.44 104.90,651.32 105.10,651.17 105.30,651.00 105.50,650.73 105.70,650.70 105.90,650.67 106.10,650.70 106.30,650.88 106.50,650.97 106.70,651.02 106.90,650.96 107.10,650.94 107.30,650.86 107.50,650.71 107.70,650.73 107.90,650.63 108.10,650.61 108.30,650.63 108.50,650.53 108.70,650.48 108.90,650.54 109.10,650.55 109.30,687.71 109.50,685.30 109.70,678.15 109.90,672.10 110.10,667.59 110.30,664.28 110.50,661.78 110.70,659.95 110.90,658.55 111.10,657.39 111.30,656.47 111.50,655.79 111.70,655.12 111.90,654.51 112.10,654.21 112.30,653.77 112.50,653.40 112.70,653.05 112.90,652.91 113.10,652.44 113.30,652.08 113.50,652.08 113.70,651.96 113.90,651.69 114.10,651.65 114.30,651.64 114.50,651.35 114.70,651.30 114.90,651.22 115.10,651.13 115.30,651.13 115.50,651.22 115.70,651.10 115.90,650.95 116.10,650.92 116.30,650.85 116.50,650.82 116.70,650.79 116.90,651.00 117.10,650.91 117.30,650.78 117.50,650.67 117.70,650.68 117.90,650.54 118.10,650.52 118.30,650.76 118.50,650.76 118.70,650.78 118.90,650.81 119.10,650.73 119.30,650.56 119.50,650.54 119.70,679.43 119.90,688.11 120.10,681.80 120.30,674.96 120.50,669.61 120.70,665.59 120.90,662.69 121.10,660.74 121.30,659.17 121.50,657.86 121.70,656.89 121.90,656.21 122.10,655.43 122.30,654.83 122.50,654.30 122.70,653.76 122.90,653.26 123.10,652.89 123.30,652.51 123.50,652.26 123.70,652.16 123.90,651.83 124.10,651.55 124.30,651.50 124.50,651.50 124.70,651.40 124.90,651.52 125.10,651.65 125.30,651.63 125.50,651.50 125.70,651.55 125.90,651.54 126.10,651.44 126.30,651.27 126.50,651.27 126.70,650.94 126.90,650.76 127.10,650.49 127.30,650.49 127.50,650.51 127.70,650.63 127.90,650.75 128.10,650.90 128.30,650.92 128.50,650.82 128.70,650.84 128.90,650.71 129.10,650.79 129.30,650.88 129.50,650.92 129.70,650.80 129.90,650.83 130.10,650.84 130.30,687.57 130.50,685.14 130.70,678.25 130.90,672.29 131.10,667.49 131.30,664.23 131.50,661.79 131.70,659.89 131.90,658.32 132.10,657.39 132.30,656.42 132.50,655.52 132.70,654.92 132.90,654.44 133.10,654.08 133.30,653.70 133.50,653.46 133.70,653.12 133.90,652.90 134.10,652.58 134.30,652.37 134.50,652.15 134.70,651.90 134.90,651.67 135.10,651.43 135.30,651.23 135.50,651.20 135.70,651.08 135.90,650.95 136.10,651.03 136.30,650.99 136.50,650.90 136.70,650.88 136.90,650.84 137.10,650.73 137.30,650.84 137.50,650.84 137.70,650.78 137.90,650.86 138.10,650.92 138.30,650.84 138.50,650.70 138.70,650.80 138.90,650.90 139.10,650.75 139.30,650.72 139.50,650.74 139.70,650.64 139.90,650.46 140.10,650.59 140.30,650.64 140.50,650.62 140.70,679.63 140.90,688.34 141.10,681.80 141.30,674.93 141.50,669.77 141.70,665.97 141.90,663.09 142.10,661.15 142.30,659.52 142.50,658.09 142.70,656.96 142.90,656.13 143.10,655.37 143.30,654.84 143.50,654.31 143.70,653.81 143.90,653.53 144.10,653.20 144.30,652.66 144.50,652.41 144.70,652.22 144.90,651.92 145.10,651.76 145.30,651.81 145.50,651.74 145.70,651.68 145.90,651.56 146.10,651.52 146.30,651.45 146.50,651.37 146.70,651.24 146.90,651.37 147.10,651.31 147.30,651.10 147.50,650.96 147.70,650.95 147.90,650.85 148.10,650.72 148.30,650.74 148.50,650.79 148.70,650.84 148.90,650.83 149.10,650.76 149.30,650.74 149.50,650.75 149.70,650.65 149.90,650.45 150.10,650.59 150.30,650.61 150.50,650.67 150.70,650.81 150.90,650.86 151.10,650.84 151.30,687.99 151.50,685.49 151.70,678.29 151.90,672.22 152.10,667.52 152.30,664.29 152.50,661.81 152.70,659.82 152.90,658.22 153.10,657.18 153.30,656.20 153.50,655.51 153.70,655.04 153.90,654.65 154.10,654.24 154.30,653.70 154.50,653.30 154.70,652.99 154.90,652.71 155.10,652.43 155.30,652.34 155.50,652.15 155.70,652.03 155.90,651.86 156.10,651.83 156.30,651.62 156.50,651.46 156.70,651.21 156.90,651.20 157.10,651.00 157.30,651.05 157.50,651.04 157.70,651.20 157.90,651.19 158.10,651.16 158.30,651.12 158.50,651.12 158.70,650.93 158.90,650.79 159.10,650.73 159.30,650.70 159.50,650.69 159.70,650.72 159.90,650.78 160.10,650.86 160.30,650.80 160.50,650.75 160.70,650.81 160.90,650.88 161.10,650.93 161.30,650.93 161.50,688.92 161.70,686.25 161.90,678.97 162.10,672.63 162.30,667.90 162.50,664.42 162.70,661.96 162.90,659.81 163.10,658.25 163.30,657.25 163.50,656.35 163.70,655.56 163.90,654.96 164.10,654.63 164.30,654.18 164.50,653.82 164.70,653.40 164.90,653.25 165.10,652.95 165.30,652.62 165.50,652.35 165.70,652.21 165.90,652.04 166.10,651.80 166.30,651.67 166.50,651.47 166.70,651.28 166.90,651.21 167.10,651.25 167.30,651.26 167.50,651.39 167.70,651.41 167.90,651.29 168.10,651.16 168.30,651.04 168.50,651.02 168.70,650.93 168.90,650.86 169.10,650.78 169.30,650.72 169.50,650.64 169.70,650.58 169.90,650.68 170.10,650.75 170.30,650.81 170.50,650.83 170.70,651.13 170.90,651.05 171.10,651.03 171.30,651.03 171.50,650.96 171.70,650.75 171.90,678.79 172.10,687.27 172.30,681.08 172.50,674.47 172.70,669.39 172.90,665.58 173.10,662.74 173.30,660.67 173.50,658.98 173.70,657.74 173.90,656.78 174.10,655.96 174.30,655.15 174.50,654.64 174.70,653.99 174.90,653.55 175.10,653.29 175.30,653.24 175.50,652.90 175.70,652.68 175.90,652.52 176.10,652.19 176.30,651.92 176.50,651.71 176.70,651.74 176.90,651.70 177.10,651.52 177.30,651.35 177.50,651.31 177.70,651.21 177.90,650.90 178.10,650.95 178.30,650.94 178.50,650.88 178.70,650.84 178.90,650.80 179.10,650.65 179.30,650.58 179.50,650.66 179.70,650.56 179.90,650.62 180.10,650.73 180.30,650.73 180.50,650.62 180.70,650.61 180.90,650.68 181.10,650.82 181.30,650.77 181.50,650.83 181.70,650.83 181.90,650.78 182.10,650.69 182.30,688.02 182.50,685.60 182.70,678.46 182.90,672.34 183.10,667.69 183.30,664.25 183.50,661.67 183.70,659.86 183.90,658.38 184.10,657.17 184.30,656.32 184.50,655.61 184.70,654.98 184.90,654.48 185.10,654.13 185.30,653.64 185.50,653.40 185.70,653.11 185.90,652.94 186.10,652.77 186.30,652.64 186.50,652.32 186.70,652.21 186.90,652.06 187.10,651.91 187.30,651.78 187.50,651.80 187.70,651.54 187.90,651.35 188.10,651.09 188.30,651.07 188.50,650.79 188.70,650.68 188.90,650.62 189.10,650.69 189.30,650.63 189.50,650.68 189.70,650.83 189.90,650.92 190.10,650.97 190.30,650.98 190.50,650.97 190.70,650.91 190.90,650.87 191.10,650.80 191.30,650.74 191.50,650.77 191.70,650.80 191.90,650.81 192.10,650.82 192.30,650.80 192.50,650.78 192.70,650.79 192.90,679.42 193.10,688.08 193.30,681.89 193.50,675.14 193.70,669.83 193.90,665.89 194.10,662.81 194.30,660.54 194.50,659.02 194.70,657.72 194.90,656.50 195.10,655.79 195.30,655.20 195.50,654.44 195.70,654.12 195.90,653.98 196.10,653.69 196.30,653.35 196.50,653.19 196.70,652.85 196.90,652.59 197.10,652.29 197.30,652.15 197.50,651.97 197.70,651.80 197.90,651.57 198.10,651.53 198.30,651.42 198.50,651.34 198.70,651.26 198.90,651.16 199.10,651.14 199.30,651.14 199.50,650.98 199.70,650.91 199.90,650.91 200.10,650.79 200.30,650.77 200.50,650.87 200.70,650.99 200.90,651.04 201.10,650.97 201.30,650.89 201.50,650.66 201.70,650.63 201.90,650.63 202.10,650.73 202.30,650.72 202.50,650.82 202.70,650.68 202.90,650.60 203.10,650.52 203.30,687.05 203.50,688.90 203.70,681.70 203.90,674.85 204.10,669.74 204.30,665.83 204.50,662.99 204.70,660.76 204.90,659.21 205.10,657.85 205.30,656.87 205.50,656.07 205.70,655.38 205.90,654.76 206.10,654.28 206.30,653.93 206.50,653.51 206.70,653.12 206.90,652.82 207.10,652.51 207.30,652.11 207.50,651.99 207.70,651.86 207.90,651.74 208.10,651.54 208.30,651.56 208.50,651.52 208.70,651.41 208.90,651.26 209.10,651.23 209.30,651.25 209.50,651.25 209.70,651.22 209.90,651.18 210.10,651.28 210.30,651.11 210.50,651.07 210.70,650.97 210.90,651.04 211.10,650.91 211.30,650.92 211.50,650.74 211.70,650.83 211.90,650.75 212.10,650.69 212.30,650.66 212.50,650.71 212.70,650.49 212.90,650.50 213.10,650.56 213.30,650.53 213.50,650.65 213.70,690.54 213.90,687.93 214.10,680.19 214.30,673.57 214.50,668.50 214.70,664.94 214.90,662.26 215.10,660.40 215.30,659.00 215.50,657.88 215.70,656.90 215.90,656.14 216.10,655.38 216.30,654.79 216.50,654.27 216.70,653.83 216.90,653.21 217.10,652.90 217.30,652.77 217.50,652.48 217.70,652.25 217.90,652.29 218.10,652.24 218.30,651.93 218.50,651.79 218.70,651.62 218.90,651.48 219.10,651.22 219.30,651.14 219.50,651.18 219.70,651.27 219.90,651.19 220.10,651.14 220.30,650.97 220.50,650.85 220.70,650.78 220.90,650.84 221.10,650.90 221.30,650.88 221.50,650.69 221.70,650.71 221.90,650.57 222.10,650.66 222.30,650.58 222.50,650.62 222.70,650.47 222.90,650.53 223.10,650.44 223.30,650.53 223.50,650.64 223.70,650.61 223.90,650.55 224.10,680.98 224.30,690.21 224.50,683.45 224.70,676.35 224.90,671.00 225.10,666.83 225.30,663.78 225.50,661.57 225.70,659.80 225.90,658.29 226.10,657.23 226.30,656.42 226.50,655.59 226.70,655.03 226.90,654.43 227.10,654.07 227.30,653.59 227.50,653.18 227.70,652.75 227.90,652.53 228.10,652.26 228.30,652.15 228.50,652.01 228.70,651.97 228.90,651.84 229.10,651.58 229.30,651.43 229.50,651.56 229.70,651.37 229.90,651.29 230.10,651.37 230.30,651.34 230.50,651.12 230.70,651.07 230.90,650.92 231.10,650.85 231.30,650.71 231.50,650.64 231.70,650.75 231.90,650.71 232.10,650.62 232.30,650.58 232.50,650.66 232.70,650.41 232.90,650.47 233.10,650.59 233.30,650.73 233.50,650.65 233.70,650.74 233.90,650.71 234.10,650.66 234.30,650.66 234.50,650.69 234.70,691.01 234.90,688.25 235.10,680.52 235.30,673.85 235.50,668.98 235.70,665.38 235.90,662.86 236.10,660.92 236.30,659.28 236.50,657.88 236.70,656.83 236.90,655.91 237.10,655.09 237.30,654.62 237.50,654.26 237.70,653.97 237.90,653.64 238.10,653.34 238.30,653.04 238.50,652.68 238.70,652.38 238.90,652.11 239.10,652.05 239.30,651.68 239.50,651.66 239.70,651.59 239.90,651.53 240.10,651.37 240.30,651.48 240.50,651.44 240.70,651.42 240.90,651.36 241.10,651.39 241.30,651.28 241.50,651.18 241.70,651.05 241.90,650.93 242.10,650.80 242.30,650.77 242.50,650.77 242.70,650.65 242.90,650.60 243.10,650.47 243.30,650.50 243.50,650.45 243.70,650.52 243.90,650.58 244.10,650.72 244.30,650.67 244.50,650.62 244.70,650.66 244.90,681.64 245.10,690.80 245.30,684.14 245.50,676.85 245.70,671.05 245.90,666.94 246.10,663.92 246.30,661.58 246.50,659.82 246.70,658.64 246.90,657.32 247.10,656.49 247.30,655.73 247.50,655.18 247.70,654.45 247.90,654.08 248.10,653.77 248.30,653.38 248.50,653.02 248.70,652.79 248.90,652.62 249.10,652.22 249.30,652.03 249.50,651.84 249.70,651.71 249.90,651.63 250.10,651.64 250.30,651.61 250.50,651.52 250.70,651.52 250.90,651.32 251.10,651.22 251.30,651.01 251.50,650.89 251.70,650.81 251.90,650.81 252.10,650.65 252.30,650.71 252.50,650.74 252.70,650.57 252.90,650.58 253.10,650.67 253.30,650.65 253.50,650.71 253.70,650.73 253.90,650.77 254.10,650.76 254.30,650.73 254.50,650.74 254.70,650.80 254.90,650.69 255.10,650.70 255.30,650.72 255.50,691.22 255.70,688.57 255.90,680.81 256.10,674.08 256.30,669.00 256.50,665.49 256.70,662.62 256.90,660.71 257.10,659.13 257.30,657.96 257.50,656.71 257.70,655.98 257.90,655.10 258.10,654.64 258.30,654.14 258.50,653.87 258.70,653.66 258.90,653.42 259.10,653.05 259.30,652.81 259.50,652.41 259.70,652.02 259.90,651.87 260.10,651.72 260.30,651.57 260.50,651.56 260.70,651.55 260.90,651.37 261.10,651.32 261.30,651.29 261.50,651.41 261.70,651.35 261.90,651.16 262.10,651.14 262.30,651.05 262.50,650.81 262.70,650.60 262.90,650.66 263.10,650.58 263.30,650.53 263.50,650.54 263.70,650.64 263.90,650.67 264.10,650.65 264.30,650.67 264.50,650.67 264.70,650.53 264.90,650.50 265.10,650.57 265.30,650.73 265.50,650.61 265.70,650.68 265.90,681.87 266.10,691.26 266.30,684.20 266.50,676.98 266.70,671.33 266.90,667.08 267.10,663.92 267.30,661.74 267.50,660.00 267.70,658.42 267.90,657.50 268.10,656.56 268.30,655.73 268.50,655.01 268.70,654.57 268.90,653.92 269.10,653.62 269.30,653.20 269.50,652.84 269.70,652.56 269.90,652.38 270.10,651.98 270.30,651.91 270.50,651.78 270.70,651.72 270.90,651.69 271.10,651.73 271.30,651.61 271.50,651.53 271.70,651.35 271.90,651.05 272.10,650.94 272.30,650.81 272.50,650.62 272.70,650.64 272.90,650.83 273.10,650.84 273.30,650.92 273.50,651.04 273.70,650.92 273.90,650.79 274.10,650.72 274.30,650.54 274.50,650.61 274.70,650.68 274.90,650.61 275.10,650.64 275.30,650.70 275.50,650.66 275.70,650.75 275.90,650.74 276.10,650.64 276.30,650.74 276.50,682.12 276.70,691.40 276.90,684.56 277.10,677.19 277.30,671.33 277.50,666.92 277.70,663.80 277.90,661.57 278.10,659.81 278.30,658.37 278.50,657.16 278.70,656.38 278.90,655.65 279.10,655.18 279.30,654.63 279.50,654.36 279.70,653.89 279.90,653.52 280.10,653.17 280.30,652.94 280.50,652.60 280.70,652.26 280.90,651.99 281.10,651.77 281.30,651.56 281.50,651.45 281.70,651.53 281.90,651.42 282.10,651.28 282.30,651.22 282.50,651.15 282.70,651.11 282.90,651.10 283.10,651.12 283.30,651.04 283.50,651.01 283.70,650.89 283.90,650.82 284.10,650.78 284.30,650.79 284.50,650.80 284.70,650.82 284.90,650.86 285.10,650.88 285.30,650.91 285.50,650.80 285.70,650.64 285.90,650.58 286.10,650.54 286.30,650.53 286.50,689.53 286.70,687.08 286.90,679.77 287.10,673.46 287.30,668.66 287.50,665.08 287.70,662.31 287.90,660.34 288.10,658.73 288.30,657.52 288.50,656.68 288.70,655.93 288.90,655.12 289.10,654.60 289.30,654.12 289.50,653.59 289.70,653.33 289.90,653.10 290.10,652.83 290.30,652.68 290.50,652.43 290.70,652.27 290.90,652.14 291.10,651.87 291.30,651.67 291.50,651.59 291.70,651.31 291.90,650.92 292.10,650.97 292.30,650.87 292.50,650.84 292.70,650.91 292.90,651.07 293.10,650.97 293.30,650.98 293.50,650.82 293.70,650.75 293.90,650.78 294.10,650.76 294.30,650.76 294.50,650.80 294.70,650.79 294.90,650.65 295.10,650.71 295.30,650.60 295.50,650.62 295.70,650.52 295.90,650.60 296.10,650.53 296.30,650.58" fill="none" stroke="#555" stroke-width="0.9" stroke-linejoin="round"/>
<polyline clip-path="url(#cC)" points="94.90,650.25 95.10,650.23 95.30,650.29 95.50,650.66 95.70,650.73 95.90,650.87 96.10,650.93 96.30,650.92 96.50,650.81 96.70,650.75 96.90,650.66 97.10,650.64 97.30,650.72 97.50,650.73 97.70,650.86 97.90,650.79 98.10,650.79 98.30,650.69 98.50,650.67 98.70,679.65 98.90,688.43 99.10,681.90 99.30,674.96 99.50,669.72 99.70,665.86 99.90,662.98 100.10,660.96 100.30,659.29 100.50,657.83 100.70,656.75 100.90,655.91 101.10,655.16 101.30,654.65 101.50,654.16 101.70,653.86 101.90,653.51 102.10,653.30 102.30,652.97 102.50,652.72 102.70,652.50 102.90,652.37 103.10,652.14 103.30,652.03 103.50,651.93 103.70,651.77 103.90,651.76 104.10,651.69 104.30,651.52 104.50,651.57 104.70,651.44 104.90,651.32 105.10,651.17 105.30,651.00 105.50,650.73 105.70,650.70 105.90,650.67 106.10,650.70 106.30,650.88 106.50,650.97 106.70,651.02 106.90,650.96 107.10,650.94 107.30,650.86 107.50,650.71 107.70,650.73 107.90,650.63 108.10,650.61 108.30,650.63 108.50,650.53 108.70,650.48 108.90,650.54 109.10,650.55 109.30,687.71 109.50,685.30 109.70,678.15 109.90,672.10 110.10,667.59 110.30,664.28 110.50,661.78 110.70,659.95 110.90,658.55 111.10,657.39 111.30,656.47 111.50,655.79 111.70,655.12 111.90,654.51 112.10,654.21 112.30,653.77 112.50,653.40 112.70,653.05 112.90,652.91 113.10,652.44 113.30,652.08 113.50,652.08 113.70,651.96 113.90,651.69 114.10,651.65 114.30,651.64 114.50,651.35 114.70,651.30 114.90,651.22 115.10,651.13 115.30,651.13 115.50,651.22 115.70,651.10 115.90,650.95 116.10,650.92 116.30,650.85 116.50,650.82 116.70,650.79 116.90,651.00 117.10,650.91 117.30,650.78 117.50,650.67 117.70,650.68 117.90,650.54 118.10,650.52 118.30,650.76 118.50,650.76 118.70,650.78 118.90,650.81 119.10,650.73 119.30,650.56 119.50,650.54 119.70,679.43 119.90,688.11 120.10,681.80 120.30,674.96 120.50,669.61 120.70,665.59 120.90,662.69 121.10,660.74 121.30,659.17 121.50,657.86 121.70,656.89 121.90,656.21 122.10,655.43 122.30,654.83 122.50,654.30 122.70,653.76 122.90,653.26 123.10,652.89 123.30,652.51 123.50,652.26 123.70,652.16 123.90,651.83 124.10,651.55 124.30,651.50 124.50,651.50 124.70,651.40 124.90,651.52 125.10,651.65 125.30,651.63 125.50,651.50 125.70,651.55 125.90,651.54 126.10,651.44 126.30,651.27 126.50,651.27 126.70,650.94 126.90,650.76 127.10,650.49 127.30,650.49 127.50,650.51 127.70,650.63 127.90,650.75 128.10,650.90 128.30,650.92 128.50,650.82 128.70,650.84 128.90,650.71 129.10,650.79 129.30,650.88 129.50,650.92 129.70,650.80 129.90,650.83 130.10,650.84 130.30,687.57 130.50,685.14 130.70,678.25 130.90,672.29 131.10,667.49 131.30,664.23 131.50,661.79 131.70,659.89 131.90,658.32 132.10,657.39 132.30,656.42 132.50,655.52 132.70,654.92 132.90,654.44 133.10,654.08 133.30,653.70 133.50,653.46 133.70,653.12 133.90,652.90 134.10,652.58 134.30,652.37 134.50,652.15 134.70,651.90 134.90,651.67 135.10,651.43 135.30,651.23 135.50,651.20 135.70,651.08 135.90,650.95 136.10,651.03 136.30,650.99 136.50,650.90 136.70,650.88 136.90,650.84 137.10,650.73 137.30,650.84 137.50,650.84 137.70,650.78 137.90,650.86 138.10,650.92 138.30,650.84 138.50,650.70 138.70,650.80 138.90,650.90 139.10,650.75 139.30,650.72 139.50,650.74 139.70,650.64 139.90,650.46 140.10,650.59 140.30,650.64 140.50,650.62 140.70,679.63 140.90,688.34 141.10,681.80 141.30,674.93 141.50,669.77 141.70,665.97 141.90,663.09 142.10,661.15 142.30,659.52 142.50,658.09 142.70,656.96 142.90,656.13 143.10,655.37 143.30,654.84 143.50,654.31 143.70,653.81 143.90,653.53 144.10,653.20 144.30,652.66 144.50,652.41 144.70,652.22 144.90,651.92 145.10,651.76 145.30,651.81 145.50,651.74 145.70,651.68 145.90,651.56 146.10,651.52 146.30,651.45 146.50,651.37 146.70,651.24 146.90,651.37 147.10,651.31 147.30,651.10 147.50,650.96 147.70,650.95 147.90,650.85 148.10,650.72 148.30,650.74 148.50,650.79 148.70,650.84 148.90,650.83 149.10,650.76 149.30,650.74 149.50,650.75 149.70,650.65 149.90,650.45 150.10,650.59 150.30,650.61 150.50,650.67 150.70,650.81 150.90,650.86 151.10,650.84 151.30,687.99 151.50,685.49 151.70,678.29 151.90,672.22 152.10,667.52 152.30,664.29 152.50,661.81 152.70,659.82 152.90,658.22 153.10,657.18 153.30,656.20 153.50,655.51 153.70,655.04 153.90,654.65 154.10,654.24 154.30,653.70 154.50,653.30 154.70,652.99 154.90,652.71 155.10,652.43 155.30,652.34 155.50,652.15 155.70,652.03 155.90,651.86 156.10,651.83 156.30,651.62 156.50,651.46 156.70,651.21 156.90,651.20 157.10,651.00 157.30,651.05 157.50,651.04 157.70,651.20 157.90,651.19 158.10,651.16 158.30,651.12 158.50,651.12 158.70,650.93 158.90,650.79 159.10,650.73 159.30,650.70 159.50,650.69 159.70,650.72 159.90,650.78 160.10,650.86 160.30,650.80 160.50,650.75 160.70,650.81 160.90,650.88 161.10,650.93 161.30,650.93 161.50,688.92 161.70,686.25 161.90,678.97 162.10,672.63 162.30,667.90 162.50,664.42 162.70,661.96 162.90,659.81 163.10,658.25 163.30,657.25 163.50,656.35 163.70,655.56 163.90,654.96 164.10,654.63 164.30,654.18 164.50,653.82 164.70,653.40 164.90,653.25 165.10,652.95 165.30,652.62 165.50,652.35 165.70,652.21 165.90,652.04 166.10,651.80 166.30,651.67 166.50,651.47 166.70,651.28 166.90,651.21 167.10,651.25 167.30,651.26 167.50,651.39 167.70,651.41 167.90,651.29 168.10,651.16 168.30,651.04 168.50,651.02 168.70,650.93 168.90,650.86 169.10,650.78 169.30,650.72 169.50,650.64 169.70,650.58 169.90,650.68 170.10,650.75 170.30,650.81 170.50,650.83 170.70,651.13 170.90,651.05 171.10,651.03 171.30,651.03 171.50,650.96 171.70,650.75 171.90,678.79 172.10,687.27 172.30,681.08 172.50,674.47 172.70,669.39 172.90,665.58 173.10,662.74 173.30,660.67 173.50,658.98 173.70,657.74 173.90,656.78 174.10,655.96 174.30,655.15 174.50,654.64 174.70,653.99 174.90,653.55 175.10,653.29 175.30,653.24 175.50,652.90 175.70,652.68 175.90,652.52 176.10,652.19 176.30,651.92 176.50,651.71 176.70,651.74 176.90,651.70 177.10,651.52 177.30,651.35 177.50,651.31 177.70,651.21 177.90,650.90 178.10,650.95 178.30,650.94 178.50,650.88 178.70,650.84 178.90,650.80 179.10,650.65 179.30,650.58 179.50,650.66 179.70,650.56 179.90,650.62 180.10,650.73 180.30,650.73 180.50,650.62 180.70,650.61 180.90,650.68 181.10,650.82 181.30,650.77 181.50,650.83 181.70,650.83 181.90,650.78 182.10,650.69 182.30,688.02 182.50,685.60 182.70,678.46 182.90,672.34 183.10,667.69 183.30,664.25 183.50,661.67 183.70,659.86 183.90,658.38 184.10,657.17 184.30,656.32 184.50,655.61 184.70,654.98 184.90,654.48 185.10,654.13 185.30,653.64 185.50,653.40 185.70,653.11 185.90,652.94 186.10,652.77 186.30,652.64 186.50,652.32 186.70,652.21 186.90,652.06 187.10,651.91 187.30,651.78 187.50,651.80 187.70,651.54 187.90,651.35 188.10,651.09 188.30,651.07 188.50,650.79 188.70,650.68 188.90,650.62 189.10,650.69 189.30,650.63 189.50,650.68 189.70,650.83 189.90,650.92 190.10,650.97 190.30,650.98 190.50,650.97 190.70,650.91 190.90,650.87 191.10,650.80 191.30,650.74 191.50,650.77 191.70,650.80 191.90,650.81 192.10,650.82 192.30,650.80 192.50,650.78 192.70,650.79 192.90,679.42 193.10,688.08 193.30,681.89 193.50,675.14 193.70,669.83 193.90,665.89 194.10,662.81 194.30,660.54 194.50,659.02 194.70,657.72 194.90,656.50 195.10,655.79 195.30,655.20 195.50,654.44 195.70,654.12 195.90,653.98 196.10,653.69 196.30,653.35 196.50,653.19 196.70,652.85 196.90,652.59 197.10,652.29 197.30,652.15 197.50,651.97 197.70,651.80 197.90,651.57 198.10,651.53 198.30,651.42 198.50,651.34 198.70,651.26 198.90,651.16 199.10,651.14 199.30,651.14 199.50,650.98 199.70,650.91 199.90,650.91 200.10,650.79 200.30,650.77 200.50,650.87 200.70,650.99 200.90,651.04 201.10,650.97 201.30,650.89 201.50,650.66 201.70,650.63 201.90,650.63 202.10,650.73 202.30,650.72 202.50,650.82 202.70,650.68 202.90,650.60 203.10,650.52 203.30,687.05 203.50,688.90 203.70,681.70 203.90,674.85 204.10,669.74 204.30,665.83 204.50,662.99 204.70,660.76 204.90,659.21 205.10,657.85 205.30,656.87 205.50,656.07 205.70,655.38 205.90,654.76 206.10,654.28 206.30,653.93 206.50,653.51 206.70,653.12 206.90,652.82 207.10,652.51 207.30,652.11 207.50,651.99 207.70,651.86 207.90,651.74 208.10,651.54 208.30,651.56 208.50,651.52 208.70,651.41 208.90,651.26 209.10,651.23 209.30,651.25 209.50,651.25 209.70,651.22 209.90,651.18 210.10,651.28 210.30,651.11 210.50,651.07 210.70,650.97 210.90,651.04 211.10,650.91 211.30,650.92 211.50,650.74 211.70,650.83 211.90,650.75 212.10,650.69 212.30,650.66 212.50,650.71 212.70,650.49 212.90,650.50 213.10,650.56 213.30,650.53 213.50,650.65 213.70,690.54 213.90,687.93 214.10,680.19 214.30,673.57 214.50,668.50 214.70,664.94 214.90,662.26 215.10,660.40 215.30,659.00 215.50,657.88 215.70,656.90 215.90,656.14 216.10,655.38 216.30,654.79 216.50,654.27 216.70,653.83 216.90,653.21 217.10,652.90 217.30,652.77 217.50,652.48 217.70,652.25 217.90,652.29 218.10,652.24 218.30,651.93 218.50,651.79 218.70,651.62 218.90,651.48 219.10,651.22 219.30,651.14 219.50,651.18 219.70,651.27 219.90,651.19 220.10,651.14 220.30,650.97 220.50,650.85 220.70,650.78 220.90,650.84 221.10,650.90 221.30,650.88 221.50,650.69 221.70,650.71 221.90,650.57 222.10,650.66 222.30,650.58 222.50,650.62 222.70,650.47 222.90,650.53 223.10,650.44 223.30,650.53 223.50,650.64 223.70,650.61 223.90,650.55 224.10,680.98 224.30,690.21 224.50,683.45 224.70,676.35 224.90,671.00 225.10,666.83 225.30,663.78 225.50,661.57 225.70,659.80 225.90,658.29 226.10,657.23 226.30,656.42 226.50,655.59 226.70,655.03 226.90,654.43 227.10,654.07 227.30,653.59 227.50,653.18 227.70,652.75 227.90,652.53 228.10,652.26 228.30,652.15 228.50,652.01 228.70,651.97 228.90,651.84 229.10,651.58 229.30,651.43 229.50,651.56 229.70,651.37 229.90,651.29 230.10,651.37 230.30,651.34 230.50,651.12 230.70,651.07 230.90,650.92 231.10,650.85 231.30,650.71 231.50,650.64 231.70,650.75 231.90,650.71 232.10,650.62 232.30,650.58 232.50,650.66 232.70,650.41 232.90,650.47 233.10,650.59 233.30,650.73 233.50,650.65 233.70,650.74 233.90,650.71 234.10,650.66 234.30,650.66 234.50,650.69 234.70,691.01 234.90,688.25 235.10,680.52 235.30,673.85 235.50,668.98 235.70,665.38 235.90,662.86 236.10,660.92 236.30,659.28 236.50,657.88 236.70,656.83 236.90,655.91 237.10,655.09 237.30,654.62 237.50,654.26 237.70,653.97 237.90,653.64 238.10,653.34 238.30,653.04 238.50,652.68 238.70,652.38 238.90,652.11 239.10,652.05 239.30,651.68 239.50,651.66 239.70,651.59 239.90,651.53 240.10,651.37 240.30,651.48 240.50,651.44 240.70,651.42 240.90,651.36 241.10,651.39 241.30,651.28 241.50,651.18 241.70,651.05 241.90,650.93 242.10,650.80 242.30,650.77 242.50,650.77 242.70,650.65 242.90,650.60 243.10,650.47 243.30,650.50 243.50,650.45 243.70,650.52 243.90,650.58 244.10,650.72 244.30,650.67 244.50,650.62 244.70,650.66 244.90,681.64 245.10,690.80 245.30,684.14 245.50,676.85 245.70,671.05 245.90,666.94 246.10,663.92 246.30,661.58 246.50,659.82 246.70,658.64 246.90,657.32 247.10,656.49 247.30,655.73 247.50,655.18 247.70,654.45 247.90,654.08 248.10,653.77 248.30,653.38 248.50,653.02 248.70,652.79 248.90,652.62 249.10,652.22 249.30,652.03 249.50,651.84 249.70,651.71 249.90,651.63 250.10,651.64 250.30,651.61 250.50,651.52 250.70,651.52 250.90,651.32 251.10,651.22 251.30,651.01 251.50,650.89 251.70,650.81 251.90,650.81 252.10,650.65 252.30,650.71 252.50,650.74 252.70,650.57 252.90,650.58 253.10,650.67 253.30,650.65 253.50,650.71 253.70,650.73 253.90,650.77 254.10,650.76 254.30,650.73 254.50,650.74 254.70,650.80 254.90,650.69 255.10,650.70 255.30,650.72 255.50,691.22 255.70,688.57 255.90,680.81 256.10,674.08 256.30,669.00 256.50,665.49 256.70,662.62 256.90,660.71 257.10,659.13 257.30,657.96 257.50,656.71 257.70,655.98 257.90,655.10 258.10,654.64 258.30,654.14 258.50,653.87 258.70,653.66 258.90,653.42 259.10,653.05 259.30,652.81 259.50,652.41 259.70,652.02 259.90,651.87 260.10,651.72 260.30,651.57 260.50,651.56 260.70,651.55 260.90,651.37 261.10,651.32 261.30,651.29 261.50,651.41 261.70,651.35 261.90,651.16 262.10,651.14 262.30,651.05 262.50,650.81 262.70,650.60 262.90,650.66 263.10,650.58 263.30,650.53 263.50,650.54 263.70,650.64 263.90,650.67 264.10,650.65 264.30,650.67 264.50,650.67 264.70,650.53 264.90,650.50 265.10,650.57 265.30,650.73 265.50,650.61 265.70,650.68 265.90,681.87 266.10,691.26 266.30,684.20 266.50,676.98 266.70,671.33 266.90,667.08 267.10,663.92 267.30,661.74 267.50,660.00 267.70,658.42 267.90,657.50 268.10,656.56 268.30,655.73 268.50,655.01 268.70,654.57 268.90,653.92 269.10,653.62 269.30,653.20 269.50,652.84 269.70,652.56 269.90,652.38 270.10,651.98 270.30,651.91 270.50,651.78 270.70,651.72 270.90,651.69 271.10,651.73 271.30,651.61 271.50,651.53 271.70,651.35 271.90,651.05 272.10,650.94 272.30,650.81 272.50,650.62 272.70,650.64 272.90,650.83 273.10,650.84 273.30,650.92 273.50,651.04 273.70,650.92 273.90,650.79 274.10,650.72 274.30,650.54 274.50,650.61 274.70,650.68 274.90,650.61 275.10,650.64 275.30,650.70 275.50,650.66 275.70,650.75 275.90,650.74 276.10,650.64 276.30,650.74 276.50,682.12 276.70,691.40 276.90,684.56 277.10,677.19 277.30,671.33 277.50,666.92 277.70,663.80 277.90,661.57 278.10,659.81 278.30,658.37 278.50,657.16 278.70,656.38 278.90,655.65 279.10,655.18 279.30,654.63 279.50,654.36 279.70,653.89 279.90,653.52 280.10,653.17 280.30,652.94 280.50,652.60 280.70,652.26 280.90,651.99 281.10,651.77 281.30,651.56 281.50,651.45 281.70,651.53 281.90,651.42 282.10,651.28 282.30,651.22 282.50,651.15 282.70,651.11 282.90,651.10 283.10,651.12 283.30,651.04 283.50,651.01 283.70,650.89 283.90,650.82 284.10,650.78 284.30,650.79 284.50,650.80 284.70,650.82 284.90,650.86 285.10,650.88 285.30,650.91 285.50,650.80 285.70,650.64 285.90,650.58 286.10,650.54 286.30,650.53 286.50,689.53 286.70,687.08 286.90,679.77 287.10,673.46 287.30,668.66 287.50,665.08 287.70,662.31 287.90,660.34 288.10,658.73 288.30,657.52 288.50,656.68 288.70,655.93 288.90,655.12 289.10,654.60 289.30,654.12 289.50,653.59 289.70,653.33 289.90,653.10 290.10,652.83 290.30,652.68 290.50,652.43 290.70,652.27 290.90,652.14 291.10,651.87 291.30,651.67 291.50,651.59 291.70,651.31 291.90,650.92 292.10,650.97 292.30,650.87 292.50,650.84 292.70,650.91 292.90,651.07 293.10,650.97 293.30,650.98 293.50,650.82 293.70,650.75 293.90,650.78 294.10,650.76 294.30,650.76 294.50,650.80 294.70,650.79 294.90,650.65 295.10,650.71 295.30,650.60 295.50,650.62 295.70,650.52 295.90,650.60 296.10,650.53 296.30,650.58" fill="none" stroke="#222" stroke-width="1.4" stroke-linejoin="round"/>
</g>
<path d="M105.40 867.70h5.2v5.2h-5.2z M115.70 866.70h5.2v5.2h-5.2z M126.00 863.50h5.2v5.2h-5.2z M136.20 866.10h5.2v5.2h-5.2z M146.70 869.10h5.2v5.2h-5.2z M157.20 865.10h5.2v5.2h-5.2z M167.70 868.20h5.2v5.2h-5.2z M178.20 865.80h5.2v5.2h-5.2z M189.30 867.00h5.2v5.2h-5.2z M200.15 870.90h5.2v5.2h-5.2z M211.00 873.40h5.2v5.2h-5.2z M222.40 870.20h5.2v5.2h-5.2z M233.50 874.00h5.2v5.2h-5.2z M244.70 873.20h5.2v5.2h-5.2z M256.30 872.30h5.2v5.2h-5.2z M267.70 875.80h5.2v5.2h-5.2z M279.40 875.10h5.2v5.2h-5.2z M291.10 875.60h5.2v5.2h-5.2z M302.90 875.30h5.2v5.2h-5.2z" fill="#000"/>
<text transform="translate(198.70,542.80) scale(0.9626,1)" font-size="17.76" text-anchor="middle">time (min)</text>
<g transform="translate(130.10,1009.50) scale(0.9626,1)"><text style="" ><tspan font-size="17.55" x="0.00">[F5]</tspan><tspan font-size="11.56" dy="7.00">T</tspan><tspan font-size="17.55" dy="-7.00">/[NTD F80A]</tspan><tspan font-size="11.56" dy="7.00">T</tspan></text></g>
<text transform="translate(31.80,686.50) rotate(-90)" x="0" y="0" font-size="18.0" text-anchor="middle" textLength="101.5" lengthAdjust="spacingAndGlyphs">dQ/dt (µcal/s)</text>
<text transform="translate(32.20,879.00) rotate(-90)" x="0" y="0" font-size="18.4" text-anchor="middle" textLength="183" lengthAdjust="spacingAndGlyphs">Q (kcal/mol of injectant)</text>
<text transform="translate(-1.00,547.00) scale(0.9709,1)" font-size="34.51" text-anchor="start" style="font-weight:bold;fill:#000;" stroke="#000" stroke-width="0.7">C</text>
<path d="M455.31 577.50v5.20 M496.93 577.50v5.20 M538.54 577.50v5.20 M580.16 577.50v5.20 M621.78 577.50v5.20 M663.39 577.50v5.20 M476.12 577.50v2.80 M517.73 577.50v2.80 M559.35 577.50v2.80 M600.97 577.50v2.80 M642.58 577.50v2.80" stroke="#1a1a1a" stroke-width="1.1" fill="none"/>
<text transform="translate(455.31,568.20) scale(0.9346,1)" font-size="14.02" text-anchor="middle" style="" >0</text>
<g transform="translate(496.93,568.20) scale(0.9346,1)"><text style="" ><tspan font-size="14.02" x="-7.80"> 0</tspan></text><polygon transform="translate(0,0.00)" points="-2.57,0.00 -3.81,0.00 -3.81,-7.55 -4.10,-7.28 -4.52,-6.97 -5.06,-6.64 -5.61,-6.36 -6.20,-6.08 -6.20,-7.23 -5.54,-7.55 -4.92,-7.93 -4.37,-8.37 -3.89,-8.81 -3.55,-9.24 -3.33,-9.64 -2.57,-9.64" style="fill:#141414"/></g>
<text transform="translate(538.54,568.20) scale(0.9346,1)" font-size="14.02" text-anchor="middle" style="" >20</text>
<text transform="translate(580.16,568.20) scale(0.9346,1)" font-size="14.02" text-anchor="middle" style="" >30</text>
<text transform="translate(621.78,568.20) scale(0.9346,1)" font-size="14.02" text-anchor="middle" style="" >40</text>
<text transform="translate(663.39,568.20) scale(0.9346,1)" font-size="14.02" text-anchor="middle" style="" >50</text>
<path d="M434.50 747.86h5.20 M434.50 699.19h5.20 M434.50 650.51h5.20 M434.50 601.84h5.20 M434.50 723.53h2.80 M434.50 674.85h2.80 M434.50 626.18h2.80" stroke="#1a1a1a" stroke-width="1.1" fill="none"/>
<text transform="translate(428.10,751.48) scale(0.9346,1)" font-size="14.02" text-anchor="end" style="" >-0.2</text>
<g transform="translate(428.10,702.81) scale(0.9346,1)"><text style="" ><tspan font-size="14.02" x="-24.15">-0. </tspan></text><polygon transform="translate(0,0.00)" points="-2.57,0.00 -3.81,0.00 -3.81,-7.55 -4.10,-7.28 -4.52,-6.97 -5.06,-6.64 -5.61,-6.36 -6.20,-6.08 -6.20,-7.23 -5.54,-7.55 -4.92,-7.93 -4.37,-8.37 -3.89,-8.81 -3.55,-9.24 -3.33,-9.64 -2.57,-9.64" style="fill:#141414"/></g>
<text transform="translate(428.10,654.13) scale(0.9346,1)" font-size="14.02" text-anchor="end" style="" >0.0</text>
<g transform="translate(428.10,605.46) scale(0.9346,1)"><text style="" ><tspan font-size="14.02" x="-19.49">0. </tspan></text><polygon transform="translate(0,0.00)" points="-2.57,0.00 -3.81,0.00 -3.81,-7.55 -4.10,-7.28 -4.52,-6.97 -5.06,-6.64 -5.61,-6.36 -6.20,-6.08 -6.20,-7.23 -5.54,-7.55 -4.92,-7.93 -4.37,-8.37 -3.89,-8.81 -3.55,-9.24 -3.33,-9.64 -2.57,-9.64" style="fill:#141414"/></g>
<path d="M684.20 747.86h-5.20 M684.20 699.19h-5.20 M684.20 650.51h-5.20 M684.20 601.84h-5.20 M684.20 723.53h-2.80 M684.20 674.85h-2.80 M684.20 626.18h-2.80" stroke="#1a1a1a" stroke-width="1.1" fill="none"/>
<path d="M434.50 942.83h5.20 M434.50 894.08h5.20 M434.50 845.33h5.20 M434.50 796.58h5.20 M434.50 918.45h2.80 M434.50 869.70h2.80 M434.50 820.95h2.80" stroke="#1a1a1a" stroke-width="1.1" fill="none"/>
<text transform="translate(428.10,946.45) scale(0.9346,1)" font-size="14.02" text-anchor="end" style="" >-2.0</text>
<g transform="translate(428.10,897.70) scale(0.9346,1)"><text style="" ><tspan font-size="14.02" x="-24.15">- .8</tspan></text><polygon transform="translate(0,0.00)" points="-14.26,0.00 -15.50,0.00 -15.50,-7.55 -15.79,-7.28 -16.21,-6.97 -16.75,-6.64 -17.30,-6.36 -17.89,-6.08 -17.89,-7.23 -17.23,-7.55 -16.61,-7.93 -16.06,-8.37 -15.58,-8.81 -15.24,-9.24 -15.02,-9.64 -14.26,-9.64" style="fill:#141414"/></g>
<g transform="translate(428.10,848.95) scale(0.9346,1)"><text style="" ><tspan font-size="14.02" x="-24.15">- .6</tspan></text><polygon transform="translate(0,0.00)" points="-14.26,0.00 -15.50,0.00 -15.50,-7.55 -15.79,-7.28 -16.21,-6.97 -16.75,-6.64 -17.30,-6.36 -17.89,-6.08 -17.89,-7.23 -17.23,-7.55 -16.61,-7.93 -16.06,-8.37 -15.58,-8.81 -15.24,-9.24 -15.02,-9.64 -14.26,-9.64" style="fill:#141414"/></g>
<g transform="translate(428.10,800.20) scale(0.9346,1)"><text style="" ><tspan font-size="14.02" x="-24.15">- .4</tspan></text><polygon transform="translate(0,0.00)" points="-14.26,0.00 -15.50,0.00 -15.50,-7.55 -15.79,-7.28 -16.21,-6.97 -16.75,-6.64 -17.30,-6.36 -17.89,-6.08 -17.89,-7.23 -17.23,-7.55 -16.61,-7.93 -16.06,-8.37 -15.58,-8.81 -15.24,-9.24 -15.02,-9.64 -14.26,-9.64" style="fill:#141414"/></g>
<path d="M684.20 942.83h-5.20 M684.20 894.08h-5.20 M684.20 845.33h-5.20 M684.20 796.58h-5.20 M684.20 918.45h-2.80 M684.20 869.70h-2.80 M684.20 820.95h-2.80" stroke="#1a1a1a" stroke-width="1.1" fill="none"/>
<path d="M459.47 967.20v-5.20 M509.41 967.20v-5.20 M559.35 967.20v-5.20 M609.29 967.20v-5.20 M659.23 967.20v-5.20 M484.44 967.20v-2.80 M534.38 967.20v-2.80 M584.32 967.20v-2.80 M634.26 967.20v-2.80" stroke="#1a1a1a" stroke-width="1.1" fill="none"/>
<text transform="translate(459.47,983.90) scale(0.9346,1)" font-size="14.02" text-anchor="middle" style="" >0.0</text>
<text transform="translate(509.41,983.90) scale(0.9346,1)" font-size="14.02" text-anchor="middle" style="" >0.5</text>
<g transform="translate(559.35,983.90) scale(0.9346,1)"><text style="" ><tspan font-size="14.02" x="-9.74"> .0</tspan></text><polygon transform="translate(0,0.00)" points="-4.52,0.00 -5.75,0.00 -5.75,-7.55 -6.05,-7.28 -6.47,-6.97 -7.01,-6.64 -7.55,-6.36 -8.15,-6.08 -8.15,-7.23 -7.48,-7.55 -6.87,-7.93 -6.32,-8.37 -5.84,-8.81 -5.50,-9.24 -5.28,-9.64 -4.52,-9.64" style="fill:#141414"/></g>
<g transform="translate(609.29,983.90) scale(0.9346,1)"><text style="" ><tspan font-size="14.02" x="-9.74"> .5</tspan></text><polygon transform="translate(0,0.00)" points="-4.52,0.00 -5.75,0.00 -5.75,-7.55 -6.05,-7.28 -6.47,-6.97 -7.01,-6.64 -7.55,-6.36 -8.15,-6.08 -8.15,-7.23 -7.48,-7.55 -6.87,-7.93 -6.32,-8.37 -5.84,-8.81 -5.50,-9.24 -5.28,-9.64 -4.52,-9.64" style="fill:#141414"/></g>
<text transform="translate(659.23,983.90) scale(0.9346,1)" font-size="14.02" text-anchor="middle" style="" >2.0</text>
<path d="M434.5 577.5H684.2V967.2H434.5Z M434.5 772.2H684.2" fill="none" stroke="#1a1a1a" stroke-width="1.25"/>
<g transform="translate(0,-0.61)">
<clipPath id="cD"><rect x="0" y="647.51" width="685" height="5.2"/></clipPath>
<polyline points="456.10,650.36 456.30,650.35 456.50,650.36 456.70,650.28 456.90,650.28 457.10,650.48 457.30,650.48 457.50,650.44 457.70,650.55 457.90,650.60 458.10,650.48 458.30,650.55 458.50,650.56 458.70,650.57 458.90,650.51 459.10,650.59 459.30,650.62 459.50,650.69 459.70,650.65 459.90,650.74 460.10,671.91 460.30,675.79 460.50,669.95 460.70,664.68 460.90,661.13 461.10,658.50 461.30,656.84 461.50,655.51 461.70,654.69 461.90,653.97 462.10,653.43 462.30,653.08 462.50,652.74 462.70,652.35 462.90,652.03 463.10,651.82 463.30,651.58 463.50,651.55 463.70,651.26 463.90,651.01 464.10,650.94 464.30,650.81 464.50,650.61 464.70,650.70 464.90,650.80 465.10,650.73 465.30,650.67 465.50,650.61 465.70,650.71 465.90,650.75 466.10,650.71 466.30,650.47 466.50,650.43 466.70,650.41 466.90,650.23 467.10,650.39 467.30,650.46 467.50,650.51 467.70,650.42 467.90,650.54 468.10,650.43 468.30,650.45 468.50,650.54 468.70,650.55 468.90,650.50 469.10,650.50 469.30,650.53 469.50,650.51 469.70,650.30 469.90,650.28 470.10,650.39 470.30,650.48 470.50,676.10 470.70,672.49 470.90,666.78 471.10,662.29 471.30,659.25 471.50,657.30 471.70,655.96 471.90,654.83 472.10,654.23 472.30,653.63 472.50,653.30 472.70,653.01 472.90,652.72 473.10,652.42 473.30,652.31 473.50,652.06 473.70,651.91 473.90,651.70 474.10,651.63 474.30,651.44 474.50,651.20 474.70,651.14 474.90,651.17 475.10,650.98 475.30,650.94 475.50,651.01 475.70,651.05 475.90,650.95 476.10,650.82 476.30,650.74 476.50,650.71 476.70,650.53 476.90,650.46 477.10,650.60 477.30,650.69 477.50,650.62 477.70,650.65 477.90,650.64 478.10,650.53 478.30,650.43 478.50,650.34 478.70,650.34 478.90,650.37 479.10,650.38 479.30,650.41 479.50,650.52 479.70,650.43 479.90,650.39 480.10,650.36 480.30,650.46 480.50,650.31 480.70,676.06 480.90,672.48 481.10,666.67 481.30,662.13 481.50,659.21 481.70,657.03 481.90,655.64 482.10,654.68 482.30,653.91 482.50,653.35 482.70,653.04 482.90,652.54 483.10,652.18 483.30,652.04 483.50,651.80 483.70,651.57 483.90,651.44 484.10,651.32 484.30,651.16 484.50,651.07 484.70,651.22 484.90,651.09 485.10,651.13 485.30,651.00 485.50,650.90 485.70,650.64 485.90,650.60 486.10,650.48 486.30,650.51 486.50,650.64 486.70,650.78 486.90,650.94 487.10,650.96 487.30,651.09 487.50,651.14 487.70,650.92 487.90,650.71 488.10,650.69 488.30,650.69 488.50,650.54 488.70,650.56 488.90,650.70 489.10,650.69 489.30,650.51 489.50,650.57 489.70,650.60 489.90,650.29 490.10,650.20 490.30,650.27 490.50,650.11 490.70,650.19 490.90,650.37 491.10,650.49 491.30,677.25 491.50,673.37 491.70,667.18 491.90,662.56 492.10,659.45 492.30,657.43 492.50,656.07 492.70,655.07 492.90,654.21 493.10,653.55 493.30,652.93 493.50,652.55 493.70,652.27 493.90,652.26 494.10,652.06 494.30,651.92 494.50,651.64 494.70,651.50 494.90,651.26 495.10,651.01 495.30,650.91 495.50,650.90 495.70,650.86 495.90,650.83 496.10,650.92 496.30,650.98 496.50,650.97 496.70,650.83 496.90,650.77 497.10,650.74 497.30,650.51 497.50,650.55 497.70,650.59 497.90,650.53 498.10,650.38 498.30,650.53 498.50,650.58 498.70,650.61 498.90,650.72 499.10,650.98 499.30,650.91 499.50,650.94 499.70,650.85 499.90,650.70 500.10,650.56 500.30,650.51 500.50,650.42 500.70,650.58 500.90,650.68 501.10,650.76 501.30,650.95 501.50,651.06 501.70,676.62 501.90,672.84 502.10,667.14 502.30,662.53 502.50,659.27 502.70,657.07 502.90,655.79 503.10,654.49 503.30,653.79 503.50,653.34 503.70,653.15 503.90,652.57 504.10,652.39 504.30,652.17 504.50,652.08 504.70,651.77 504.90,651.73 505.10,651.57 505.30,651.51 505.50,651.37 505.70,651.26 505.90,651.20 506.10,651.04 506.30,650.90 506.50,650.70 506.70,650.65 506.90,650.64 507.10,650.90 507.30,650.88 507.50,650.91 507.70,650.89 507.90,650.85 508.10,650.65 508.30,650.69 508.50,650.81 508.70,650.88 508.90,650.78 509.10,650.84 509.30,650.70 509.50,650.43 509.70,650.47 509.90,650.65 510.10,650.69 510.30,650.71 510.50,650.57 510.70,650.42 510.90,650.31 511.10,650.17 511.30,650.31 511.50,650.51 511.70,650.61 511.90,673.13 512.10,677.43 512.30,670.96 512.50,665.45 512.70,661.52 512.90,658.80 513.10,656.84 513.30,655.62 513.50,654.60 513.70,653.89 513.90,653.44 514.10,653.12 514.30,652.83 514.50,652.58 514.70,652.31 514.90,651.86 515.10,651.65 515.30,651.53 515.50,651.36 515.70,651.27 515.90,651.20 516.10,651.11 516.30,650.94 516.50,650.95 516.70,650.84 516.90,651.08 517.10,650.78 517.30,650.63 517.50,650.50 517.70,650.47 517.90,650.21 518.10,650.39 518.30,650.35 518.50,650.28 518.70,650.19 518.90,650.35 519.10,650.32 519.30,650.66 519.50,650.84 519.70,650.88 519.90,650.82 520.10,650.96 520.30,650.64 520.50,650.41 520.70,650.55 520.90,650.41 521.10,650.39 521.30,650.54 521.50,650.53 521.70,650.46 521.90,650.58 522.10,650.62 522.30,673.87 522.50,678.43 522.70,671.95 522.90,666.13 523.10,662.12 523.30,659.45 523.50,657.64 523.70,656.30 523.90,655.43 524.10,654.48 524.30,653.77 524.50,653.27 524.70,652.84 524.90,652.40 525.10,652.22 525.30,651.92 525.50,651.66 525.70,651.55 525.90,651.41 526.10,651.18 526.30,651.33 526.50,651.26 526.70,651.05 526.90,650.95 527.10,650.85 527.30,650.51 527.50,650.28 527.70,650.25 527.90,650.29 528.10,650.45 528.30,650.55 528.50,650.76 528.70,650.85 528.90,650.70 529.10,650.56 529.30,650.58 529.50,650.54 529.70,650.57 529.90,650.54 530.10,650.44 530.30,650.57 530.50,650.49 530.70,650.48 530.90,650.59 531.10,650.63 531.30,650.58 531.50,650.63 531.70,650.67 531.90,650.71 532.10,650.74 532.30,650.63 532.50,650.67 532.70,650.49 532.90,677.56 533.10,673.84 533.30,667.64 533.50,662.94 533.70,659.86 533.90,657.78 534.10,656.18 534.30,655.15 534.50,654.42 534.70,653.74 534.90,653.22 535.10,652.86 535.30,652.58 535.50,652.33 535.70,652.24 535.90,651.91 536.10,651.75 536.30,651.60 536.50,651.38 536.70,651.18 536.90,651.28 537.10,651.15 537.30,651.06 537.50,650.92 537.70,650.84 537.90,650.70 538.10,650.59 538.30,650.55 538.50,650.66 538.70,650.76 538.90,650.71 539.10,650.92 539.30,651.01 539.50,651.02 539.70,650.95 539.90,650.97 540.10,650.75 540.30,650.65 540.50,650.58 540.70,650.54 540.90,650.65 541.10,650.85 541.30,650.90 541.50,650.97 541.70,650.90 541.90,650.62 542.10,650.45 542.30,650.42 542.50,650.45 542.70,650.70 542.90,650.88 543.10,650.99 543.30,673.87 543.50,678.06 543.70,671.62 543.90,666.00 544.10,662.07 544.30,659.20 544.50,657.15 544.70,655.78 544.90,654.86 545.10,654.10 545.30,653.57 545.50,653.35 545.70,652.92 545.90,652.59 546.10,652.19 546.30,651.92 546.50,651.76 546.70,651.55 546.90,651.24 547.10,651.23 547.30,651.22 547.50,650.87 547.70,650.98 547.90,650.92 548.10,650.76 548.30,650.69 548.50,650.99 548.70,650.85 548.90,650.98 549.10,650.98 549.30,651.00 549.50,650.70 549.70,650.68 549.90,650.54 550.10,650.45 550.30,650.42 550.50,650.60 550.70,650.63 550.90,650.65 551.10,650.78 551.30,650.66 551.50,650.59 551.70,650.59 551.90,650.60 552.10,650.52 552.30,650.61 552.50,650.54 552.70,650.48 552.90,650.54 553.10,650.41 553.30,650.49 553.50,650.57 553.70,650.61 553.90,677.57 554.10,673.79 554.30,667.54 554.50,662.97 554.70,659.86 554.90,657.88 555.10,656.42 555.30,655.23 555.50,654.30 555.70,653.61 555.90,653.05 556.10,652.53 556.30,652.35 556.50,652.16 556.70,651.91 556.90,651.67 557.10,651.80 557.30,651.67 557.50,651.69 557.70,651.65 557.90,651.51 558.10,651.28 558.30,651.18 558.50,650.95 558.70,650.69 558.90,650.73 559.10,650.59 559.30,650.68 559.50,650.66 559.70,650.78 559.90,650.64 560.10,650.66 560.30,650.52 560.50,650.44 560.70,650.60 560.90,650.66 561.10,650.71 561.30,650.85 561.50,650.94 561.70,650.83 561.90,650.87 562.10,650.87 562.30,650.80 562.50,650.80 562.70,650.76 562.90,650.67 563.10,650.56 563.30,650.46 563.50,650.43 563.70,650.52 563.90,650.49 564.10,677.57 564.30,676.50 564.50,669.91 564.70,664.61 564.90,661.02 565.10,658.61 565.30,656.78 565.50,655.55 565.70,654.60 565.90,653.89 566.10,653.20 566.30,652.98 566.50,652.63 566.70,652.43 566.90,652.18 567.10,652.08 567.30,651.83 567.50,651.68 567.70,651.26 567.90,651.29 568.10,651.24 568.30,651.16 568.50,651.05 568.70,651.16 568.90,651.02 569.10,650.88 569.30,650.84 569.50,650.85 569.70,650.74 569.90,650.66 570.10,650.63 570.30,650.59 570.50,650.44 570.70,650.38 570.90,650.42 571.10,650.50 571.30,650.51 571.50,650.32 571.70,650.27 571.90,650.26 572.10,650.33 572.30,650.42 572.50,650.68 572.70,650.76 572.90,650.69 573.10,650.69 573.30,650.61 573.50,650.55 573.70,650.66 573.90,650.75 574.10,650.45 574.30,678.38 574.50,674.52 574.70,668.20 574.90,663.30 575.10,660.21 575.30,658.11 575.50,656.51 575.70,655.24 575.90,654.50 576.10,653.92 576.30,653.39 576.50,652.88 576.70,652.81 576.90,652.56 577.10,652.15 577.30,651.88 577.50,651.57 577.70,651.17 577.90,651.02 578.10,651.21 578.30,651.15 578.50,651.31 578.70,651.35 578.90,651.30 579.10,651.01 579.30,651.05 579.50,651.02 579.70,651.04 579.90,651.07 580.10,651.01 580.30,650.84 580.50,650.75 580.70,650.58 580.90,650.51 581.10,650.56 581.30,650.52 581.50,650.65 581.70,650.78 581.90,650.74 582.10,650.66 582.30,650.67 582.50,650.49 582.70,650.31 582.90,650.22 583.10,650.32 583.30,650.39 583.50,650.48 583.70,650.48 583.90,650.57 584.10,650.71 584.30,650.70 584.50,650.64 584.70,674.07 584.90,678.42 585.10,671.81 585.30,666.15 585.50,662.11 585.70,659.13 585.90,657.31 586.10,655.98 586.30,654.82 586.50,654.19 586.70,653.71 586.90,653.07 587.10,652.71 587.30,652.60 587.50,652.30 587.70,652.08 587.90,651.98 588.10,651.79 588.30,651.52 588.50,651.35 588.70,651.19 588.90,650.89 589.10,650.71 589.30,650.68 589.50,650.69 589.70,650.57 589.90,650.73 590.10,650.76 590.30,650.61 590.50,650.54 590.70,650.56 590.90,650.49 591.10,650.45 591.30,650.55 591.50,650.51 591.70,650.48 591.90,650.50 592.10,650.56 592.30,650.59 592.50,650.61 592.70,650.76 592.90,650.88 593.10,650.89 593.30,650.75 593.50,650.77 593.70,650.57 593.90,650.58 594.10,650.46 594.30,650.52 594.50,650.59 594.70,650.63 594.90,650.57 595.10,650.74 595.30,677.03 595.50,673.20 595.70,667.20 595.90,662.66 596.10,659.73 596.30,657.67 596.50,656.18 596.70,655.12 596.90,654.47 597.10,653.64 597.30,653.12 597.50,652.66 597.70,652.36 597.90,651.88 598.10,651.70 598.30,651.53 598.50,651.40 598.70,651.26 598.90,651.17 599.10,651.06 599.30,651.00 599.50,650.85 599.70,650.86 599.90,650.84 600.10,650.90 600.30,650.90 600.50,650.96 600.70,651.01 600.90,650.94 601.10,650.94 601.30,650.88 601.50,650.78 601.70,650.71 601.90,650.66 602.10,650.68 602.30,650.67 602.50,650.59 602.70,650.46 602.90,650.49 603.10,650.30 603.30,650.31 603.50,650.49 603.70,650.65 603.90,650.73 604.10,650.70 604.30,650.75 604.50,650.77 604.70,650.54 604.90,650.45 605.10,650.49 605.30,650.34 605.50,650.33 605.70,675.09 605.90,679.76 606.10,672.89 606.30,666.72 606.50,662.31 606.70,659.31 606.90,657.23 607.10,655.75 607.30,654.75 607.50,654.01 607.70,653.49 607.90,653.03 608.10,652.78 608.30,652.56 608.50,652.31 608.70,652.13 608.90,651.91 609.10,651.76 609.30,651.51 609.50,651.47 609.70,651.32 609.90,651.36 610.10,651.26 610.30,651.28 610.50,651.02 610.70,650.93 610.90,650.90 611.10,650.63 611.30,650.74 611.50,650.74 611.70,650.72 611.90,650.53 612.10,650.71 612.30,650.62 612.50,650.65 612.70,650.73 612.90,650.79 613.10,650.84 613.30,650.72 613.50,650.68 613.70,650.50 613.90,650.53 614.10,650.61 614.30,650.65 614.50,650.58 614.70,650.56 614.90,650.41 615.10,650.32 615.30,650.32 615.50,650.33 615.70,650.35 615.90,673.67 616.10,678.02 616.30,671.57 616.50,666.00 616.70,662.04 616.90,659.19 617.10,657.29 617.30,656.15 617.50,655.03 617.70,654.34 617.90,653.80 618.10,653.38 618.30,652.89 618.50,652.68 618.70,652.33 618.90,652.11 619.10,651.92 619.30,651.76 619.50,651.48 619.70,651.40 619.90,651.39 620.10,651.31 620.30,651.21 620.50,651.11 620.70,651.05 620.90,650.95 621.10,650.94 621.30,650.81 621.50,650.89 621.70,650.77 621.90,650.67 622.10,650.40 622.30,650.41 622.50,650.38 622.70,650.37 622.90,650.50 623.10,650.58 623.30,650.57 623.50,650.68 623.70,650.65 623.90,650.62 624.10,650.69 624.30,650.67 624.50,650.52 624.70,650.58 624.90,650.46 625.10,650.43 625.30,650.43 625.50,650.53 625.70,650.46 625.90,650.44 626.10,650.42 626.30,650.36 626.50,678.79 626.70,674.73 626.90,668.23 627.10,663.28 627.30,660.17 627.50,657.92 627.70,656.35 627.90,655.28 628.10,654.70 628.30,653.94 628.50,653.31 628.70,652.95 628.90,652.58 629.10,652.20 629.30,651.96 629.50,652.00 629.70,651.81 629.90,651.71 630.10,651.65 630.30,651.76 630.50,651.51 630.70,651.47 630.90,651.45 631.10,651.31 631.30,650.94 631.50,650.85 631.70,650.83 631.90,650.78 632.10,650.66 632.30,650.87 632.50,651.02 632.70,650.94 632.90,650.83 633.10,650.86 633.30,650.81 633.50,650.55 633.70,650.35 633.90,650.35 634.10,650.42 634.30,650.32 634.50,650.51 634.70,650.64 634.90,650.71 635.10,650.72 635.30,650.98 635.50,650.98 635.70,651.06 635.90,651.02 636.10,651.05 636.30,650.77 636.50,674.73 636.70,679.10 636.90,672.44 637.10,666.35 637.30,662.10 637.50,659.16 637.70,657.39 637.90,656.10 638.10,655.21 638.30,654.57 638.50,653.96 638.70,653.35 638.90,652.85 639.10,652.38 639.30,652.06 639.50,651.95 639.70,651.76 639.90,651.67 640.10,651.56 640.30,651.44 640.50,651.41 640.70,651.47 640.90,651.47 641.10,651.40 641.30,651.36 641.50,651.28 641.70,651.13 641.90,651.10 642.10,651.17 642.30,651.14 642.50,651.01 642.70,650.78 642.90,650.75 643.10,650.68 643.30,650.56 643.50,650.57 643.70,650.65 643.90,650.51 644.10,650.59 644.30,650.62 644.50,650.81 644.70,650.82 644.90,650.79 645.10,650.66 645.30,650.88 645.50,650.67 645.70,650.71 645.90,650.59 646.10,650.62 646.30,650.32 646.50,650.32 646.70,650.38 646.90,650.54 647.10,674.12 647.30,678.64 647.50,672.10 647.70,666.19 647.90,662.21 648.10,659.38 648.30,657.48 648.50,656.08 648.70,654.93 648.90,654.10 649.10,653.50 649.30,653.05 649.50,652.83 649.70,652.71 649.90,652.36 650.10,652.17 650.30,651.97 650.50,651.70 650.70,651.30 650.90,651.18 651.10,651.04 651.30,650.98 651.50,650.89 651.70,650.88 651.90,650.99 652.10,650.94 652.30,650.79 652.50,650.81 652.70,650.94 652.90,650.79 653.10,650.72 653.30,650.68 653.50,650.68 653.70,650.60 653.90,650.63 654.10,650.50 654.30,650.50 654.50,650.39 654.70,650.35 654.90,650.15 655.10,650.26 655.30,650.42 655.50,650.46 655.70,650.45 655.90,650.55 656.10,650.47 656.30,650.34 656.50,650.32" fill="none" stroke="#555" stroke-width="0.9" stroke-linejoin="round"/>
<polyline clip-path="url(#cD)" points="456.10,650.36 456.30,650.35 456.50,650.36 456.70,650.28 456.90,650.28 457.10,650.48 457.30,650.48 457.50,650.44 457.70,650.55 457.90,650.60 458.10,650.48 458.30,650.55 458.50,650.56 458.70,650.57 458.90,650.51 459.10,650.59 459.30,650.62 459.50,650.69 459.70,650.65 459.90,650.74 460.10,671.91 460.30,675.79 460.50,669.95 460.70,664.68 460.90,661.13 461.10,658.50 461.30,656.84 461.50,655.51 461.70,654.69 461.90,653.97 462.10,653.43 462.30,653.08 462.50,652.74 462.70,652.35 462.90,652.03 463.10,651.82 463.30,651.58 463.50,651.55 463.70,651.26 463.90,651.01 464.10,650.94 464.30,650.81 464.50,650.61 464.70,650.70 464.90,650.80 465.10,650.73 465.30,650.67 465.50,650.61 465.70,650.71 465.90,650.75 466.10,650.71 466.30,650.47 466.50,650.43 466.70,650.41 466.90,650.23 467.10,650.39 467.30,650.46 467.50,650.51 467.70,650.42 467.90,650.54 468.10,650.43 468.30,650.45 468.50,650.54 468.70,650.55 468.90,650.50 469.10,650.50 469.30,650.53 469.50,650.51 469.70,650.30 469.90,650.28 470.10,650.39 470.30,650.48 470.50,676.10 470.70,672.49 470.90,666.78 471.10,662.29 471.30,659.25 471.50,657.30 471.70,655.96 471.90,654.83 472.10,654.23 472.30,653.63 472.50,653.30 472.70,653.01 472.90,652.72 473.10,652.42 473.30,652.31 473.50,652.06 473.70,651.91 473.90,651.70 474.10,651.63 474.30,651.44 474.50,651.20 474.70,651.14 474.90,651.17 475.10,650.98 475.30,650.94 475.50,651.01 475.70,651.05 475.90,650.95 476.10,650.82 476.30,650.74 476.50,650.71 476.70,650.53 476.90,650.46 477.10,650.60 477.30,650.69 477.50,650.62 477.70,650.65 477.90,650.64 478.10,650.53 478.30,650.43 478.50,650.34 478.70,650.34 478.90,650.37 479.10,650.38 479.30,650.41 479.50,650.52 479.70,650.43 479.90,650.39 480.10,650.36 480.30,650.46 480.50,650.31 480.70,676.06 480.90,672.48 481.10,666.67 481.30,662.13 481.50,659.21 481.70,657.03 481.90,655.64 482.10,654.68 482.30,653.91 482.50,653.35 482.70,653.04 482.90,652.54 483.10,652.18 483.30,652.04 483.50,651.80 483.70,651.57 483.90,651.44 484.10,651.32 484.30,651.16 484.50,651.07 484.70,651.22 484.90,651.09 485.10,651.13 485.30,651.00 485.50,650.90 485.70,650.64 485.90,650.60 486.10,650.48 486.30,650.51 486.50,650.64 486.70,650.78 486.90,650.94 487.10,650.96 487.30,651.09 487.50,651.14 487.70,650.92 487.90,650.71 488.10,650.69 488.30,650.69 488.50,650.54 488.70,650.56 488.90,650.70 489.10,650.69 489.30,650.51 489.50,650.57 489.70,650.60 489.90,650.29 490.10,650.20 490.30,650.27 490.50,650.11 490.70,650.19 490.90,650.37 491.10,650.49 491.30,677.25 491.50,673.37 491.70,667.18 491.90,662.56 492.10,659.45 492.30,657.43 492.50,656.07 492.70,655.07 492.90,654.21 493.10,653.55 493.30,652.93 493.50,652.55 493.70,652.27 493.90,652.26 494.10,652.06 494.30,651.92 494.50,651.64 494.70,651.50 494.90,651.26 495.10,651.01 495.30,650.91 495.50,650.90 495.70,650.86 495.90,650.83 496.10,650.92 496.30,650.98 496.50,650.97 496.70,650.83 496.90,650.77 497.10,650.74 497.30,650.51 497.50,650.55 497.70,650.59 497.90,650.53 498.10,650.38 498.30,650.53 498.50,650.58 498.70,650.61 498.90,650.72 499.10,650.98 499.30,650.91 499.50,650.94 499.70,650.85 499.90,650.70 500.10,650.56 500.30,650.51 500.50,650.42 500.70,650.58 500.90,650.68 501.10,650.76 501.30,650.95 501.50,651.06 501.70,676.62 501.90,672.84 502.10,667.14 502.30,662.53 502.50,659.27 502.70,657.07 502.90,655.79 503.10,654.49 503.30,653.79 503.50,653.34 503.70,653.15 503.90,652.57 504.10,652.39 504.30,652.17 504.50,652.08 504.70,651.77 504.90,651.73 505.10,651.57 505.30,651.51 505.50,651.37 505.70,651.26 505.90,651.20 506.10,651.04 506.30,650.90 506.50,650.70 506.70,650.65 506.90,650.64 507.10,650.90 507.30,650.88 507.50,650.91 507.70,650.89 507.90,650.85 508.10,650.65 508.30,650.69 508.50,650.81 508.70,650.88 508.90,650.78 509.10,650.84 509.30,650.70 509.50,650.43 509.70,650.47 509.90,650.65 510.10,650.69 510.30,650.71 510.50,650.57 510.70,650.42 510.90,650.31 511.10,650.17 511.30,650.31 511.50,650.51 511.70,650.61 511.90,673.13 512.10,677.43 512.30,670.96 512.50,665.45 512.70,661.52 512.90,658.80 513.10,656.84 513.30,655.62 513.50,654.60 513.70,653.89 513.90,653.44 514.10,653.12 514.30,652.83 514.50,652.58 514.70,652.31 514.90,651.86 515.10,651.65 515.30,651.53 515.50,651.36 515.70,651.27 515.90,651.20 516.10,651.11 516.30,650.94 516.50,650.95 516.70,650.84 516.90,651.08 517.10,650.78 517.30,650.63 517.50,650.50 517.70,650.47 517.90,650.21 518.10,650.39 518.30,650.35 518.50,650.28 518.70,650.19 518.90,650.35 519.10,650.32 519.30,650.66 519.50,650.84 519.70,650.88 519.90,650.82 520.10,650.96 520.30,650.64 520.50,650.41 520.70,650.55 520.90,650.41 521.10,650.39 521.30,650.54 521.50,650.53 521.70,650.46 521.90,650.58 522.10,650.62 522.30,673.87 522.50,678.43 522.70,671.95 522.90,666.13 523.10,662.12 523.30,659.45 523.50,657.64 523.70,656.30 523.90,655.43 524.10,654.48 524.30,653.77 524.50,653.27 524.70,652.84 524.90,652.40 525.10,652.22 525.30,651.92 525.50,651.66 525.70,651.55 525.90,651.41 526.10,651.18 526.30,651.33 526.50,651.26 526.70,651.05 526.90,650.95 527.10,650.85 527.30,650.51 527.50,650.28 527.70,650.25 527.90,650.29 528.10,650.45 528.30,650.55 528.50,650.76 528.70,650.85 528.90,650.70 529.10,650.56 529.30,650.58 529.50,650.54 529.70,650.57 529.90,650.54 530.10,650.44 530.30,650.57 530.50,650.49 530.70,650.48 530.90,650.59 531.10,650.63 531.30,650.58 531.50,650.63 531.70,650.67 531.90,650.71 532.10,650.74 532.30,650.63 532.50,650.67 532.70,650.49 532.90,677.56 533.10,673.84 533.30,667.64 533.50,662.94 533.70,659.86 533.90,657.78 534.10,656.18 534.30,655.15 534.50,654.42 534.70,653.74 534.90,653.22 535.10,652.86 535.30,652.58 535.50,652.33 535.70,652.24 535.90,651.91 536.10,651.75 536.30,651.60 536.50,651.38 536.70,651.18 536.90,651.28 537.10,651.15 537.30,651.06 537.50,650.92 537.70,650.84 537.90,650.70 538.10,650.59 538.30,650.55 538.50,650.66 538.70,650.76 538.90,650.71 539.10,650.92 539.30,651.01 539.50,651.02 539.70,650.95 539.90,650.97 540.10,650.75 540.30,650.65 540.50,650.58 540.70,650.54 540.90,650.65 541.10,650.85 541.30,650.90 541.50,650.97 541.70,650.90 541.90,650.62 542.10,650.45 542.30,650.42 542.50,650.45 542.70,650.70 542.90,650.88 543.10,650.99 543.30,673.87 543.50,678.06 543.70,671.62 543.90,666.00 544.10,662.07 544.30,659.20 544.50,657.15 544.70,655.78 544.90,654.86 545.10,654.10 545.30,653.57 545.50,653.35 545.70,652.92 545.90,652.59 546.10,652.19 546.30,651.92 546.50,651.76 546.70,651.55 546.90,651.24 547.10,651.23 547.30,651.22 547.50,650.87 547.70,650.98 547.90,650.92 548.10,650.76 548.30,650.69 548.50,650.99 548.70,650.85 548.90,650.98 549.10,650.98 549.30,651.00 549.50,650.70 549.70,650.68 549.90,650.54 550.10,650.45 550.30,650.42 550.50,650.60 550.70,650.63 550.90,650.65 551.10,650.78 551.30,650.66 551.50,650.59 551.70,650.59 551.90,650.60 552.10,650.52 552.30,650.61 552.50,650.54 552.70,650.48 552.90,650.54 553.10,650.41 553.30,650.49 553.50,650.57 553.70,650.61 553.90,677.57 554.10,673.79 554.30,667.54 554.50,662.97 554.70,659.86 554.90,657.88 555.10,656.42 555.30,655.23 555.50,654.30 555.70,653.61 555.90,653.05 556.10,652.53 556.30,652.35 556.50,652.16 556.70,651.91 556.90,651.67 557.10,651.80 557.30,651.67 557.50,651.69 557.70,651.65 557.90,651.51 558.10,651.28 558.30,651.18 558.50,650.95 558.70,650.69 558.90,650.73 559.10,650.59 559.30,650.68 559.50,650.66 559.70,650.78 559.90,650.64 560.10,650.66 560.30,650.52 560.50,650.44 560.70,650.60 560.90,650.66 561.10,650.71 561.30,650.85 561.50,650.94 561.70,650.83 561.90,650.87 562.10,650.87 562.30,650.80 562.50,650.80 562.70,650.76 562.90,650.67 563.10,650.56 563.30,650.46 563.50,650.43 563.70,650.52 563.90,650.49 564.10,677.57 564.30,676.50 564.50,669.91 564.70,664.61 564.90,661.02 565.10,658.61 565.30,656.78 565.50,655.55 565.70,654.60 565.90,653.89 566.10,653.20 566.30,652.98 566.50,652.63 566.70,652.43 566.90,652.18 567.10,652.08 567.30,651.83 567.50,651.68 567.70,651.26 567.90,651.29 568.10,651.24 568.30,651.16 568.50,651.05 568.70,651.16 568.90,651.02 569.10,650.88 569.30,650.84 569.50,650.85 569.70,650.74 569.90,650.66 570.10,650.63 570.30,650.59 570.50,650.44 570.70,650.38 570.90,650.42 571.10,650.50 571.30,650.51 571.50,650.32 571.70,650.27 571.90,650.26 572.10,650.33 572.30,650.42 572.50,650.68 572.70,650.76 572.90,650.69 573.10,650.69 573.30,650.61 573.50,650.55 573.70,650.66 573.90,650.75 574.10,650.45 574.30,678.38 574.50,674.52 574.70,668.20 574.90,663.30 575.10,660.21 575.30,658.11 575.50,656.51 575.70,655.24 575.90,654.50 576.10,653.92 576.30,653.39 576.50,652.88 576.70,652.81 576.90,652.56 577.10,652.15 577.30,651.88 577.50,651.57 577.70,651.17 577.90,651.02 578.10,651.21 578.30,651.15 578.50,651.31 578.70,651.35 578.90,651.30 579.10,651.01 579.30,651.05 579.50,651.02 579.70,651.04 579.90,651.07 580.10,651.01 580.30,650.84 580.50,650.75 580.70,650.58 580.90,650.51 581.10,650.56 581.30,650.52 581.50,650.65 581.70,650.78 581.90,650.74 582.10,650.66 582.30,650.67 582.50,650.49 582.70,650.31 582.90,650.22 583.10,650.32 583.30,650.39 583.50,650.48 583.70,650.48 583.90,650.57 584.10,650.71 584.30,650.70 584.50,650.64 584.70,674.07 584.90,678.42 585.10,671.81 585.30,666.15 585.50,662.11 585.70,659.13 585.90,657.31 586.10,655.98 586.30,654.82 586.50,654.19 586.70,653.71 586.90,653.07 587.10,652.71 587.30,652.60 587.50,652.30 587.70,652.08 587.90,651.98 588.10,651.79 588.30,651.52 588.50,651.35 588.70,651.19 588.90,650.89 589.10,650.71 589.30,650.68 589.50,650.69 589.70,650.57 589.90,650.73 590.10,650.76 590.30,650.61 590.50,650.54 590.70,650.56 590.90,650.49 591.10,650.45 591.30,650.55 591.50,650.51 591.70,650.48 591.90,650.50 592.10,650.56 592.30,650.59 592.50,650.61 592.70,650.76 592.90,650.88 593.10,650.89 593.30,650.75 593.50,650.77 593.70,650.57 593.90,650.58 594.10,650.46 594.30,650.52 594.50,650.59 594.70,650.63 594.90,650.57 595.10,650.74 595.30,677.03 595.50,673.20 595.70,667.20 595.90,662.66 596.10,659.73 596.30,657.67 596.50,656.18 596.70,655.12 596.90,654.47 597.10,653.64 597.30,653.12 597.50,652.66 597.70,652.36 597.90,651.88 598.10,651.70 598.30,651.53 598.50,651.40 598.70,651.26 598.90,651.17 599.10,651.06 599.30,651.00 599.50,650.85 599.70,650.86 599.90,650.84 600.10,650.90 600.30,650.90 600.50,650.96 600.70,651.01 600.90,650.94 601.10,650.94 601.30,650.88 601.50,650.78 601.70,650.71 601.90,650.66 602.10,650.68 602.30,650.67 602.50,650.59 602.70,650.46 602.90,650.49 603.10,650.30 603.30,650.31 603.50,650.49 603.70,650.65 603.90,650.73 604.10,650.70 604.30,650.75 604.50,650.77 604.70,650.54 604.90,650.45 605.10,650.49 605.30,650.34 605.50,650.33 605.70,675.09 605.90,679.76 606.10,672.89 606.30,666.72 606.50,662.31 606.70,659.31 606.90,657.23 607.10,655.75 607.30,654.75 607.50,654.01 607.70,653.49 607.90,653.03 608.10,652.78 608.30,652.56 608.50,652.31 608.70,652.13 608.90,651.91 609.10,651.76 609.30,651.51 609.50,651.47 609.70,651.32 609.90,651.36 610.10,651.26 610.30,651.28 610.50,651.02 610.70,650.93 610.90,650.90 611.10,650.63 611.30,650.74 611.50,650.74 611.70,650.72 611.90,650.53 612.10,650.71 612.30,650.62 612.50,650.65 612.70,650.73 612.90,650.79 613.10,650.84 613.30,650.72 613.50,650.68 613.70,650.50 613.90,650.53 614.10,650.61 614.30,650.65 614.50,650.58 614.70,650.56 614.90,650.41 615.10,650.32 615.30,650.32 615.50,650.33 615.70,650.35 615.90,673.67 616.10,678.02 616.30,671.57 616.50,666.00 616.70,662.04 616.90,659.19 617.10,657.29 617.30,656.15 617.50,655.03 617.70,654.34 617.90,653.80 618.10,653.38 618.30,652.89 618.50,652.68 618.70,652.33 618.90,652.11 619.10,651.92 619.30,651.76 619.50,651.48 619.70,651.40 619.90,651.39 620.10,651.31 620.30,651.21 620.50,651.11 620.70,651.05 620.90,650.95 621.10,650.94 621.30,650.81 621.50,650.89 621.70,650.77 621.90,650.67 622.10,650.40 622.30,650.41 622.50,650.38 622.70,650.37 622.90,650.50 623.10,650.58 623.30,650.57 623.50,650.68 623.70,650.65 623.90,650.62 624.10,650.69 624.30,650.67 624.50,650.52 624.70,650.58 624.90,650.46 625.10,650.43 625.30,650.43 625.50,650.53 625.70,650.46 625.90,650.44 626.10,650.42 626.30,650.36 626.50,678.79 626.70,674.73 626.90,668.23 627.10,663.28 627.30,660.17 627.50,657.92 627.70,656.35 627.90,655.28 628.10,654.70 628.30,653.94 628.50,653.31 628.70,652.95 628.90,652.58 629.10,652.20 629.30,651.96 629.50,652.00 629.70,651.81 629.90,651.71 630.10,651.65 630.30,651.76 630.50,651.51 630.70,651.47 630.90,651.45 631.10,651.31 631.30,650.94 631.50,650.85 631.70,650.83 631.90,650.78 632.10,650.66 632.30,650.87 632.50,651.02 632.70,650.94 632.90,650.83 633.10,650.86 633.30,650.81 633.50,650.55 633.70,650.35 633.90,650.35 634.10,650.42 634.30,650.32 634.50,650.51 634.70,650.64 634.90,650.71 635.10,650.72 635.30,650.98 635.50,650.98 635.70,651.06 635.90,651.02 636.10,651.05 636.30,650.77 636.50,674.73 636.70,679.10 636.90,672.44 637.10,666.35 637.30,662.10 637.50,659.16 637.70,657.39 637.90,656.10 638.10,655.21 638.30,654.57 638.50,653.96 638.70,653.35 638.90,652.85 639.10,652.38 639.30,652.06 639.50,651.95 639.70,651.76 639.90,651.67 640.10,651.56 640.30,651.44 640.50,651.41 640.70,651.47 640.90,651.47 641.10,651.40 641.30,651.36 641.50,651.28 641.70,651.13 641.90,651.10 642.10,651.17 642.30,651.14 642.50,651.01 642.70,650.78 642.90,650.75 643.10,650.68 643.30,650.56 643.50,650.57 643.70,650.65 643.90,650.51 644.10,650.59 644.30,650.62 644.50,650.81 644.70,650.82 644.90,650.79 645.10,650.66 645.30,650.88 645.50,650.67 645.70,650.71 645.90,650.59 646.10,650.62 646.30,650.32 646.50,650.32 646.70,650.38 646.90,650.54 647.10,674.12 647.30,678.64 647.50,672.10 647.70,666.19 647.90,662.21 648.10,659.38 648.30,657.48 648.50,656.08 648.70,654.93 648.90,654.10 649.10,653.50 649.30,653.05 649.50,652.83 649.70,652.71 649.90,652.36 650.10,652.17 650.30,651.97 650.50,651.70 650.70,651.30 650.90,651.18 651.10,651.04 651.30,650.98 651.50,650.89 651.70,650.88 651.90,650.99 652.10,650.94 652.30,650.79 652.50,650.81 652.70,650.94 652.90,650.79 653.10,650.72 653.30,650.68 653.50,650.68 653.70,650.60 653.90,650.63 654.10,650.50 654.30,650.50 654.50,650.39 654.70,650.35 654.90,650.15 655.10,650.26 655.30,650.42 655.50,650.46 655.70,650.45 655.90,650.55 656.10,650.47 656.30,650.34 656.50,650.32" fill="none" stroke="#222" stroke-width="1.4" stroke-linejoin="round"/>
</g>
<path d="M466.40 859.70h5.2v5.2h-5.2z M476.60 864.60h5.2v5.2h-5.2z M486.90 864.20h5.2v5.2h-5.2z M497.40 865.10h5.2v5.2h-5.2z M507.60 862.10h5.2v5.2h-5.2z M517.90 861.20h5.2v5.2h-5.2z M528.40 860.40h5.2v5.2h-5.2z M539.30 863.70h5.2v5.2h-5.2z M550.20 865.10h5.2v5.2h-5.2z M560.85 864.30h5.2v5.2h-5.2z M571.60 862.00h5.2v5.2h-5.2z M583.00 860.50h5.2v5.2h-5.2z M594.20 867.00h5.2v5.2h-5.2z M605.40 865.80h5.2v5.2h-5.2z M617.00 870.20h5.2v5.2h-5.2z M628.40 866.00h5.2v5.2h-5.2z M639.70 869.30h5.2v5.2h-5.2z M651.50 869.60h5.2v5.2h-5.2z M663.20 868.90h5.2v5.2h-5.2z" fill="#000"/>
<text transform="translate(559.20,542.80) scale(0.9626,1)" font-size="17.76" text-anchor="middle">time (min)</text>
<g transform="translate(490.40,1009.50) scale(0.9505,1)"><text style="" ><tspan font-size="17.55" x="0.00">[F5]</tspan><tspan font-size="11.56" dy="7.00">T</tspan><tspan font-size="17.55" dy="-7.00">/[NTD K85A]</tspan><tspan font-size="11.56" dy="7.00">T</tspan></text></g>
<text transform="translate(393.10,686.50) rotate(-90)" x="0" y="0" font-size="18.0" text-anchor="middle" textLength="100.4" lengthAdjust="spacingAndGlyphs">dQ/dt (µcal/s)</text>
<text transform="translate(393.10,878.30) rotate(-90)" x="0" y="0" font-size="18.0" text-anchor="middle" textLength="182" lengthAdjust="spacingAndGlyphs">Q (kcal/mol of injectant)</text>
<text transform="translate(350.80,546.20) scale(0.9709,1)" font-size="34.51" text-anchor="start" style="font-weight:bold;fill:#000;" stroke="#000" stroke-width="0.7">D</text>
</svg></body></html>
